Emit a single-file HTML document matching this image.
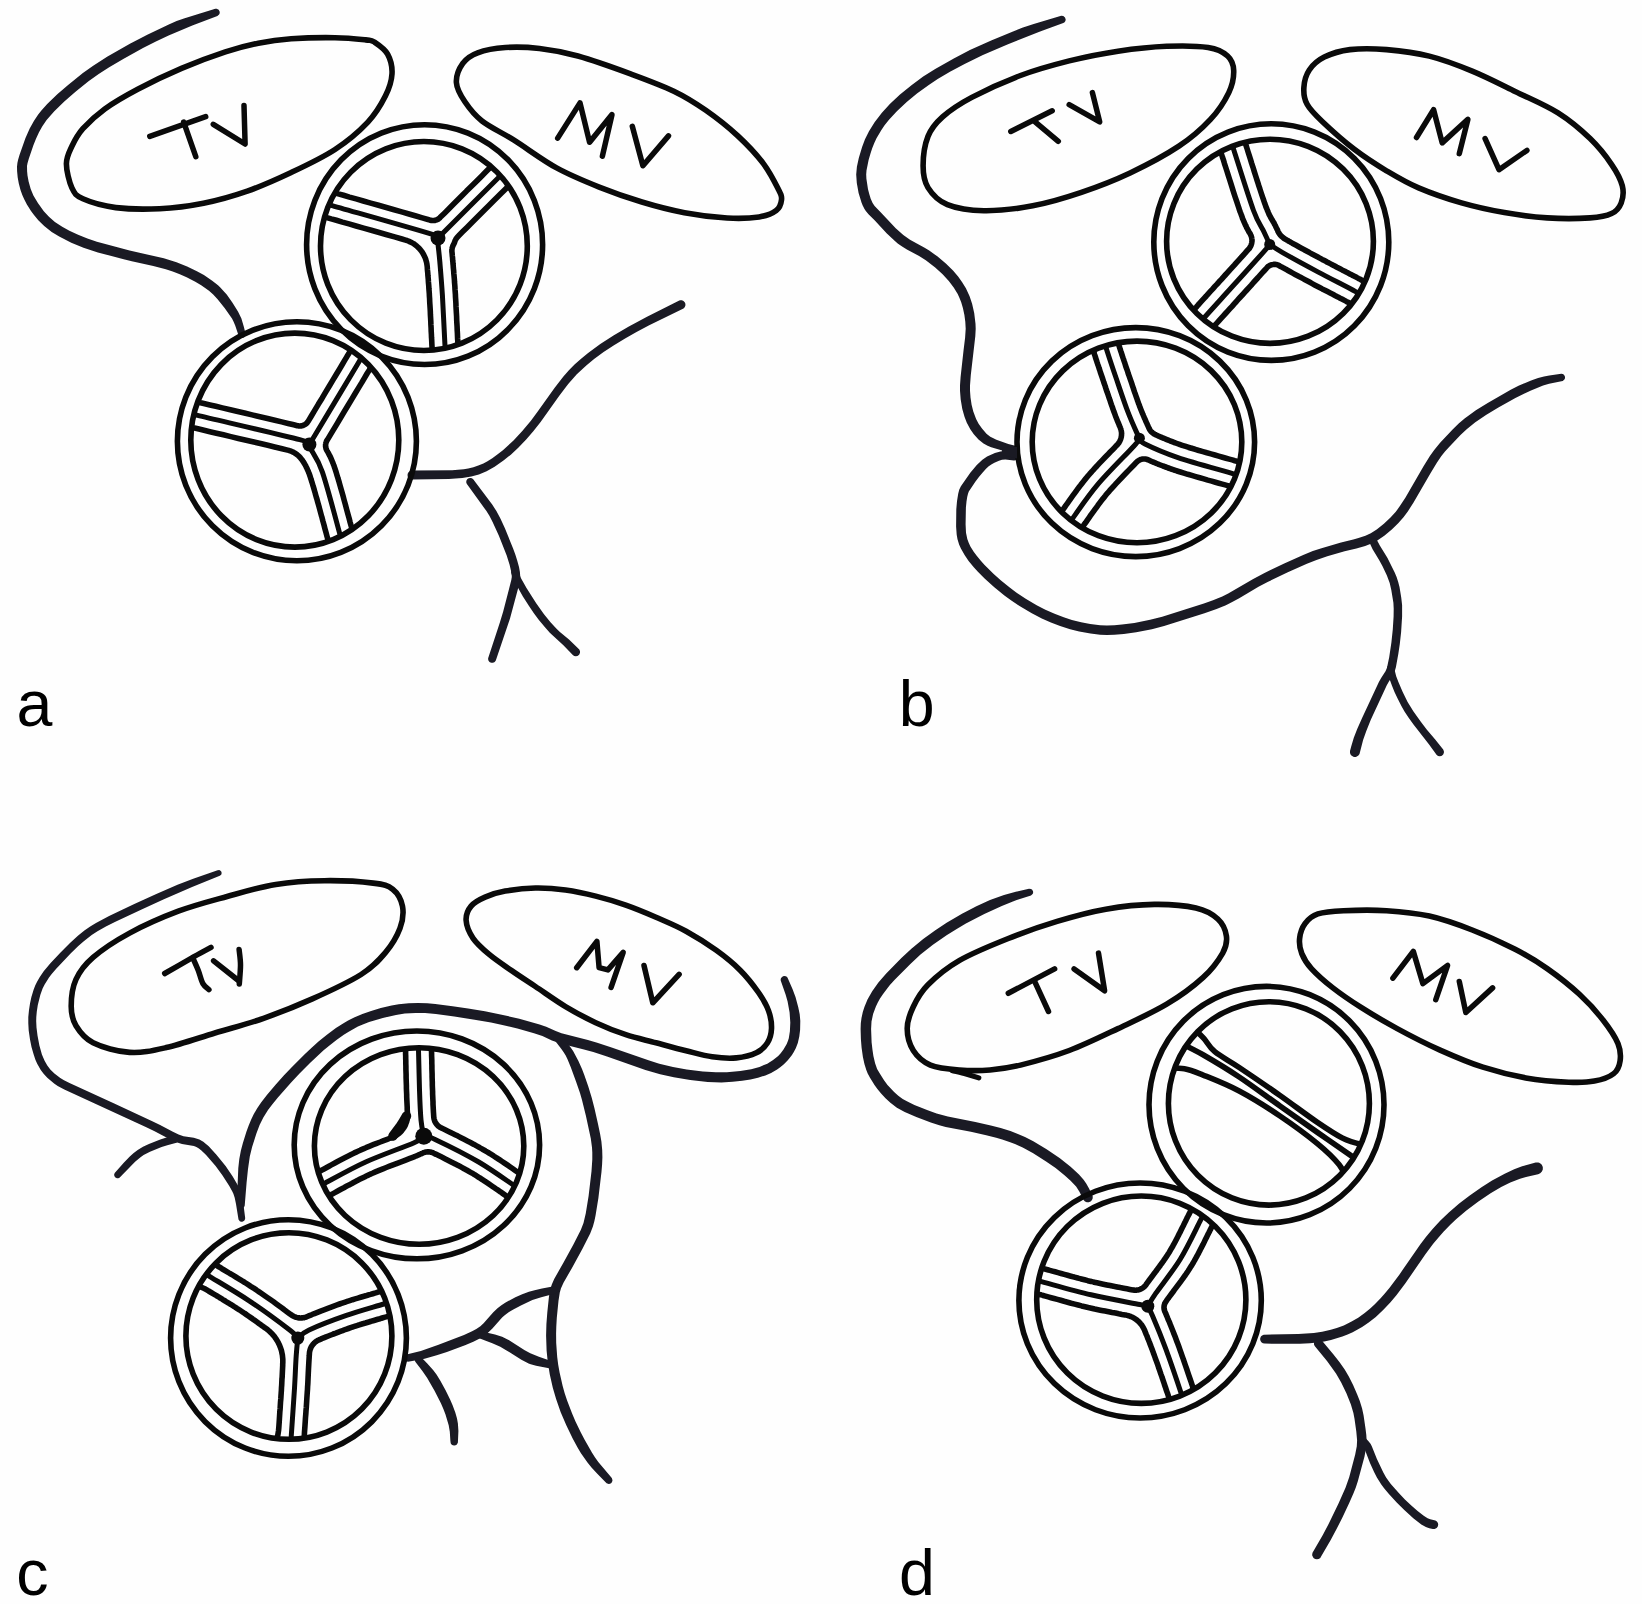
<!DOCTYPE html>
<html><head><meta charset="utf-8"><style>
html,body{margin:0;padding:0;background:#fefefe;}
body{width:1642px;height:1604px;overflow:hidden;}
svg{display:block;}
text{font-family:"Liberation Sans",sans-serif;font-size:64.5px;fill:#000;}
</style></head><body>
<svg width="1642" height="1604" viewBox="0 0 1642 1604" stroke-linecap="round" stroke-linejoin="round">
<defs><clipPath id="cl1"><ellipse cx="423.9" cy="246" rx="103.4" ry="104.5" transform="rotate(0 423.9 246)"/></clipPath><clipPath id="cl2"><ellipse cx="294.8" cy="440.1" rx="104" ry="107" transform="rotate(0 294.8 440.1)"/></clipPath><clipPath id="cl3"><ellipse cx="1270" cy="241.3" rx="103.4" ry="102.1" transform="rotate(0 1270 241.3)"/></clipPath><clipPath id="cl4"><ellipse cx="1137" cy="441.9" rx="104.8" ry="100.8" transform="rotate(0 1137 441.9)"/></clipPath><clipPath id="cl5"><ellipse cx="419.1" cy="1146" rx="104.7" ry="98.2" transform="rotate(0 419.1 1146)"/></clipPath><clipPath id="cl6"><ellipse cx="288.9" cy="1336" rx="103" ry="103.3" transform="rotate(0 288.9 1336)"/></clipPath><clipPath id="cl7"><ellipse cx="1141.3" cy="1299.7" rx="104.6" ry="103.7" transform="rotate(0 1141.3 1299.7)"/></clipPath><clipPath id="cl8"><ellipse cx="1268.9" cy="1103.4" rx="100.5" ry="101.7"/></clipPath></defs>
<path d="M25.4 138.3 L19.5 154.9 L18.1 159.7 L17.4 162.9 L17 166.8 L17.1 171.2 L17.7 177.5 L18.8 183.5 L20.5 189.9 L22.3 195.1 L24.2 199.3 L26.9 204.4 L31 210.9 L34.2 215.2 L38.3 220.2 L44.2 226.1 L51.7 232 L59.2 236.6 L71.3 242.7 L83.5 247.7 L97.9 252.4 L123.7 259.3 L131.8 261.3 L153.3 266 L165.8 269.2 L172.7 271.4 L179.8 274.2 L186.6 277.2 L195.3 281.7 L201.2 285.3 L209 290.8 L213.2 294.6 L217.6 299.2 L224.6 308 L232 318.6 L233.6 321.8 L235.2 325.6 L238.8 336.3 L239.8 337.3 L241.2 337.9 L242.6 337.9 L244.6 336.9 L245.4 335.6 L245.7 334.2 L243.9 326.9 L241.4 318.6 L238.1 311.7 L232.5 302.7 L226.7 294.5 L220.3 287.5 L218 285.3 L212.2 280.7 L203.9 275.1 L196.9 271.2 L187.1 266.5 L176.5 262.2 L163.8 258.3 L129.6 250.5 L96.9 241.7 L87.4 238.5 L78.1 234.7 L69.4 230.7 L62.2 226.8 L54.9 222 L49.2 217.1 L43.8 211.3 L37.9 203.1 L33.4 195.5 L30.7 189.1 L28.6 181.6 L27.5 175.5 L27.1 171.2 L27 166 L27.5 163.3 L28.8 158.8 L33.4 145.3 L35.9 138.9 L39 132.2 L42.2 126.4 L46.6 120 L54.3 111.2 L64.3 101.4 L75.2 92 L88.5 81.3 L98.7 74 L109.2 67.3 L123.7 58.7 L143 48.1 L155.9 41.6 L168.6 35.6 L192.3 25.4 L217.4 16 L219.1 14.6 L219.7 13.2 L219.7 11.8 L218.7 9.8 L216.7 8.8 L215.3 8.8 L184.7 18.3 L176.6 21.1 L168.8 24.5 L147.8 34.5 L129.9 43.8 L107.1 56.8 L93.2 65.7 L82.9 73 L68.1 84.9 L57.3 94.3 L47.2 104.1 L41.4 110.5 L38.2 114.4 L33.9 120.9 L29.7 128.4Z" fill="#1a1a24"/>
<path d="M66.4 163.7C66.4 170.6 69.2 182.1 71.9 187.9C74.7 193.8 75.6 195.5 82.9 198.8C90.2 202.1 103 205.9 115.8 207.6C128.6 209.2 145 209.4 159.6 208.7C174.2 208 188.9 206.1 203.5 203.2C218.1 200.3 232.7 196.2 247.3 191.1C261.9 186 276.6 179.4 291.2 172.5C305.8 165.6 322.2 157.9 335 149.5C347.8 141.1 359.5 131 367.9 122.1C376.3 113.1 381.5 103.8 385.5 95.8C389.5 87.8 391.6 80.9 392 73.9C392.4 67 390.5 59.4 387.6 54.1C384.7 48.8 378.1 44.5 374.5 42.1C370.9 39.7 372.3 40.6 365.7 39.9C359.1 39.2 347.4 37.9 335 37.7C322.6 37.5 304 37.9 291.2 38.8C278.4 39.7 269.3 41 258.3 43.2C247.3 45.4 238.2 47.7 225.4 51.9C212.6 56.1 196.1 62.2 181.5 68.4C166.9 74.6 150.5 82.5 137.7 89.2C124.9 96 113.9 102.3 104.8 108.9C95.7 115.5 88.4 122.5 82.9 128.7C77.4 134.9 74.7 140.4 71.9 146.2C69.2 152 66.4 156.8 66.4 163.7Z" stroke="#0a0a0a" stroke-width="5.6" fill="none"/>
<path d="M149.8 136.3 L205.7 116.6" stroke="#0a0a0a" stroke-width="5.5" fill="none"/>
<path d="M183.7 122.1 L195.8 156.7" stroke="#0a0a0a" stroke-width="5.5" fill="none"/>
<path d="M213.3 124.3 L245.1 144 L244 105.6" stroke="#0a0a0a" stroke-width="5.5" fill="none"/>
<path d="M456.4 82.6C456 76.2 459.2 68.4 462.8 63.4C466.4 58.4 470.6 55.4 477.7 52.8C484.8 50.1 495.1 48.2 505.4 47.5C515.7 46.8 527.4 47.1 539.5 48.5C551.6 49.9 562.6 51.7 577.9 56C593.2 60.3 615.2 68.2 631.2 74.1C647.2 80 661.4 85.2 673.8 91.2C686.2 97.2 695.1 102.8 705.8 110.3C716.5 117.8 728.2 127 737.8 135.9C747.4 144.8 756.6 154.7 763.4 163.6C770.1 172.5 775.3 183.1 778.3 189.2C781.3 195.2 781.9 196.3 781.5 199.9C781.1 203.5 779.9 207.7 776.2 210.5C772.5 213.3 767.3 215.7 759.1 216.9C750.9 218.2 739.5 218.7 727.1 218C714.7 217.3 698.7 215.4 684.5 212.7C670.3 210 656.1 206.3 641.9 202C627.7 197.7 613.4 192.8 599.2 187.1C585 181.4 570.8 175.7 556.6 167.9C542.4 160.1 526.4 148 514 140.2C501.6 132.4 490.2 127.4 482 121C473.8 114.6 469.2 108.2 464.9 101.8C460.6 95.4 456.8 89 456.4 82.6Z" stroke="#0a0a0a" stroke-width="5.6" fill="none"/>
<path d="M557.7 138.1 L580 102.9 L589.6 142.3 L612 114.6 L602.4 156.2" stroke="#0a0a0a" stroke-width="5.5" fill="none"/>
<path d="M632.3 126.3 L642.9 165.8 L668.5 135.9" stroke="#0a0a0a" stroke-width="5.5" fill="none"/>
<path d="M473.4 467.3 L468.2 468.6 L463.8 469.3 L452.1 470.3 L411.1 470.6 L409.5 471.3 L408.3 472.5 L407.6 474.1 L407.6 475.9 L407.8 476.7 L408.8 478.2 L410.3 479.2 L412 479.5 L448.8 479 L462.4 478 L471.3 476.6 L478.9 474.4 L486.6 471.2 L494.6 466.8 L503.8 460.3 L511.1 454.4 L518.5 447.5 L526.4 439.3 L533.5 431 L540.6 421.9 L559.1 396 L568.2 383.9 L576.8 374.3 L586.3 365.4 L594.1 359.1 L603.6 352.1 L614 345.2 L625.1 338.4 L636.5 332 L648.7 325.5 L683.5 308.4 L684.7 307.2 L685.4 305.6 L685.4 303.8 L684.7 302.2 L683.5 301 L681.9 300.3 L680.1 300.3 L679.3 300.5 L647 316.8 L628.4 326.7 L613.9 335.2 L600.3 344.1 L588.1 353 L581.4 358.4 L574.8 364.3 L568.9 370.3 L563.4 376.4 L554.5 387.9 L537.9 411.3 L530.9 420.7 L522.3 431.1 L513.5 440.5 L502.9 450.2 L498 454.1 L492.3 458.2 L487.5 461.2 L483.4 463.4 L478.3 465.6Z" fill="#1a1a24"/>
<path d="M466.3 481.1 L466.3 482.7 L466.9 484.1 L486.1 510.6 L489.4 515.8 L492.6 521.9 L498.9 535.7 L506.7 555.5 L509.6 564.8 L511.6 573.6 L511.8 576.9 L511.3 580.1 L503.2 611.5 L499.7 622.9 L488.2 658.1 L488.1 658.9 L488.4 660.4 L489.3 661.7 L489.9 662.2 L491.3 662.8 L492.9 662.8 L494.3 662.2 L494.9 661.7 L495.8 660.4 L510 618.5 L517.8 589.4 L519.8 581 L520.3 576.9 L519.9 572 L519 567 L517.2 560.5 L515.4 554.7 L513.1 548.5 L504.9 528.3 L500.4 518.6 L496.4 511.1 L492.2 504.6 L473 479.1 L471.7 478.2 L471 478 L470.2 477.9 L468.7 478.2 L467.4 479.1 L466.5 480.4Z" fill="#1a1a24"/>
<path d="M511.3 570.7 L511.1 572.7 L512.8 577.4 L514.9 582.1 L518.7 589.1 L522.9 596.4 L529 606.1 L533.7 612.9 L538.9 619.9 L545.2 627.6 L549.8 632.8 L563.4 645.2 L572.8 655 L574.2 655.9 L575.8 656.2 L577.4 655.9 L578.2 655.5 L579.3 654.4 L580 652.8 L580 651.2 L579.3 649.6 L569 639.6 L559.9 632 L556.3 628.6 L550.5 622.3 L544 614.3 L536.2 603.3 L526.5 587.9 L521 578.3 L517.4 570.1 L515.8 568.8 L514.5 568.5 L512.6 569.1Z" fill="#1a1a24"/>
<ellipse cx="424.6" cy="244.6" rx="118" ry="119.9" transform="rotate(0 424.6 244.6)" stroke="#0a0a0a" stroke-width="5.6" fill="none"/>
<ellipse cx="423.9" cy="246" rx="103.4" ry="104.5" transform="rotate(0 423.9 246)" stroke="#0a0a0a" stroke-width="5.6" fill="none"/>
<g clip-path="url(#cl1)">
<path d="M458 236.4 L457.5 236.9 L457.1 237.4 L456.7 237.9 L456.3 238.4 L456 238.9 L455.7 239.5 L455.4 240.1 L455.1 240.6 L454.9 241.2 L454.7 241.8 L454.7 242 L454.6 242.3 L454.4 242.6 L454.3 242.9 L454.2 243.2 L454.1 243.5 L453.9 243.8 L453.8 244.1 L453.6 244.4 L453.6 244.5 L453.3 245 L453 245.6 L452.8 246.1 L452.6 246.7 L452.4 247.3 L452.2 247.9 L452.1 248.5 L452 249.2 L451.9 249.8 L451.9 250.4 L451.9 251 L451.9 251.7 L452 252.3 L452.1 253.3 L452.2 254.5 L452.3 255.8 L452.5 257.3 L452.6 258.8 L452.7 260.4 L452.9 262 L453 263.7 L453.2 265.4 L453.3 267.3 L453.5 269.2 L453.7 271.1 L453.8 273.2 L454 275.3 L454.2 277.5 L454.4 279.7 L454.5 282 L454.7 284.3 L454.9 286.8 L455 289.2 L455.2 291.8 L455.4 294.4 L455.5 297.1 L455.7 300 L455.9 303.2 L456 306.4 L456.2 309.8 L456.4 313.2 L456.6 316.6 L456.7 320.1 L456.9 323.5 L457.1 326.8 L457.2 330 L457.4 333.1 L457.5 336 L457.6 338.7 L457.6 338.7 L457.8 341.1 L457.8 341.2 L457.9 343.3 L457.9 343.3 L458 345.2 L458 345.2 L458.1 346.9 L458.1 346.9 L458.2 348.4 L458.2 348.5 L458.3 349.8 L458.3 349.9 L458.4 351.1 L458.4 351.1 L458.4 352.2 L458.4 352.2 L458.5 353.2 L458.5 353.2 L458.6 354 L458.6 354.1 L458.6 354.8 L458.6 354.9 L458.7 355.6 L458.7 355.6 L458.7 356.2 L458.8 356.8 L458.8 357.4 L458.9 357.9 L458.9 358.5 L459 359.1 L459.7 368.9 L459.7 369.5 L459.8 370.2 L460 370.8 L460.1 371.4 L460.3 372 L460.5 372.6 L460.8 373.2 L461 373.8 L461.3 374.4 L461.7 374.9 L462 375.5 L462.4 376 L462.8 376.5 L463.3 377 L463.7 377.4 L464.2 377.8 L464.7 378.3 L465.2 378.6 L465.8 379 L466.3 379.3 L466.9 379.6 L467.5 379.9 L468.1 380.1 L468.7 380.3 L469.3 380.5 L469.9 380.7 L470.5 380.8 L471.2 380.9 L471.8 380.9 L472.5 381 L473.1 380.9 L473.8 380.9 L474.4 380.8 L475 380.7 L475.7 380.6 L476.3 380.4 L476.9 380.2 L477.5 380 L478.6 379.6 L478.9 379.4 L481.9 378.2 L482.2 378 L485.1 376.7 L485.4 376.6 L488.2 375.1 L488.5 375 L491.4 373.5 L491.6 373.4 L494.4 371.8 L494.7 371.6 L497.5 370 L497.8 369.9 L500.5 368.2 L500.8 368 L503.4 366.2 L503.7 366.1 L506.3 364.2 L506.6 364 L509.2 362.2 L509.5 362 L512 360 L512.2 359.8 L514.7 357.8 L515 357.6 L517.4 355.5 L517.7 355.3 L520.1 353.2 L520.3 353 L522.7 350.8 L522.9 350.5 L525.2 348.3 L525.4 348.1 L527.6 345.8 L527.9 345.5 L530 343.2 L530.3 342.9 L532.4 340.5 L532.6 340.3 L534.6 337.8 L534.8 337.5 L536.8 335 L537 334.8 L539 332.2 L539.2 331.9 L541 329.3 L541.2 329.1 L543 326.4 L543.2 326.1 L545 323.4 L545.1 323.2 L546.8 320.4 L547 320.2 L548.6 317.4 L548.7 317.1 L550.3 314.3 L550.4 314 L551.9 311.1 L552.1 310.8 L553.5 307.9 L553.6 307.6 L554.9 304.7 L555.1 304.4 L556.3 301.4 L556.4 301.2 L557.6 298.2 L557.7 297.9 L558.9 294.8 L559 294.5 L560 291.5 L560.1 291.2 L561.1 288.1 L561.2 287.8 L562.1 284.7 L562.1 284.4 L563 281.3 L563 281 L563.8 277.8 L563.8 277.5 L564.5 274.3 L564.6 274 L565.2 270.9 L565.2 270.5 L565.7 267.4 L565.8 267 L566.2 263.8 L566.2 263.5 L566.6 260.3 L566.6 260 L566.9 256.8 L566.9 256.5 L567.1 253.2 L567.1 252.9 L567.3 249.7 L567.3 249.4 L567.3 246.2 L567.3 245.8 L567.3 242.6 L567.3 242.3 L567.1 239.1 L567.1 238.8 L566.9 235.5 L566.9 235.2 L566.6 232 L566.6 231.7 L566.2 228.5 L566.2 228.2 L565.8 225 L565.7 224.6 L565.2 221.5 L565.2 221.1 L564.6 218 L564.5 217.7 L563.8 214.5 L563.8 214.2 L563 211 L563 210.7 L562.1 207.6 L562.1 207.3 L561.2 204.2 L561.1 203.9 L560.1 200.8 L560 200.5 L559 197.5 L558.9 197.2 L557.7 194.1 L557.6 193.8 L556.4 190.8 L556.3 190.6 L555.1 187.6 L554.9 187.3 L553.6 184.4 L553.5 184.1 L552.1 181.2 L551.9 180.9 L550.4 178 L550.3 177.7 L548.7 174.9 L548.6 174.6 L547 171.8 L546.8 171.6 L546.3 170.7 L545.9 170.2 L545.6 169.7 L545.2 169.2 L544.8 168.7 L544.3 168.2 L543.8 167.8 L543.4 167.4 L542.9 167 L542.3 166.6 L541.8 166.3 L541.2 166 L540.7 165.7 L540.1 165.5 L539.5 165.2 L538.9 165 L538.3 164.9 L537.6 164.7 L537 164.6 L536.4 164.6 L535.7 164.5 L535.1 164.5 L534.5 164.5 L533.8 164.6 L533.2 164.7 L532.6 164.8 L532 164.9 L531.3 165.1 L530.7 165.3 L530.2 165.5 L529.6 165.8 L529 166.1 L528.5 166.4 L527.9 166.7 L527.4 167.1 L526.9 167.5 L526.4 167.9 L526 168.4 L519.2 175.1 L518.9 175.5 L518.9 175.5 L518.6 175.8 L518.6 175.8 L518.4 176 L518.3 176.1 L518.1 176.3 L517.8 176.6 L517.5 177 L517 177.4 L516.5 177.9 L515.9 178.6 L515.1 179.3 L514.2 180.3 L513.1 181.4 L511.8 182.7 L510.2 184.3 L508.4 186.1 L506.3 188.2 L503.8 190.7 L500.7 193.8 L497.2 197.3 L493.4 201.1 L489.2 205.2 L484.9 209.5 L480.4 214 L475.9 218.5 L471.4 223 L467 227.4 L462.8 231.6 L458.9 235.5ZM302 169.9 L301.8 170.3 L301.5 170.8 L301.3 171.2 L301.2 171.7 L301 172.1 L300.9 172.6 L300.8 173.1 L300.7 173.6 L300.6 174 L300.6 174.5 L300.5 175 L300.6 175.5 L300.6 176 L300.6 176.5 L300.7 177 L300.8 177.5 L301 177.9 L301.1 178.4 L301.3 178.9 L301.5 179.3 L301.7 179.8 L301.9 180.2 L302.2 180.6 L302.5 181 L302.8 181.4 L303.1 181.8 L303.4 182.1 L303.8 182.5 L304.2 182.8 L304.6 183.1 L305 183.4 L305.4 183.7 L305.8 183.9 L306.2 184.1 L306.7 184.3 L307.1 184.5 L307.6 184.7 L313.7 186.6 L313.8 186.6 L314.3 186.7 L314.4 186.8 L314.9 186.9 L315 186.9 L315.4 187.1 L315.5 187.1 L315.8 187.2 L316.2 187.3 L316.2 187.3 L316.5 187.4 L316.6 187.5 L317 187.6 L317 187.6 L317.6 187.8 L317.7 187.8 L318.5 188 L318.5 188.1 L319.6 188.4 L319.6 188.4 L321 188.8 L321 188.8 L322.7 189.3 L322.7 189.3 L324.8 189.9 L324.9 189.9 L327.4 190.7 L327.4 190.7 L330.4 191.6 L330.5 191.6 L334 192.6 L334 192.6 L338.3 193.9 L338.3 193.9 L343.5 195.3 L349.5 197.1 L356.1 198.9 L363.3 201 L370.7 203.1 L378.5 205.3 L386.3 207.5 L394.1 209.7 L401.7 211.9 L409 214 L416 216 L422.3 217.9 L428 219.5 L430.1 220.1 L430.6 220.3 L431.1 220.4 L431.5 220.4 L432 220.5 L432.5 220.5 L433 220.5 L433.5 220.5 L434 220.5 L434.5 220.4 L434.9 220.4 L435.4 220.2 L435.9 220.1 L436.3 220 L436.8 219.8 L437.2 219.6 L437.7 219.4 L438.1 219.1 L438.5 218.9 L438.9 218.6 L439.3 218.3 L439.7 218 L440 217.6 L440.5 217.1 L444.5 213.2 L448.7 209 L453.1 204.6 L457.6 200.1 L462.1 195.6 L466.5 191.1 L470.9 186.8 L475 182.7 L478.8 178.9 L482.3 175.4 L485.4 172.3 L487.9 169.8 L490 167.7 L491.8 165.9 L493.4 164.4 L494.7 163 L495.7 161.9 L495.8 161.9 L496.6 161 L496.7 161 L497.4 160.3 L497.4 160.3 L498 159.7 L498 159.7 L498.4 159.2 L498.5 159.2 L498.8 158.8 L498.8 158.8 L499.2 158.5 L499.5 158.2 L499.7 157.9 L500 157.6 L500.4 157.3 L500.8 156.9 L511.6 145.9 L512 145.5 L512.3 145.2 L512.6 144.8 L512.8 144.4 L513.1 144 L513.3 143.5 L513.6 143.1 L513.8 142.7 L513.9 142.2 L514.1 141.8 L514.2 141.3 L514.3 140.8 L514.4 140.3 L514.5 139.9 L514.5 139.4 L514.5 138.9 L514.5 138.4 L514.5 137.9 L514.4 137.4 L514.3 137 L514.2 136.5 L514.1 136 L514 135.6 L513.8 135.1 L513.6 134.7 L513.4 134.2 L513.1 133.8 L512.9 133.4 L512.6 133 L512.3 132.6 L512 132.2 L511.7 131.9 L511.3 131.5 L511 131.2 L510.6 130.9 L509.4 130 L509.2 129.9 L506.6 127.9 L506.4 127.8 L503.7 125.9 L503.5 125.8 L500.7 124 L500.5 123.9 L497.7 122.1 L497.5 122 L494.7 120.3 L494.5 120.2 L491.6 118.6 L491.4 118.5 L488.5 117 L488.3 116.9 L485.3 115.4 L485.1 115.3 L482.1 113.9 L481.9 113.8 L478.9 112.5 L478.7 112.5 L475.6 111.2 L475.4 111.1 L472.3 110 L472.1 109.9 L469 108.8 L468.8 108.8 L465.6 107.8 L465.4 107.7 L462.3 106.8 L462 106.7 L458.9 105.9 L458.6 105.8 L455.4 105 L455.2 105 L452 104.3 L451.8 104.3 L448.5 103.7 L448.3 103.6 L445.1 103.1 L444.8 103 L441.6 102.6 L441.3 102.6 L438.1 102.2 L437.8 102.2 L434.6 101.9 L434.3 101.9 L431.1 101.7 L430.8 101.7 L427.5 101.5 L427.3 101.5 L424 101.5 L423.8 101.5 L420.5 101.5 L420.3 101.5 L417 101.7 L416.7 101.7 L413.5 101.9 L413.2 101.9 L410 102.2 L409.7 102.2 L406.5 102.6 L406.2 102.6 L403 103 L402.7 103.1 L399.5 103.6 L399.3 103.7 L396 104.3 L395.8 104.3 L392.6 105 L392.4 105 L389.2 105.8 L388.9 105.9 L385.8 106.7 L385.5 106.8 L382.4 107.7 L382.2 107.8 L379 108.8 L378.8 108.8 L375.7 109.9 L375.5 110 L372.4 111.1 L372.2 111.2 L369.1 112.5 L368.9 112.5 L365.9 113.8 L365.7 113.9 L362.7 115.3 L362.5 115.4 L359.5 116.9 L359.3 117 L356.4 118.5 L356.2 118.6 L353.3 120.2 L353.1 120.3 L350.3 122 L350.1 122.1 L347.3 123.9 L347.1 124 L344.3 125.8 L344.1 125.9 L341.4 127.8 L341.2 127.9 L338.6 129.9 L338.4 130 L335.8 132 L335.6 132.2 L333 134.2 L332.8 134.4 L330.3 136.5 L330.1 136.7 L327.7 138.9 L327.5 139 L325.1 141.3 L324.9 141.4 L322.6 143.7 L322.4 143.9 L320.1 146.3 L320 146.5 L317.7 148.9 L317.6 149.1 L315.4 151.5 L315.2 151.7 L313.1 154.2 L313 154.4 L310.9 157 L310.8 157.2 L308.8 159.8 L308.6 160 L306.7 162.7 L306.6 162.9 L304.7 165.6 L304.6 165.8 L302.8 168.6 L302.7 168.8ZM318.9 215.3 L317.5 214.9 L316.1 214.6 L314.7 214.4 L313.2 214.2 L311.8 214.1 L310.3 214.1 L308.9 214.1 L307.4 214.3 L306 214.4 L304.5 214.7 L303.1 215 L301.7 215.4 L300.3 215.9 L299 216.4 L297.7 217 L296.4 217.7 L295.1 218.4 L293.9 219.2 L292.7 220 L291.5 220.9 L290.4 221.8 L289.4 222.8 L288.4 223.9 L287.4 225 L286.5 226.1 L285.7 227.3 L284.9 228.5 L284.2 229.8 L283.5 231.1 L282.9 232.4 L282.4 233.8 L281.9 235.1 L281.5 236.5 L281.2 238 L280.9 239.4 L280.7 240.8 L280.6 242.3 L280.5 243.7 L280.5 245.6 L280.5 246.4 L280.5 249.2 L280.6 249.9 L280.7 252.7 L280.7 253.5 L280.9 256.3 L280.9 257 L281.2 259.8 L281.2 260.5 L281.5 263.3 L281.6 264.1 L282 266.8 L282.1 267.6 L282.6 270.3 L282.7 271.1 L283.2 273.8 L283.3 274.5 L283.9 277.3 L284.1 278 L284.7 280.8 L284.9 281.5 L285.6 284.2 L285.8 284.9 L286.6 287.6 L286.8 288.3 L287.6 291 L287.9 291.7 L288.8 294.3 L289 295 L290 297.7 L290.2 298.3 L291.3 301 L291.6 301.6 L292.7 304.2 L293 304.9 L294.1 307.4 L294.4 308.1 L295.7 310.6 L296 311.3 L297.3 313.8 L297.6 314.4 L299 316.9 L299.3 317.5 L300.7 320 L301.1 320.6 L302.6 323 L302.9 323.6 L304.5 326 L304.9 326.6 L306.5 328.9 L306.9 329.5 L308.5 331.8 L308.9 332.4 L310.6 334.6 L311.1 335.2 L312.8 337.4 L313.3 338 L315.1 340.1 L315.6 340.7 L317.4 342.8 L317.9 343.3 L319.8 345.4 L320.3 345.9 L322.2 347.9 L322.8 348.4 L324.8 350.4 L325.3 350.9 L327.3 352.8 L327.9 353.3 L330 355.2 L330.5 355.7 L332.6 357.5 L333.2 357.9 L335.4 359.7 L336 360.1 L338.2 361.8 L338.8 362.3 L341 363.9 L341.6 364.4 L343.9 365.9 L344.5 366.3 L346.9 367.9 L347.5 368.3 L349.9 369.7 L350.5 370.1 L352.9 371.5 L353.5 371.9 L356 373.3 L356.6 373.6 L359.1 374.9 L359.8 375.2 L362.3 376.5 L362.9 376.8 L365.5 377.9 L366.1 378.3 L368.7 379.4 L369.4 379.6 L371.9 380.7 L372.6 380.9 L375.2 381.9 L375.9 382.2 L378.6 383.1 L379.3 383.3 L381.9 384.2 L382.6 384.4 L385.3 385.2 L386 385.4 L388.7 386.1 L389.4 386.3 L392.1 386.9 L392.8 387.1 L395.6 387.6 L396.3 387.8 L397.2 388 L398.7 388.2 L400.2 388.4 L401.6 388.5 L403.1 388.5 L404.6 388.4 L406.1 388.3 L407.6 388.1 L409 387.8 L410.5 387.5 L411.9 387.1 L413.3 386.6 L414.7 386 L416 385.4 L417.3 384.7 L418.6 383.9 L419.8 383.1 L421 382.3 L422.2 381.3 L423.3 380.3 L424.4 379.3 L425.4 378.2 L426.3 377 L427.2 375.9 L428 374.6 L428.8 373.4 L429.5 372 L430.1 370.7 L430.7 369.3 L431.2 367.9 L431.6 366.5 L432 365.1 L432.3 363.6 L432.5 362.2 L432.7 360.7 L432.7 359.2 L432.7 357.7 L432.7 356.2 L432.6 355.1 L432.5 354.1 L432.4 352.9 L432.3 351.6 L432.2 350.1 L432.1 348.5 L432 346.7 L431.9 344.8 L431.8 342.6 L431.7 340.1 L431.5 337.3 L431.4 334.4 L431.2 331.3 L431.1 328.1 L430.9 324.7 L430.8 321.3 L430.6 317.9 L430.4 314.5 L430.3 311.1 L430.3 311.1 L430.1 307.8 L430.1 307.8 L429.9 304.6 L429.9 304.6 L429.7 301.6 L429.7 301.5 L429.6 298.7 L429.6 298.6 L429.4 296 L429.4 295.9 L429.3 293.5 L429.3 293.4 L429.1 291.1 L429.1 291 L428.9 288.6 L428.9 288.6 L428.8 286.3 L428.8 286.2 L428.6 284 L428.6 283.9 L428.4 281.7 L428.4 281.7 L428.3 279.5 L428.3 279.5 L428.1 277.4 L428.1 277.4 L427.9 275.3 L427.9 275.3 L427.8 273.3 L427.8 273.3 L427.6 271.4 L427.4 269.5 L427.3 267.7 L427.2 266.3 L427 264.9 L426.8 263.5 L426.5 262.1 L426.1 260.7 L425.7 259.3 L425.2 257.9 L424.6 256.6 L424 255.3 L423.3 254 L422.6 252.8 L421.8 251.6 L420.9 250.4 L420 249.3 L419 248.2 L418 247.2 L416.9 246.2 L415.8 245.3 L414.7 244.5 L413.5 243.6 L412.2 242.9 L410.9 242.2 L409.6 241.6 L408.3 241 L407 240.5 L405.6 240.1 L401.9 239 L401.9 239 L394.6 236.9 L386.9 234.7 L379.2 232.5 L371.3 230.3 L363.6 228.1 L356.1 226 L349 223.9 L342.4 222.1 L336.4 220.3 L331.2 218.9 L326.8 217.6 L323.2 216.6 L320.2 215.7Z" stroke="#0a0a0a" stroke-width="5.6" fill="none" stroke-linejoin="round"/>
<path d="M438 238C437.2 237.4 451 240.1 433.1 234.6C415.2 229.1 350.9 211 330.4 205.1C309.9 199.2 318.2 201.4 310 199C301.8 196.6 286 191.8 281.3 190.4" stroke="#0a0a0a" stroke-width="5" fill="none"/>
<path d="M438 238C447.9 228.2 485.1 191 497.1 179C509.1 167 504.3 171.7 510 166C515.7 160.3 527.6 148.3 531.1 144.7" stroke="#0a0a0a" stroke-width="5" fill="none"/>
<path d="M438 238C438 239.1 437.8 240.8 438.1 244.7C438.4 248.6 439.1 253.1 439.8 261.5C440.5 269.9 441.5 281.4 442.4 295.2C443.2 308.9 444.3 333.2 444.9 344C445.5 354.8 445.5 352.3 446 360C446.5 367.7 447.7 384.9 448.1 389.9" stroke="#0a0a0a" stroke-width="5" fill="none"/>
<circle cx="438" cy="238" r="7.5" fill="#0a0a0a"/>
</g>
<ellipse cx="296.9" cy="441.3" rx="119.5" ry="119.5" transform="rotate(0 296.9 441.3)" stroke="#0a0a0a" stroke-width="5.6" fill="none"/>
<ellipse cx="294.8" cy="440.1" rx="104" ry="107" transform="rotate(0 294.8 440.1)" stroke="#0a0a0a" stroke-width="5.6" fill="none"/>
<g clip-path="url(#cl2)">
<path d="M326.9 450.6 L326.9 450.6 L327.7 451.9 L327.7 451.9 L327.8 452.1 L327.9 452.2 L328.6 453.6 L328.6 453.6 L328.8 453.9 L328.8 453.9 L329.6 455.5 L329.6 455.5 L329.7 455.8 L329.8 455.8 L330.6 457.5 L330.6 457.6 L330.7 457.8 L330.8 457.9 L331.6 459.8 L331.6 459.8 L331.7 460.1 L331.8 460.2 L332.6 462.2 L332.6 462.3 L332.7 462.5 L332.8 462.6 L333.6 464.9 L333.6 464.9 L333.7 465.2 L333.8 465.2 L334.6 467.7 L334.7 467.8 L334.7 468 L334.8 468.1 L335.7 470.9 L335.8 471.1 L336.8 474.5 L336.8 474.6 L338 478.3 L338 478.4 L339.2 482.4 L339.2 482.5 L340.4 486.7 L341.7 491.2 L343 495.8 L344.2 500.4 L345.5 505 L346.7 509.6 L347.9 514 L349.1 518.2 L350.1 522.2 L351.1 525.8 L352 529.1 L352 529.1 L352.7 531.9 L353.4 534.3 L354 536.6 L354.5 538.7 L355 540.5 L355 540.6 L355.4 542.2 L355.5 542.3 L355.8 543.7 L355.8 543.7 L356.1 545 L356.1 545.1 L356.4 546.2 L356.4 546.3 L356.6 547.3 L356.6 547.3 L356.8 548.2 L357 549.1 L357.2 549.8 L357.3 550.4 L357.3 550.5 L357.4 550.9 L357.4 551 L357.5 551.4 L357.5 551.5 L357.7 552 L358.8 556.8 L358.9 557.3 L359.1 557.7 L359.2 558.2 L359.4 558.7 L359.6 559.1 L359.9 559.5 L360.1 560 L360.4 560.4 L360.7 560.8 L361 561.1 L361.4 561.5 L361.7 561.8 L362.1 562.2 L362.5 562.5 L362.9 562.8 L363.3 563 L363.7 563.3 L364.2 563.5 L364.6 563.7 L365.1 563.9 L365.5 564 L366 564.2 L366.5 564.3 L367 564.4 L367.5 564.4 L368 564.5 L368.5 564.5 L368.9 564.5 L369.4 564.5 L369.9 564.4 L370.4 564.3 L370.9 564.2 L371.4 564.1 L371.8 563.9 L372.3 563.8 L372.8 563.6 L373.2 563.3 L373.6 563.1 L374 562.8 L374.7 562.4 L374.9 562.3 L377.6 560.4 L377.8 560.2 L380.5 558.2 L380.7 558.1 L383.3 556.1 L383.5 555.9 L386.1 553.8 L386.2 553.7 L388.8 551.5 L388.9 551.3 L391.4 549.1 L391.6 548.9 L394 546.6 L394.2 546.5 L396.5 544.1 L396.7 544 L399 541.6 L399.2 541.4 L401.4 538.9 L401.6 538.7 L403.8 536.2 L403.9 536 L406 533.5 L406.2 533.3 L408.2 530.6 L408.4 530.4 L410.4 527.8 L410.5 527.6 L412.5 524.8 L412.6 524.6 L414.5 521.9 L414.6 521.7 L416.4 518.8 L416.5 518.6 L418.3 515.8 L418.4 515.6 L420 512.7 L420.2 512.4 L421.7 509.5 L421.9 509.3 L423.4 506.3 L423.5 506.1 L424.9 503.1 L425 502.8 L426.4 499.8 L426.5 499.6 L427.8 496.5 L427.9 496.2 L429.1 493.1 L429.2 492.9 L430.3 489.7 L430.4 489.5 L431.5 486.3 L431.6 486.1 L432.6 482.9 L432.6 482.7 L433.6 479.4 L433.6 479.2 L434.5 475.9 L434.5 475.7 L435.3 472.4 L435.3 472.2 L436 468.9 L436.1 468.7 L436.7 465.3 L436.7 465.1 L437.2 461.8 L437.3 461.6 L437.7 458.2 L437.7 458 L438.1 454.6 L438.1 454.4 L438.4 451 L438.4 450.8 L438.6 447.4 L438.6 447.2 L438.8 443.8 L438.8 443.6 L438.8 440.2 L438.8 440 L438.8 436.6 L438.8 436.4 L438.6 433 L438.6 432.8 L438.4 429.4 L438.4 429.2 L438.1 425.8 L438.1 425.6 L437.7 422.2 L437.7 422 L437.3 418.6 L437.2 418.4 L436.7 415.1 L436.7 414.9 L436.1 411.5 L436 411.3 L435.3 408 L435.3 407.8 L434.5 404.5 L434.5 404.3 L433.6 401 L433.6 400.8 L432.6 397.5 L432.6 397.3 L431.6 394.1 L431.5 393.9 L430.4 390.7 L430.3 390.5 L429.2 387.3 L429.1 387.1 L427.9 384 L427.8 383.7 L426.5 380.6 L426.4 380.4 L425 377.4 L424.9 377.1 L423.5 374.1 L423.4 373.9 L421.9 370.9 L421.7 370.7 L420.2 367.8 L420 367.5 L418.4 364.6 L418.3 364.4 L416.5 361.6 L416.4 361.4 L414.6 358.5 L414.5 358.3 L412.6 355.6 L412.5 355.4 L410.5 352.6 L410.4 352.4 L408.4 349.8 L408.2 349.6 L406.2 346.9 L406 346.7 L403.9 344.2 L403.8 344 L401.6 341.5 L401.4 341.3 L401.3 341.2 L401 340.8 L400.6 340.5 L400.3 340.2 L399.9 339.9 L399.5 339.6 L399 339.3 L398.6 339.1 L398.2 338.9 L397.7 338.7 L397.3 338.5 L396.8 338.3 L396.3 338.2 L395.8 338.1 L395.4 338 L394.9 338 L394.4 337.9 L393.9 337.9 L393.4 337.9 L392.9 338 L392.4 338 L391.9 338.1 L391.4 338.2 L391 338.4 L390.5 338.5 L390 338.7 L389.6 338.9 L389.2 339.1 L388.7 339.4 L388.3 339.6 L387.9 339.9 L387.5 340.2 L387.2 340.6 L386.8 340.9 L386.5 341.3 L386.2 341.6 L385.9 342 L385.6 342.4 L385.3 342.8 L377.2 356.6 L377.1 356.8 L376.9 357.1 L376.8 357.2 L376.8 357.4 L376.7 357.5 L376.6 357.7 L376.5 357.8 L376.3 358.2 L376 358.7 L375.5 359.5 L375 360.5 L374.2 361.7 L373.3 363.3 L372.2 365.2 L370.8 367.5 L369.2 370.2 L367.1 373.5 L364.7 377.6 L361.9 382.4 L358.7 387.6 L355.3 393.2 L351.8 399.2 L348.1 405.3 L344.3 411.5 L340.6 417.7 L337 423.8 L333.5 429.6 L330.2 435.1 L327.2 440.1 L327 440.4 L326.8 440.8 L326.5 441.3 L326.4 441.7 L326.2 442.2 L326 442.6 L325.9 443.1 L325.8 443.6 L325.7 444.1 L325.6 444.5 L325.6 445 L325.6 445.5 L325.6 446 L325.6 446.5 L325.7 447 L325.8 447.5 L325.9 447.9 L326 448.4 L326.1 448.9 L326.3 449.3 L326.5 449.8 L326.7 450.2ZM162.8 381.4 L162.6 381.8 L162.5 382.3 L162.3 382.8 L162.2 383.2 L162.1 383.7 L162.1 384.2 L162 384.7 L162 385.2 L162 385.7 L162.1 386.2 L162.1 386.7 L162.2 387.1 L162.3 387.6 L162.4 388.1 L162.6 388.6 L162.8 389 L163 389.5 L163.2 389.9 L163.4 390.3 L163.7 390.8 L164 391.2 L164.3 391.5 L164.6 391.9 L164.9 392.3 L165.3 392.6 L165.6 392.9 L166 393.2 L166.4 393.5 L166.8 393.8 L167.3 394 L167.7 394.3 L168.2 394.5 L168.6 394.6 L169.1 394.8 L169.6 394.9 L183.2 398.4 L183.6 398.5 L183.8 398.6 L184.1 398.6 L184.4 398.7 L184.6 398.8 L184.7 398.8 L184.9 398.9 L184.9 398.9 L185.1 398.9 L185.1 398.9 L185.5 399.1 L185.7 399.1 L185.8 399.1 L186.3 399.3 L186.4 399.3 L187.2 399.5 L187.2 399.5 L188.4 399.8 L188.4 399.8 L189.9 400.2 L190 400.2 L191.9 400.6 L191.9 400.7 L194.3 401.2 L194.3 401.2 L197.2 401.9 L197.2 401.9 L200.6 402.8 L200.6 402.8 L204.8 403.8 L204.8 403.8 L209.9 405 L215.8 406.3 L222.3 407.9 L229.3 409.5 L236.7 411.3 L244.4 413 L252.1 414.9 L259.9 416.7 L267.5 418.5 L274.8 420.2 L281.7 421.9 L288.1 423.4 L293.8 424.8 L297.3 425.7 L297.8 425.8 L298.2 425.9 L298.7 425.9 L299.2 426 L299.7 426 L300.2 426 L300.7 425.9 L301.2 425.9 L301.7 425.8 L302.1 425.7 L302.6 425.5 L303.1 425.4 L303.5 425.2 L304 425 L304.4 424.8 L304.8 424.5 L305.3 424.3 L305.7 424 L306 423.7 L306.4 423.4 L306.8 423 L307.1 422.7 L307.4 422.3 L307.7 421.9 L308 421.5 L308.3 421.1 L311.2 416.2 L314.7 410.4 L318.3 404.3 L322.1 398.2 L325.8 391.9 L329.5 385.8 L333 379.9 L336.4 374.2 L339.6 369 L342.4 364.3 L344.8 360.2 L346.8 356.8 L348.5 354.1 L349.8 351.8 L351 349.9 L351.9 348.4 L351.9 348.4 L352.6 347.2 L352.6 347.2 L353.1 346.3 L353.1 346.3 L353.5 345.6 L353.5 345.6 L353.8 345.2 L353.8 345.1 L353.9 344.9 L354.1 344.7 L354.1 344.6 L354.2 344.4 L354.3 344.2 L354.4 344.1 L354.5 343.8 L354.6 343.8 L354.8 343.4 L366.2 324.1 L366.4 323.7 L366.6 323.3 L366.8 322.8 L367 322.4 L367.1 321.9 L367.3 321.4 L367.4 320.9 L367.4 320.5 L367.5 320 L367.5 319.5 L367.5 319 L367.5 318.5 L367.5 318 L367.4 317.5 L367.3 317 L367.2 316.6 L367.1 316.1 L366.9 315.6 L366.8 315.2 L366.6 314.7 L366.3 314.3 L366.1 313.9 L365.8 313.5 L365.5 313.1 L365.2 312.7 L364.9 312.3 L364.6 312 L364.2 311.6 L363.9 311.3 L363.5 311 L363.1 310.7 L362.7 310.5 L362.2 310.2 L359.7 308.9 L359.4 308.7 L356.5 307.3 L356.3 307.2 L353.3 305.8 L353 305.7 L350 304.3 L349.8 304.2 L346.7 303 L346.5 302.9 L343.4 301.7 L343.2 301.7 L340.1 300.6 L339.9 300.5 L336.7 299.5 L336.5 299.4 L333.3 298.5 L333.1 298.4 L329.9 297.5 L329.7 297.5 L326.5 296.7 L326.2 296.6 L323 296 L322.8 295.9 L319.5 295.3 L319.3 295.2 L316.1 294.7 L315.8 294.7 L312.6 294.2 L312.3 294.2 L309 293.8 L308.8 293.8 L305.5 293.5 L305.3 293.5 L302 293.3 L301.7 293.3 L298.5 293.1 L298.2 293.1 L294.9 293.1 L294.7 293.1 L291.4 293.1 L291.1 293.1 L287.9 293.3 L287.6 293.3 L284.3 293.5 L284.1 293.5 L280.8 293.8 L280.6 293.8 L277.3 294.2 L277 294.2 L273.8 294.7 L273.5 294.7 L270.3 295.2 L270.1 295.3 L266.8 295.9 L266.6 296 L263.4 296.6 L263.1 296.7 L259.9 297.5 L259.7 297.5 L256.5 298.4 L256.3 298.5 L253.1 299.4 L252.9 299.5 L249.7 300.5 L249.5 300.6 L246.4 301.7 L246.2 301.7 L243.1 302.9 L242.9 303 L239.8 304.2 L239.6 304.3 L236.6 305.7 L236.3 305.8 L233.3 307.2 L233.1 307.3 L230.2 308.7 L229.9 308.9 L227 310.4 L226.8 310.5 L223.9 312.1 L223.7 312.3 L220.9 314 L220.7 314.1 L217.9 315.8 L217.7 316 L214.9 317.8 L214.7 317.9 L212 319.8 L211.8 320 L209.1 322 L208.9 322.1 L206.3 324.1 L206.1 324.3 L203.5 326.4 L203.4 326.5 L200.8 328.7 L200.7 328.9 L198.2 331.1 L198 331.3 L195.6 333.6 L195.4 333.7 L193.1 336.1 L192.9 336.2 L190.6 338.6 L190.4 338.8 L188.2 341.3 L188 341.5 L185.8 344 L185.7 344.2 L183.6 346.7 L183.4 346.9 L181.4 349.6 L181.2 349.8 L179.2 352.4 L179.1 352.6 L177.1 355.4 L177 355.6 L175.1 358.3 L175 358.5 L173.2 361.4 L173.1 361.6 L171.3 364.4 L171.2 364.6 L169.6 367.5 L169.4 367.8 L167.9 370.7 L167.7 370.9 L166.2 373.9 L166.1 374.1 L164.7 377.1 L164.6 377.4 L163.2 380.4 L163.1 380.6ZM182.2 425 L181 424.8 L179.8 424.6 L178.6 424.4 L177.4 424.3 L176.1 424.3 L174.9 424.3 L173.7 424.4 L172.5 424.6 L171.3 424.8 L170.1 425 L168.9 425.4 L167.8 425.7 L166.6 426.2 L165.5 426.7 L164.4 427.2 L163.4 427.8 L162.4 428.4 L161.4 429.1 L160.4 429.9 L159.5 430.7 L158.6 431.5 L157.7 432.4 L156.9 433.3 L156.2 434.2 L155.5 435.2 L154.8 436.3 L154.2 437.3 L153.6 438.4 L153.1 439.5 L152.7 440.6 L152.3 441.8 L152 443 L151.7 444.1 L151.5 445.3 L151.3 446.5 L151.2 447.8 L151.1 449 L151.2 450.2 L151.2 451.4 L151.5 454.2 L151.5 454.8 L151.9 457.8 L151.9 458.4 L152.3 461.4 L152.4 462 L152.9 464.9 L153 465.5 L153.5 468.5 L153.6 469.1 L154.2 472 L154.4 472.6 L155 475.5 L155.2 476.1 L155.9 479 L156.1 479.6 L156.9 482.5 L157.1 483.1 L158 485.9 L158.2 486.5 L159.1 489.3 L159.3 489.9 L160.3 492.7 L160.6 493.3 L161.7 496.1 L161.9 496.6 L163 499.4 L163.3 499.9 L164.5 502.7 L164.8 503.2 L166 505.9 L166.3 506.5 L167.7 509.1 L167.9 509.7 L169.4 512.3 L169.7 512.8 L171.1 515.4 L171.4 515.9 L173 518.5 L173.3 519 L174.9 521.5 L175.2 522 L176.9 524.5 L177.2 525 L179 527.4 L179.3 527.9 L181.1 530.3 L181.5 530.8 L183.3 533.1 L183.7 533.6 L185.6 535.9 L186 536.3 L187.9 538.6 L188.3 539 L190.3 541.2 L190.7 541.7 L192.8 543.8 L193.2 544.3 L195.3 546.3 L195.7 546.8 L197.9 548.8 L198.3 549.2 L200.5 551.2 L201 551.6 L203.2 553.5 L203.7 553.9 L206 555.8 L206.5 556.2 L208.8 558 L209.3 558.4 L211.6 560.1 L212.1 560.5 L214.5 562.1 L215.1 562.5 L217.5 564.1 L218 564.5 L220.5 566 L221 566.3 L223.6 567.8 L224.1 568.2 L226.6 569.6 L227.2 569.9 L229.8 571.3 L230.3 571.5 L233 572.8 L233.5 573.1 L236.2 574.4 L236.7 574.6 L239.4 575.8 L240 576 L242.7 577.1 L243.3 577.4 L246 578.4 L246.6 578.6 L249.3 579.6 L249.9 579.8 L252.7 580.7 L253.3 580.9 L256.1 581.7 L256.7 581.9 L259.5 582.6 L260.1 582.8 L262.9 583.5 L263.6 583.6 L266.4 584.2 L267 584.3 L269.9 584.9 L270.5 585 L273.4 585.5 L274 585.6 L276.9 586 L277.5 586 L280.4 586.4 L281 586.4 L283.9 586.7 L284.5 586.7 L287.4 586.9 L288 586.9 L291 587 L291.6 587.1 L294.5 587.1 L295.1 587.1 L298 587.1 L298.6 587 L301.6 586.9 L302.2 586.9 L305.1 586.7 L305.7 586.7 L308.6 586.4 L309.2 586.4 L310.3 586.2 L311.5 586.1 L312.7 585.8 L313.9 585.6 L315.1 585.2 L316.3 584.8 L317.4 584.3 L318.5 583.8 L319.6 583.3 L320.7 582.6 L321.7 582 L322.7 581.2 L323.6 580.5 L324.6 579.7 L325.4 578.8 L326.3 577.9 L327.1 577 L327.8 576 L328.5 575 L329.1 573.9 L329.7 572.8 L330.2 571.7 L330.7 570.6 L331.2 569.5 L331.5 568.3 L331.8 567.1 L332.1 565.9 L332.3 564.7 L332.4 563.5 L332.5 562.2 L332.5 561 L332.4 559.8 L332.3 558.6 L332.2 557.3 L331.9 556.1 L331.9 555.9 L331.7 555.2 L331.6 554.5 L331.6 554.4 L331.4 553.7 L331.4 553.6 L331.2 552.9 L331.2 552.8 L331 552 L331 551.9 L330.8 551 L330.8 550.9 L330.5 549.8 L330.5 549.7 L330.2 548.5 L330.2 548.4 L329.8 547 L329.8 546.9 L329.4 545.3 L329.4 545.1 L328.9 543.3 L328.9 543.2 L328.3 541.2 L328.3 541.1 L327.7 538.7 L326.9 535.9 L326 532.6 L325 528.9 L324 525 L322.8 520.8 L321.7 516.4 L321.6 516.4 L320.4 511.9 L320.4 511.9 L319.2 507.4 L319.2 507.3 L317.9 502.8 L317.9 502.7 L316.7 498.3 L316.6 498.2 L315.4 493.9 L315.4 493.8 L314.2 489.8 L314.2 489.6 L313.1 485.9 L313 485.7 L312 482.3 L311.9 482.1 L311 479.2 L310.9 478.8 L310.2 476.6 L310 476 L309.4 474.3 L309.2 473.7 L308.6 472.3 L308.4 471.7 L307.9 470.5 L307.6 469.9 L307.2 468.9 L306.9 468.3 L306.5 467.5 L306.2 466.9 L305.9 466.2 L305.6 465.6 L305.3 465.1 L305 464.5 L304.6 464 L304.4 463.5 L304 462.9 L303.8 462.6 L303.4 461.9 L303.3 461.7 L302.7 460.9 L302.7 460.9 L302.6 460.7 L301.9 459.7 L301.1 458.7 L300.3 457.7 L299.5 456.8 L298.6 455.9 L297.6 455.1 L296.6 454.3 L295.6 453.6 L294.5 452.9 L293.4 452.3 L292.3 451.7 L291.2 451.2 L290 450.8 L288.8 450.4 L287.6 450.1 L282 448.7 L282 448.7 L275.7 447.2 L275.6 447.2 L268.8 445.5 L268.8 445.5 L261.5 443.8 L261.5 443.8 L253.9 442 L246.2 440.2 L238.4 438.4 L230.8 436.6 L223.4 434.8 L216.4 433.2 L209.9 431.7 L204 430.3 L198.9 429.1 L194.6 428.1 L191.1 427.2 L188.2 426.5 L185.8 425.9 L183.8 425.4 L182.1 425Z" stroke="#0a0a0a" stroke-width="5.6" fill="none" stroke-linejoin="round"/>
<path d="M309.4 444.5C307.8 443.7 318.3 444.6 299.7 439.7C281.1 434.8 217.5 420.2 197.6 415.4C177.7 410.6 187.8 412.9 180 411C172.2 409.1 155.7 404.9 150.9 403.7" stroke="#0a0a0a" stroke-width="5" fill="none"/>
<path d="M309.4 444.5C317.5 431 348.6 379.2 358 363.5C367.4 347.8 362.1 356.6 366 350C369.9 343.4 378.7 328.5 381.3 324.2" stroke="#0a0a0a" stroke-width="5" fill="none"/>
<path d="M309.4 444.5C309.7 445.3 308.8 444.8 311 449.4C313.2 454 317.5 457.8 322.4 472.1C327.3 486.4 336.4 521.5 340.2 535.3C344 549.1 343 546.9 345 555C347 563.1 350.9 579.3 352.1 584.1" stroke="#0a0a0a" stroke-width="5" fill="none"/>
<circle cx="309.4" cy="444.5" r="7" fill="#0a0a0a"/>
</g>
<path d="M865 139.3 L862.1 147 L858.8 158 L856.9 166.7 L856.2 174.5 L856.8 182.9 L858.6 193 L861.5 202.5 L862.7 205.5 L864.5 209 L865.8 211 L868.5 214.3 L874.6 220.3 L886.6 233.3 L894.9 241.1 L897.7 243.5 L902.1 246.6 L906.9 249.4 L919.1 256 L925.8 260.3 L935.2 267.5 L942.6 274.2 L948.8 280.9 L953.7 287.4 L957.7 294 L959.5 298 L961.2 302.2 L962.9 308 L964.4 315.1 L965.3 321.8 L965.7 328.8 L965.1 337.8 L963.5 350.8 L960.6 377 L960 385.5 L960 390.8 L960.7 399.4 L962.3 409.1 L964.5 416.7 L966.8 422.8 L970.3 429.3 L973.8 434.3 L978.5 439.4 L983.5 443.5 L987.6 445.8 L991.2 447.2 L1004.8 451.3 L1009.4 452.5 L1014.8 453.4 L1016.9 453.2 L1018.6 451.8 L1019.2 450.4 L1019 448.3 L1017.6 446.6 L1016.2 446 L1008.3 444 L996.4 439.7 L992.9 438.1 L990.3 436.7 L986.7 433.9 L982.2 428.8 L978.6 423.7 L976.1 419 L973.3 411.5 L971.6 404.8 L970.5 397.4 L970 390.8 L970 385.5 L970.8 375.1 L975.3 336.3 L975.7 328.8 L975.5 323.8 L974.2 313.1 L972.1 303.8 L969.6 296.3 L965.9 288.3 L962 281.9 L958.1 276.5 L953 270.5 L946.1 263.7 L937.6 256.6 L929.2 250.5 L924.6 247.7 L910 239.7 L903.3 235.1 L895.7 228.3 L881.6 213.3 L874.6 206.1 L872.6 203.1 L870.7 198.7 L869.4 194.5 L868 189.3 L866.4 178.8 L866.2 174.5 L866.5 170.5 L868.6 160 L870.5 153.4 L872.2 148.3 L874.2 143.2 L876.5 138.3 L881.4 130.1 L884.4 125.6 L889 119.8 L897.1 110.9 L907 101.7 L917.3 93.3 L928.8 84.9 L937.7 79.1 L950 71.8 L964.6 63.9 L982.9 55.1 L1007.4 44.5 L1040.1 31.4 L1063.3 23 L1064.6 22.2 L1065.4 20.9 L1065.7 19.5 L1065 17.4 L1063.3 16 L1061.2 15.8 L1033.7 23.9 L1022.2 27.8 L1013 31.4 L991.2 40.5 L969.9 50.1 L953.8 58.4 L935.2 68.9 L923.2 76.6 L911.8 85 L900 94.6 L890.1 103.8 L881.9 112.7 L874.6 122.3 L869 131.3Z" fill="#1a1a24"/>
<path d="M970.3 472.7 L960.9 486.3 L959.3 489.6 L958.2 493.8 L957 501.2 L956.3 509.3 L956.1 526.5 L956.7 534.7 L957.5 539.2 L959.1 544.4 L960.9 548.5 L964.6 555.1 L968.6 560.9 L974 567.6 L977.9 571.8 L984.6 578.5 L994.3 587.2 L1004.4 595.5 L1011.3 600.6 L1020.4 606.6 L1031.8 613.3 L1041.8 618.5 L1050.9 622.6 L1060.1 626.1 L1070.1 629.3 L1079.2 631.5 L1090.5 633.6 L1100.1 634.7 L1106.9 634.9 L1114.4 634.8 L1123.8 633.9 L1136.2 632.2 L1151.9 629.2 L1164.1 626 L1204.5 613.2 L1216.6 609.1 L1225.9 605.2 L1232.2 602.1 L1239.2 598.2 L1258.5 586.8 L1268.1 581.8 L1287.8 572.2 L1306.9 563.7 L1316.5 559.9 L1327.3 556.3 L1344.6 551.3 L1356.4 548.5 L1365.2 545.9 L1371.5 543.5 L1377.3 540.5 L1384.3 535.7 L1391.8 529.5 L1398.2 523.3 L1403.7 517 L1407.8 511.4 L1413.4 502.8 L1430.5 473.3 L1437 462.6 L1441.2 456.3 L1445 451.5 L1449.6 446.4 L1460.5 435 L1466.7 429.2 L1475.3 422.3 L1486 415 L1498.4 407.6 L1515.4 398.1 L1531 390.4 L1543.1 385.5 L1549.1 383.7 L1562.7 381 L1564.4 379.6 L1565 378.2 L1565 376.8 L1564 374.8 L1562.7 374 L1561.3 373.8 L1549.3 375.4 L1544 376.4 L1538.1 378.1 L1531.1 380.6 L1523.8 383.5 L1518.5 385.8 L1510.7 389.8 L1487.7 402.9 L1475.9 410.3 L1464.6 418.6 L1458.7 423.6 L1452.6 429.4 L1440.1 442.7 L1434.2 449.9 L1429.9 456 L1423.4 466.6 L1405.5 497.6 L1399.9 506.1 L1395.8 511.7 L1390.5 517.6 L1383.9 523.8 L1376.7 529.5 L1370.8 533.3 L1365.4 535.7 L1358.5 538 L1353.3 539.6 L1341 542.5 L1321.5 548.2 L1312.8 551.1 L1303.2 554.9 L1284.2 563.4 L1264.5 573 L1253.2 578.9 L1228.2 593.5 L1222.3 596.4 L1213 600.3 L1203.9 603.5 L1162.2 616.7 L1150.1 619.8 L1134.4 622.9 L1122 624.6 L1114.4 625.2 L1106.9 625.4 L1100.1 625.2 L1090.2 623.9 L1081.1 622.2 L1071.9 620 L1063.7 617.3 L1054.6 613.8 L1045.4 609.7 L1037.1 605.4 L1025.7 598.7 L1016.6 592.7 L1009.7 587.6 L1001 580.5 L993.7 574 L984.6 565.1 L980.8 560.8 L976.5 555.6 L973.7 551.7 L970.4 546.4 L968.7 542.8 L967.3 539 L966 532.8 L965.6 524.2 L965.9 507.4 L966.5 501.5 L967.2 497 L968 493.7 L968.8 491.6 L975.5 481.6 L978.9 477.1 L982.7 472.5 L985.8 469.1 L988.4 466.6 L991.3 464.6 L994.4 462.8 L999 460.7 L1002 459.7 L1005.4 459.4 L1014 460.5 L1015.5 460.2 L1016.8 459.3 L1017.7 458 L1018 456.5 L1017.7 455 L1016.8 453.7 L1015.5 452.8 L1009.2 451.5 L1005.4 451 L1003.6 451 L1000.4 451.4 L994.9 453 L987.1 456.6 L982.4 459.8 L976.8 465Z" fill="#1a1a24"/>
<path d="M1379 681.8 L1362.1 717.9 L1357.2 729.1 L1353.8 737.8 L1351.2 746.6 L1350 751 L1350 753 L1350.7 754.8 L1351.4 755.5 L1353 756.6 L1353.9 756.9 L1355.9 756.9 L1356.8 756.6 L1358.4 755.5 L1359.5 753.9 L1363.1 740.1 L1366.3 731 L1370.8 719.7 L1386.9 685.1 L1388.9 681.4 L1392.5 676.1 L1394.6 671.8 L1395.9 667.2 L1398.3 653.9 L1399.8 644.1 L1401.1 632.3 L1402.1 616.4 L1402.1 605 L1401.2 597.3 L1399.5 587 L1398.2 581.9 L1396.6 577 L1394.7 572.4 L1387.5 558.1 L1379.8 545.5 L1376.9 539.9 L1375.8 538.8 L1374.4 538.2 L1373.6 538.1 L1372.8 538.2 L1371.4 538.8 L1370.3 539.9 L1369.7 541.3 L1369.7 542.9 L1372.6 549.2 L1379.1 560 L1382.4 566.1 L1386.9 575.6 L1389.7 583 L1391.3 589.9 L1393.4 602.7 L1393.7 608.7 L1393.6 616.4 L1392.8 629.2 L1391.4 642.4 L1389.2 657.2 L1387 667.7 L1385.5 671.3 L1381.3 677.7Z" fill="#1a1a24"/>
<path d="M1387.3 666.7 L1387.1 668.7 L1388.4 674.7 L1389.9 680 L1392 685.8 L1394.5 692.1 L1397.6 698.6 L1401.4 706 L1404.5 711.5 L1408.3 717.3 L1413.7 724.8 L1428.9 744.2 L1436.7 755 L1438.1 755.9 L1439.7 756.2 L1441.3 755.9 L1442.1 755.5 L1443.2 754.4 L1443.9 752.8 L1443.9 751.2 L1443.2 749.6 L1435 739.2 L1426.9 729.7 L1421 722.1 L1413.5 711.6 L1407.6 701.9 L1402.7 691.9 L1398.3 681.8 L1396.2 676.2 L1393.9 667.3 L1393.4 666.1 L1391.8 664.8 L1390.5 664.5 L1388.6 665.1Z" fill="#1a1a24"/>
<path d="M923.1 165.7C923.1 174.2 924 181.1 928 187.6C932 194.1 938.1 200.8 947.4 204.6C956.7 208.4 969.8 210.5 984 210.7C998.2 210.9 1016.5 208.9 1032.7 205.8C1048.9 202.8 1065.2 197.9 1081.4 192.4C1097.6 186.9 1113.8 180.7 1130.1 173C1146.3 165.3 1165.5 155.1 1178.9 146.2C1192.3 137.3 1202.2 128.3 1210.5 119.4C1218.8 110.5 1224.9 100.7 1228.8 92.6C1232.7 84.5 1233.9 76.7 1233.7 70.6C1233.5 64.5 1231.9 59.9 1227.6 56C1223.3 52.1 1218.2 49.1 1208.1 47.5C1197.9 45.9 1181.7 45.7 1166.7 46.3C1151.7 46.9 1134.2 48.8 1118 51.2C1101.8 53.6 1085.5 56.9 1069.2 60.9C1053 65 1036.7 69.4 1020.5 75.5C1004.3 81.6 984.8 90.5 971.8 97.4C958.8 104.3 949.9 110.4 942.6 116.9C935.3 123.4 931.2 128.3 928 136.4C924.8 144.5 923.1 157.2 923.1 165.7Z" stroke="#0a0a0a" stroke-width="5.6" fill="none"/>
<path d="M1010.8 131.5 L1052.2 110.8" stroke="#0a0a0a" stroke-width="5.5" fill="none"/>
<path d="M1035.1 121.8 L1058.3 141.3" stroke="#0a0a0a" stroke-width="5.5" fill="none"/>
<path d="M1069.2 104.7 L1099.7 121.8 L1092.4 92.6" stroke="#0a0a0a" stroke-width="5.5" fill="none"/>
<path d="M1303.9 87.2C1304.3 81.5 1305.9 75 1309.3 70C1312.7 65 1317.5 60.5 1324.3 57.1C1331.1 53.7 1339.6 50.9 1350 49.6C1360.4 48.4 1373.3 48.5 1386.5 49.6C1399.7 50.7 1415 52.5 1429.3 56.1C1443.6 59.7 1457.9 65.2 1472.2 71.1C1486.5 77 1500.8 84.4 1515.1 91.4C1529.4 98.4 1545.5 105 1558 112.9C1570.5 120.8 1581.2 130 1590.1 138.6C1599 147.2 1606.1 156.4 1611.5 164.3C1616.9 172.2 1620.7 179.4 1622.3 185.8C1623.9 192.2 1623 198.3 1621.2 202.9C1619.4 207.5 1616.7 211.1 1611.5 213.6C1606.3 216.1 1600.8 217.2 1590.1 217.9C1579.4 218.6 1561.5 218.8 1547.2 217.9C1532.9 217 1518.7 215.1 1504.4 212.6C1490.1 210.1 1475.8 207 1461.5 202.9C1447.2 198.8 1431.1 193.2 1418.6 187.9C1406.1 182.6 1397.2 177.2 1386.5 170.8C1375.8 164.4 1365 157.5 1354.3 149.3C1343.6 141.1 1330.1 129 1322.2 121.5C1314.3 114 1310.1 110 1307.1 104.3C1304 98.6 1303.5 92.9 1303.9 87.2Z" stroke="#0a0a0a" stroke-width="5.6" fill="none"/>
<path d="M1416.5 137.5 L1433.6 109.7 L1442.2 142.9 L1467.9 119.3 L1459.3 153.6" stroke="#0a0a0a" stroke-width="5.5" fill="none"/>
<path d="M1485.1 138.6 L1499 169.7 L1526.9 150.4" stroke="#0a0a0a" stroke-width="5.5" fill="none"/>
<ellipse cx="1271.3" cy="242.1" rx="117.5" ry="118.3" transform="rotate(0 1271.3 242.1)" stroke="#0a0a0a" stroke-width="5.6" fill="none"/>
<ellipse cx="1270" cy="241.3" rx="103.4" ry="102.1" transform="rotate(0 1270 241.3)" stroke="#0a0a0a" stroke-width="5.6" fill="none"/>
<g clip-path="url(#cl3)">
<path d="M1251.4 100.4 L1250.6 100.5 L1249.9 100.7 L1249.1 100.9 L1248.4 101.1 L1247.6 101.4 L1246.9 101.7 L1246.2 102 L1245.5 102.4 L1244.9 102.8 L1244.2 103.2 L1243.6 103.7 L1243 104.2 L1242.4 104.7 L1241.9 105.3 L1241.4 105.8 L1240.9 106.4 L1240.4 107.1 L1240 107.7 L1239.6 108.4 L1239.2 109.1 L1238.9 109.8 L1238.6 110.5 L1238.3 111.2 L1238.1 111.9 L1237.9 112.7 L1237.8 113.5 L1237.6 114.2 L1237.6 115 L1237.5 115.8 L1237.5 116.5 L1237.5 117.3 L1237.6 118.1 L1237.7 118.9 L1237.9 119.6 L1238.1 120.4 L1238.3 121.1 L1242.4 134.1 L1242.5 134.4 L1242.6 134.7 L1242.7 135 L1242.8 135.3 L1242.9 135.5 L1242.9 135.6 L1242.9 135.8 L1242.9 135.8 L1243 136.1 L1243.1 136.2 L1243.2 136.6 L1243.2 136.6 L1243.3 137.1 L1243.4 137.2 L1243.6 137.8 L1243.6 137.8 L1243.8 138.7 L1243.9 138.7 L1244.2 139.8 L1244.6 141 L1245.1 142.6 L1245.7 144.4 L1246.4 146.5 L1247.2 149 L1248.1 152 L1249.2 155.4 L1250.4 159.1 L1251.6 163.1 L1253 167.3 L1254.3 171.6 L1254.3 171.6 L1255.7 176 L1255.7 176 L1257.1 180.4 L1257.1 180.4 L1258.5 184.7 L1258.5 184.8 L1259.9 188.9 L1259.9 189 L1261.2 193 L1261.2 193 L1262.5 196.8 L1262.5 196.9 L1263.7 200.2 L1263.7 200.4 L1264.7 203.3 L1264.8 203.5 L1265.7 205.9 L1265.7 206.1 L1266.5 208.1 L1266.6 208.4 L1267.3 210 L1267.4 210.3 L1268 211.7 L1268.1 212 L1268.6 213.2 L1268.8 213.6 L1269.2 214.6 L1269.4 214.9 L1269.8 215.7 L1270 216 L1270.4 216.8 L1270.5 217.1 L1270.9 217.8 L1271 218 L1271.4 218.7 L1271.5 218.9 L1272 219.6 L1272 219.7 L1272.5 220.6 L1273.1 221.5 L1273.1 221.6 L1273.7 222.5 L1273.8 222.7 L1274.3 223.6 L1274.3 223.7 L1274.4 223.9 L1274.5 224 L1274.9 224.8 L1275 224.9 L1275.1 225.2 L1275.2 225.3 L1275.6 226.2 L1275.7 226.4 L1276.2 227.5 L1276.7 228.5 L1277.2 229.6 L1277.7 230.6 L1278.1 231.6 L1278.5 232.3 L1278.9 233 L1279.3 233.7 L1279.7 234.3 L1280.2 234.9 L1280.7 235.5 L1281.3 236.1 L1281.9 236.7 L1282.5 237.2 L1283.1 237.7 L1283.7 238.1 L1284.4 238.6 L1285.2 239.1 L1285.3 239.1 L1286.3 239.8 L1286.5 239.8 L1287.6 240.5 L1287.7 240.5 L1289 241.3 L1289.1 241.3 L1290.6 242.2 L1290.6 242.2 L1292.3 243.1 L1292.3 243.2 L1294.2 244.2 L1294.2 244.2 L1296.2 245.3 L1296.2 245.3 L1298.3 246.5 L1298.3 246.5 L1300.5 247.7 L1300.5 247.7 L1302.8 248.9 L1302.8 248.9 L1305.1 250.2 L1305.2 250.2 L1307.5 251.5 L1307.6 251.5 L1310 252.9 L1310 252.9 L1312.4 254.2 L1312.5 254.2 L1314.9 255.5 L1314.9 255.5 L1317.3 256.8 L1317.4 256.8 L1319.7 258.1 L1319.8 258.1 L1322.1 259.4 L1322.1 259.4 L1324.4 260.6 L1324.4 260.6 L1326.7 261.8 L1326.8 261.9 L1329.1 263.1 L1329.2 263.1 L1331.6 264.4 L1331.7 264.5 L1334.2 265.8 L1334.3 265.8 L1336.9 267.2 L1336.9 267.2 L1339.5 268.5 L1342.1 269.9 L1344.8 271.2 L1347.3 272.6 L1349.8 273.9 L1352.1 275.1 L1354.4 276.2 L1356.5 277.3 L1358.4 278.4 L1360.2 279.3 L1361.8 280.2 L1361.9 280.2 L1363.1 280.9 L1363.3 281 L1364.3 281.6 L1364.5 281.7 L1365.4 282.2 L1365.6 282.3 L1366.3 282.8 L1366.4 282.8 L1366.6 282.9 L1366.6 283 L1367.1 283.3 L1367.2 283.4 L1367.5 283.5 L1367.6 283.6 L1367.9 283.8 L1368 283.9 L1368.3 284.2 L1368.5 284.3 L1368.7 284.4 L1368.8 284.5 L1369.2 284.8 L1369.4 285 L1369.5 285.1 L1369.6 285.2 L1369.8 285.4 L1370 285.6 L1370.2 285.7 L1370.3 285.8 L1370.8 286.2 L1371.3 286.7 L1371.8 287.1 L1381.1 294.1 L1381.8 294.6 L1382.5 295 L1383.1 295.4 L1383.8 295.8 L1384.6 296.1 L1385.3 296.4 L1386.1 296.7 L1386.8 296.9 L1387.6 297.1 L1388.4 297.2 L1389.2 297.3 L1390 297.4 L1390.7 297.4 L1391.5 297.4 L1392.3 297.3 L1393.1 297.2 L1393.9 297.1 L1394.7 296.9 L1395.4 296.7 L1396.2 296.4 L1396.9 296.2 L1397.7 295.8 L1398.4 295.5 L1399 295.1 L1399.7 294.7 L1400.4 294.2 L1401 293.7 L1401.6 293.2 L1402.2 292.6 L1402.7 292.1 L1403.2 291.5 L1403.7 290.8 L1404.2 290.2 L1404.6 289.5 L1405 288.8 L1405.3 288.1 L1405.6 287.4 L1405.9 286.6 L1406.1 286.1 L1406.2 285.7 L1407.2 282.7 L1407.3 282.4 L1408.1 279.4 L1408.3 279 L1409.1 276 L1409.1 275.6 L1409.9 272.6 L1410 272.2 L1410.6 269.2 L1410.7 268.8 L1411.3 265.8 L1411.3 265.4 L1411.8 262.3 L1411.9 262 L1412.3 258.9 L1412.3 258.5 L1412.7 255.4 L1412.7 255 L1413 252 L1413 251.6 L1413.2 248.5 L1413.2 248.1 L1413.3 245 L1413.4 244.6 L1413.4 241.5 L1413.4 241.1 L1413.4 238 L1413.3 237.6 L1413.2 234.5 L1413.2 234.1 L1413 231 L1413 230.6 L1412.7 227.6 L1412.7 227.2 L1412.3 224.1 L1412.3 223.7 L1411.9 220.6 L1411.8 220.3 L1411.3 217.2 L1411.3 216.8 L1410.7 213.8 L1410.6 213.4 L1410 210.4 L1409.9 210 L1409.1 207 L1409.1 206.6 L1408.3 203.6 L1408.1 203.2 L1407.3 200.2 L1407.2 199.9 L1406.2 196.9 L1406.1 196.5 L1405.1 193.6 L1404.9 193.2 L1403.9 190.3 L1403.7 190 L1402.6 187.1 L1402.4 186.7 L1401.2 183.9 L1401 183.5 L1399.7 180.7 L1399.5 180.4 L1398.2 177.6 L1398 177.2 L1396.6 174.5 L1396.4 174.1 L1394.9 171.4 L1394.7 171.1 L1393.1 168.4 L1392.9 168.1 L1391.3 165.4 L1391 165.1 L1389.3 162.5 L1389.1 162.2 L1387.4 159.6 L1387.1 159.3 L1385.3 156.8 L1385.1 156.5 L1383.2 154 L1382.9 153.7 L1381 151.3 L1380.7 151 L1378.7 148.6 L1378.5 148.3 L1376.4 146 L1376.1 145.7 L1374 143.5 L1373.7 143.2 L1371.5 141 L1371.3 140.7 L1369 138.5 L1368.7 138.3 L1366.4 136.1 L1366.2 135.9 L1363.8 133.8 L1363.5 133.6 L1361.1 131.6 L1360.8 131.3 L1358.4 129.4 L1358.1 129.2 L1355.6 127.3 L1355.3 127.1 L1352.7 125.2 L1352.4 125 L1349.8 123.3 L1349.5 123 L1346.9 121.4 L1346.6 121.1 L1343.9 119.5 L1343.6 119.3 L1340.9 117.8 L1340.5 117.6 L1337.8 116.1 L1337.4 115.9 L1334.6 114.5 L1334.3 114.3 L1331.5 112.9 L1331.1 112.8 L1328.3 111.5 L1327.9 111.3 L1325.1 110.1 L1324.7 109.9 L1321.8 108.8 L1321.4 108.7 L1318.5 107.6 L1318.1 107.4 L1315.2 106.4 L1314.8 106.3 L1311.8 105.4 L1311.4 105.3 L1308.4 104.4 L1308.1 104.3 L1305 103.5 L1304.7 103.4 L1301.6 102.7 L1301.2 102.6 L1298.2 102 L1297.8 101.9 L1294.7 101.3 L1294.3 101.3 L1291.2 100.8 L1290.8 100.7 L1287.7 100.3 L1287.4 100.2 L1284.2 99.9 L1283.9 99.9 L1280.7 99.6 L1280.4 99.6 L1277.2 99.4 L1276.8 99.4 L1273.7 99.2 L1273.3 99.2 L1270.2 99.2 L1269.8 99.2 L1266.7 99.2 L1266.3 99.2 L1263.2 99.4 L1262.8 99.4 L1259.6 99.6 L1259.3 99.6 L1256.1 99.9 L1255.8 99.9 L1252.6 100.2 L1252.3 100.3ZM1157.7 329.7 L1158.1 330.2 L1158.6 330.6 L1159 331.1 L1159.5 331.5 L1160 331.9 L1160.5 332.2 L1161.1 332.6 L1161.6 332.9 L1162.2 333.2 L1162.8 333.5 L1163.3 333.7 L1163.9 333.9 L1164.6 334.1 L1165.2 334.2 L1165.8 334.3 L1166.4 334.4 L1167.1 334.5 L1167.7 334.5 L1168.3 334.5 L1169 334.4 L1169.6 334.4 L1170.2 334.3 L1170.9 334.1 L1171.5 334 L1172.1 333.8 L1172.7 333.6 L1173.3 333.3 L1173.8 333 L1174.4 332.7 L1174.9 332.4 L1175.5 332 L1176 331.6 L1176.5 331.2 L1176.9 330.8 L1177.4 330.3 L1177.8 329.8 L1178.2 329.3 L1183 323 L1183.4 322.5 L1183.7 322 L1183.8 321.9 L1183.9 321.7 L1183.9 321.6 L1184.1 321.4 L1184.1 321.3 L1184.3 321.1 L1184.3 321 L1184.5 320.8 L1184.5 320.7 L1184.8 320.4 L1184.8 320.4 L1184.9 320.2 L1185 320.1 L1185.3 319.7 L1185.4 319.5 L1185.8 319 L1186 318.8 L1186.5 318.2 L1186.6 318.1 L1187.2 317.3 L1187.3 317.2 L1188.1 316.3 L1188.2 316.2 L1189.1 315.1 L1189.1 315.1 L1190.2 313.9 L1191.5 312.4 L1192.9 310.8 L1194.5 309 L1196.3 307.1 L1198.1 305 L1200 302.9 L1202 300.7 L1204.1 298.4 L1206.3 296 L1208.4 293.6 L1210.6 291.2 L1212.8 288.8 L1214.9 286.4 L1217.1 284.1 L1219.1 281.8 L1221.2 279.6 L1223.2 277.3 L1225.3 275 L1227.5 272.6 L1229.7 270.1 L1232 267.6 L1234.3 265.1 L1236.5 262.6 L1238.8 260.1 L1241 257.7 L1243.1 255.3 L1245.1 253.1 L1247 250.9 L1248.6 249.1 L1249.1 248.7 L1249.5 248.2 L1249.8 247.6 L1250.2 247.1 L1250.5 246.5 L1250.7 246 L1251 245.4 L1251.2 244.8 L1251.4 244.2 L1251.6 243.6 L1251.7 243 L1251.8 242.3 L1251.9 241.7 L1252 241.1 L1252 240.5 L1252 239.8 L1251.9 239.2 L1251.8 238.6 L1251.7 237.9 L1251.6 237.3 L1251.4 236.7 L1251.2 236.1 L1251 235.5 L1250.7 234.9 L1250.5 234.4 L1250.2 233.8 L1249.7 233 L1249 231.9 L1248.9 231.8 L1248.3 230.7 L1248.2 230.5 L1247.6 229.3 L1247.5 229.1 L1246.8 227.8 L1246.8 227.8 L1246.7 227.6 L1246.6 227.5 L1246 226.2 L1245.9 226.1 L1245.9 225.9 L1245.8 225.9 L1245.1 224.3 L1245.1 224.3 L1245 224.1 L1245 224 L1244.2 222.3 L1244.2 222.3 L1244.1 222.1 L1244.1 222 L1243.3 220.2 L1243.2 219.9 L1242.3 217.8 L1242.3 217.5 L1241.4 215.1 L1241.3 214.9 L1240.3 212.1 L1240.2 212 L1239.1 208.8 L1239.1 208.7 L1237.9 205.2 L1236.6 201.2 L1235.2 197.1 L1233.8 192.8 L1232.4 188.4 L1231 183.9 L1229.6 179.5 L1228.2 175.1 L1226.9 171 L1225.6 167 L1224.4 163.3 L1223.4 159.9 L1223.4 159.9 L1222.4 157 L1222.4 157 L1221.6 154.5 L1221.6 154.5 L1220.9 152.4 L1220.4 150.6 L1219.9 149 L1219.4 147.7 L1219.1 146.6 L1218.8 145.8 L1218.6 145 L1218.4 144.4 L1218.2 144 L1218.1 143.6 L1218 143.2 L1217.9 143 L1217.9 142.8 L1217.9 142.7 L1217.8 142.5 L1217.8 142.5 L1217.7 142.3 L1217.7 142.3 L1217.6 141.9 L1213.2 128 L1213 127.4 L1212.7 126.8 L1212.4 126.2 L1212.2 125.6 L1211.8 125.1 L1211.5 124.5 L1211.1 124 L1210.7 123.5 L1210.3 123.1 L1209.9 122.6 L1209.4 122.2 L1208.9 121.8 L1208.4 121.4 L1207.9 121 L1207.3 120.7 L1206.8 120.4 L1206.2 120.1 L1205.6 119.8 L1205 119.6 L1204.4 119.4 L1203.8 119.3 L1203.2 119.1 L1202.5 119 L1201.9 119 L1201.3 118.9 L1200.6 118.9 L1200 118.9 L1199.4 119 L1198.7 119.1 L1198.1 119.2 L1197.5 119.3 L1196.9 119.5 L1196.3 119.7 L1195.7 119.9 L1195.1 120.2 L1194.5 120.5 L1194 120.8 L1193.4 121.2 L1193.1 121.3 L1190.5 123.1 L1190.2 123.2 L1187.6 125 L1187.3 125.2 L1184.7 127.1 L1184.4 127.3 L1181.9 129.2 L1181.7 129.4 L1179.2 131.4 L1178.9 131.6 L1176.5 133.6 L1176.2 133.8 L1173.8 135.9 L1173.6 136.1 L1171.2 138.3 L1171 138.5 L1168.7 140.7 L1168.5 140.9 L1166.3 143.2 L1166 143.4 L1163.9 145.8 L1163.6 146 L1161.5 148.4 L1161.3 148.6 L1159.3 151 L1159 151.3 L1157.1 153.8 L1156.9 154 L1154.9 156.5 L1154.7 156.8 L1152.9 159.3 L1152.7 159.6 L1150.9 162.2 L1150.7 162.5 L1148.9 165.1 L1148.8 165.4 L1147.1 168.1 L1146.9 168.4 L1145.3 171.1 L1145.2 171.4 L1143.6 174.2 L1143.5 174.5 L1142 177.3 L1141.8 177.6 L1140.4 180.4 L1140.3 180.7 L1139 183.6 L1138.8 183.9 L1137.6 186.8 L1137.5 187.1 L1136.3 190 L1136.2 190.3 L1135 193.3 L1134.9 193.6 L1133.9 196.6 L1133.8 196.9 L1132.8 199.9 L1132.7 200.2 L1131.8 203.2 L1131.8 203.6 L1130.9 206.6 L1130.9 206.9 L1130.1 210 L1130.1 210.3 L1129.4 213.4 L1129.3 213.7 L1128.7 216.8 L1128.7 217.2 L1128.2 220.3 L1128.1 220.6 L1127.7 223.7 L1127.7 224.1 L1127.3 227.2 L1127.3 227.5 L1127 230.7 L1127 231 L1126.8 234.2 L1126.8 234.5 L1126.6 237.7 L1126.6 238 L1126.6 241.1 L1126.6 241.5 L1126.6 244.6 L1126.6 244.9 L1126.8 248.1 L1126.8 248.4 L1127 251.6 L1127 251.9 L1127.3 255.1 L1127.3 255.4 L1127.7 258.5 L1127.7 258.9 L1128.1 262 L1128.2 262.3 L1128.7 265.4 L1128.7 265.8 L1129.3 268.9 L1129.4 269.2 L1130.1 272.3 L1130.1 272.6 L1130.9 275.7 L1130.9 276 L1131.8 279 L1131.8 279.4 L1132.7 282.4 L1132.8 282.7 L1133.8 285.7 L1133.9 286 L1134.9 289 L1135 289.3 L1136.2 292.3 L1136.3 292.6 L1137.5 295.5 L1137.6 295.8 L1138.8 298.7 L1139 299 L1140.3 301.9 L1140.4 302.2 L1141.8 305 L1142 305.3 L1143.5 308.1 L1143.6 308.4 L1145.2 311.2 L1145.3 311.5 L1146.9 314.2 L1147.1 314.5 L1148.8 317.2 L1148.9 317.5 L1150.7 320.1 L1150.9 320.4 L1152.7 323 L1152.9 323.3 L1154.7 325.8 L1154.9 326.1 L1156.9 328.6 L1157.1 328.8ZM1195.4 349.7 L1195.1 350.1 L1194.9 350.5 L1194.6 350.9 L1194.4 351.3 L1194.2 351.8 L1194 352.2 L1193.8 352.7 L1193.7 353.2 L1193.6 353.6 L1193.5 354.1 L1193.4 354.6 L1193.4 355.1 L1193.4 355.5 L1193.4 356 L1193.4 356.5 L1193.5 357 L1193.5 357.5 L1193.6 358 L1193.7 358.4 L1193.9 358.9 L1194 359.3 L1194.2 359.8 L1194.4 360.2 L1194.7 360.7 L1194.9 361.1 L1195.2 361.5 L1195.5 361.9 L1195.8 362.2 L1196.1 362.6 L1196.4 362.9 L1196.8 363.3 L1197.2 363.6 L1197.6 363.9 L1198 364.1 L1198.4 364.4 L1199.2 364.9 L1199.4 365 L1202.3 366.6 L1202.5 366.7 L1205.4 368.2 L1205.6 368.3 L1208.6 369.7 L1208.8 369.8 L1211.8 371.2 L1212 371.3 L1215 372.5 L1215.2 372.6 L1218.3 373.8 L1218.5 373.9 L1221.6 375.1 L1221.8 375.1 L1224.9 376.2 L1225.1 376.3 L1228.3 377.2 L1228.5 377.3 L1231.6 378.2 L1231.9 378.3 L1235 379.1 L1235.3 379.2 L1238.5 379.9 L1238.7 380 L1241.9 380.6 L1242.1 380.7 L1245.4 381.3 L1245.6 381.3 L1248.8 381.8 L1249.1 381.9 L1252.3 382.3 L1252.6 382.3 L1255.8 382.7 L1256.1 382.7 L1259.3 383 L1259.6 383 L1262.8 383.2 L1263.1 383.2 L1266.4 383.4 L1266.6 383.4 L1269.9 383.4 L1270.1 383.4 L1273.4 383.4 L1273.6 383.4 L1276.9 383.2 L1277.2 383.2 L1280.4 383 L1280.7 383 L1283.9 382.7 L1284.2 382.7 L1287.4 382.3 L1287.7 382.3 L1290.9 381.9 L1291.2 381.8 L1294.4 381.3 L1294.6 381.3 L1297.9 380.7 L1298.1 380.6 L1301.3 380 L1301.5 379.9 L1304.7 379.2 L1305 379.1 L1308.1 378.3 L1308.4 378.2 L1311.5 377.3 L1311.7 377.2 L1314.9 376.3 L1315.1 376.2 L1318.2 375.1 L1318.4 375.1 L1321.5 373.9 L1321.7 373.8 L1324.8 372.6 L1325 372.5 L1328 371.3 L1328.2 371.2 L1331.2 369.8 L1331.4 369.7 L1334.4 368.3 L1334.6 368.2 L1337.5 366.7 L1337.7 366.6 L1340.6 365 L1340.8 364.9 L1343.6 363.2 L1343.8 363.1 L1346.6 361.4 L1346.8 361.3 L1349.6 359.5 L1349.8 359.4 L1352.5 357.5 L1352.7 357.4 L1355.3 355.5 L1355.5 355.4 L1358.1 353.4 L1358.3 353.2 L1360.9 351.2 L1361.1 351.1 L1363.6 349 L1363.8 348.8 L1366.2 346.7 L1366.4 346.5 L1368.8 344.3 L1369 344.1 L1371.3 341.9 L1371.5 341.7 L1373.8 339.4 L1373.9 339.2 L1376.2 336.8 L1376.5 336.5 L1376.8 336.1 L1377.1 335.7 L1377.4 335.3 L1377.6 334.8 L1377.8 334.4 L1378 334 L1378.2 333.5 L1378.4 333 L1378.5 332.6 L1378.6 332.1 L1378.7 331.6 L1378.8 331.1 L1378.8 330.6 L1378.9 330.1 L1378.9 329.6 L1378.8 329.1 L1378.8 328.6 L1378.7 328.2 L1378.6 327.7 L1378.5 327.2 L1378.3 326.7 L1378.1 326.3 L1377.9 325.8 L1377.7 325.4 L1377.5 324.9 L1377.2 324.5 L1377 324.1 L1376.7 323.7 L1376.3 323.3 L1376 323 L1375.6 322.6 L1375.3 322.3 L1374.9 322 L1354.2 306.4 L1354.1 306.3 L1353.9 306.2 L1353.5 305.9 L1353.3 305.7 L1352.9 305.3 L1352.9 305.3 L1352.5 305 L1352.2 304.7 L1351.8 304.4 L1351.4 304.2 L1351 303.9 L1350.5 303.7 L1350.4 303.6 L1349.4 303 L1349.3 303 L1348 302.3 L1347.9 302.2 L1346.3 301.4 L1346.3 301.4 L1344.5 300.4 L1344.4 300.4 L1342.4 299.3 L1342.4 299.3 L1340.2 298.2 L1340.2 298.2 L1337.8 296.9 L1335.4 295.7 L1332.8 294.3 L1330.2 293 L1327.5 291.6 L1324.9 290.2 L1322.2 288.9 L1319.6 287.5 L1317.1 286.2 L1314.6 284.9 L1312.2 283.6 L1309.9 282.3 L1307.5 281 L1305 279.7 L1302.6 278.4 L1300.1 277.1 L1297.6 275.7 L1295.1 274.4 L1292.7 273.1 L1290.3 271.8 L1288 270.5 L1285.8 269.2 L1283.6 268.1 L1281.6 266.9 L1279.6 265.9 L1279.3 265.6 L1278.8 265.4 L1278.4 265.2 L1277.9 265 L1277.4 264.8 L1277 264.7 L1276.5 264.6 L1276 264.5 L1275.5 264.4 L1275 264.4 L1274.5 264.4 L1274 264.4 L1273.5 264.4 L1273 264.5 L1272.5 264.5 L1272 264.7 L1271.5 264.8 L1271.1 264.9 L1270.6 265.1 L1270.1 265.3 L1269.7 265.5 L1269.3 265.8 L1268.8 266.1 L1268.4 266.3 L1268 266.6 L1267.6 267 L1267.3 267.3 L1266.9 267.7 L1266.4 268.3 L1264.4 270.5 L1262.4 272.7 L1260.2 275.1 L1258.1 277.5 L1255.8 280 L1253.5 282.5 L1251.3 285.1 L1249 287.6 L1246.8 290 L1244.6 292.4 L1242.5 294.8 L1240.4 297 L1238.4 299.2 L1236.4 301.5 L1234.2 303.9 L1232.1 306.3 L1229.9 308.7 L1227.7 311.1 L1225.5 313.5 L1223.4 315.8 L1221.3 318.1 L1219.3 320.3 L1217.4 322.5 L1215.6 324.5 L1215.6 324.5 L1213.9 326.3 L1213.9 326.4 L1212.4 328.1 L1212.3 328.1 L1211 329.6 L1210.9 329.7 L1209.8 331 L1209.7 331 L1208.8 332.1 L1208.7 332.2 L1207.9 333.1 L1207.9 333.2 L1207.2 333.9 L1207.2 334 L1206.7 334.5 L1206.6 334.6 L1206.3 335 L1206 335.4 L1205.8 335.8 L1205.5 336.2 L1205.5 336.2 L1205.4 336.3 L1205.4 336.4 L1205.3 336.5 L1205 336.9 L1205 337 L1204.9 337.1 L1204.9 337.2 L1204.6 337.6 L1204.5 337.7 L1204.4 337.8Z" stroke="#0a0a0a" stroke-width="5.6" fill="none" stroke-linejoin="round"/>
<path d="M1269.7 244.5C1268.8 242.4 1266.7 237.7 1264 232C1261.3 226.3 1258.5 224.1 1253.5 210.5C1248.5 196.9 1237.9 162.6 1234 150.5C1230.1 138.4 1232.2 144.8 1230 138C1227.8 131.2 1222.4 114.2 1220.9 109.4" stroke="#0a0a0a" stroke-width="5" fill="none"/>
<path d="M1269.7 244.5C1271.8 245.8 1274.5 248 1282.6 252.6C1290.7 257.2 1306.1 265.6 1318.3 272.1C1330.5 278.6 1348.3 287.6 1355.6 291.6C1362.9 295.6 1356.8 292.4 1362 296C1367.2 299.6 1382.6 310.2 1386.7 313" stroke="#0a0a0a" stroke-width="5" fill="none"/>
<path d="M1269.7 244.5C1268.6 245.8 1269.5 245.3 1263 252.6C1256.5 259.9 1241.3 276.7 1230.8 288.3C1220.3 299.9 1206.1 315.4 1200 322.4C1193.9 329.3 1198.1 324.8 1194 330C1189.9 335.2 1178.5 349.6 1175.4 353.5" stroke="#0a0a0a" stroke-width="5" fill="none"/>
<circle cx="1269.7" cy="244.5" r="5.5" fill="#0a0a0a"/>
</g>
<ellipse cx="1135.8" cy="442.1" rx="118.8" ry="114.5" transform="rotate(0 1135.8 442.1)" stroke="#0a0a0a" stroke-width="5.6" fill="none"/>
<ellipse cx="1137" cy="441.9" rx="104.8" ry="100.8" transform="rotate(0 1137 441.9)" stroke="#0a0a0a" stroke-width="5.6" fill="none"/>
<g clip-path="url(#cl4)">
<path d="M1123 301.7 L1122.3 301.7 L1121.7 301.8 L1121.1 302 L1120.5 302.1 L1119.9 302.3 L1119.3 302.5 L1118.7 302.8 L1118.1 303 L1117.6 303.3 L1117 303.7 L1116.5 304 L1116 304.4 L1115.5 304.8 L1115 305.2 L1114.6 305.7 L1114.2 306.2 L1113.8 306.7 L1113.4 307.2 L1113 307.7 L1112.7 308.2 L1112.4 308.8 L1112.1 309.4 L1111.9 309.9 L1111.7 310.5 L1111.5 311.2 L1111.4 311.8 L1111.2 312.4 L1111.1 313 L1111.1 313.6 L1111 314.3 L1111 314.9 L1111.1 315.5 L1111.1 316.2 L1111.2 316.8 L1111.3 317.4 L1111.5 318 L1116.5 336.6 L1116.6 336.9 L1116.7 337.1 L1116.8 337.4 L1116.8 337.5 L1116.9 337.9 L1117 338.4 L1117.1 338.8 L1117.1 338.8 L1117.2 339.2 L1117.2 339.3 L1117.3 339.7 L1117.4 339.8 L1117.5 340.2 L1117.5 340.3 L1117.6 340.8 L1117.6 340.8 L1117.8 341.4 L1117.8 341.5 L1118 342.1 L1118 342.1 L1118.2 342.8 L1118.2 342.9 L1118.4 343.6 L1118.5 343.7 L1118.7 344.6 L1118.7 344.7 L1119 345.6 L1119 345.7 L1119.4 346.7 L1119.4 346.8 L1119.8 348 L1119.8 348 L1120.2 349.4 L1120.2 349.4 L1120.7 350.9 L1120.7 350.9 L1121.3 352.5 L1121.3 352.6 L1121.8 354.2 L1121.8 354.3 L1122.4 356 L1122.4 356 L1123 357.9 L1123 357.9 L1123.7 359.8 L1124.3 361.7 L1125 363.7 L1125.6 365.7 L1126.3 367.7 L1127 369.7 L1127.7 371.7 L1128.3 373.7 L1129 375.6 L1129.7 377.6 L1130.4 379.6 L1131.1 381.6 L1131.8 383.7 L1132.5 385.8 L1133.2 387.9 L1133.2 387.9 L1133.9 390 L1133.9 390.1 L1134.6 392.2 L1134.6 392.2 L1135.4 394.2 L1135.4 394.3 L1136.1 396.3 L1136.1 396.3 L1136.8 398.3 L1136.8 398.4 L1137.5 400.3 L1137.5 400.4 L1138.2 402.2 L1138.2 402.3 L1138.8 404.1 L1138.9 404.1 L1139.5 405.8 L1139.5 405.9 L1140.1 407.5 L1140.2 407.6 L1140.7 409.1 L1140.8 409.2 L1141.4 410.7 L1141.4 410.8 L1142.1 412.4 L1142.1 412.4 L1142.7 414 L1142.8 414 L1143.4 415.6 L1143.4 415.6 L1144.1 417.1 L1144.1 417.2 L1144.7 418.7 L1144.8 418.7 L1145.4 420.1 L1145.4 420.2 L1146 421.6 L1146 421.6 L1146.6 423 L1146.7 423 L1147.2 424.3 L1147.2 424.3 L1147.8 425.5 L1148.3 426.7 L1148.8 427.8 L1149 428.1 L1149.2 428.6 L1149.5 429.2 L1149.8 429.7 L1150.2 430.2 L1150.5 430.7 L1150.9 431.2 L1151.3 431.7 L1151.8 432.1 L1152.2 432.5 L1152.7 432.9 L1153.2 433.3 L1153.7 433.6 L1154.2 434 L1154.8 434.3 L1155.3 434.5 L1156.2 435 L1156.3 435 L1157.9 435.7 L1157.9 435.8 L1159.6 436.5 L1159.7 436.6 L1161.5 437.3 L1161.6 437.4 L1163.4 438.2 L1163.5 438.2 L1165.5 439 L1165.6 439.1 L1167.6 439.9 L1167.7 439.9 L1169.8 440.8 L1169.9 440.8 L1172.1 441.7 L1172.2 441.7 L1174.5 442.6 L1174.6 442.6 L1177 443.5 L1177.1 443.5 L1179.5 444.4 L1179.6 444.4 L1182.1 445.3 L1182.2 445.3 L1184.9 446.2 L1185 446.2 L1188 447.2 L1188.1 447.2 L1191.4 448.2 L1191.5 448.3 L1195.1 449.3 L1195.2 449.3 L1198.9 450.5 L1199 450.5 L1202.9 451.6 L1202.9 451.6 L1206.9 452.8 L1206.9 452.8 L1210.9 453.9 L1210.9 453.9 L1214.9 455 L1214.9 455 L1218.7 456.1 L1222.5 457.2 L1226 458.2 L1229.2 459.1 L1232.2 459.9 L1234.8 460.7 L1237 461.3 L1238.9 461.9 L1240.3 462.3 L1241.5 462.7 L1242.5 463 L1242.6 463 L1243.2 463.2 L1243.4 463.3 L1243.8 463.4 L1243.9 463.4 L1244.2 463.5 L1244.2 463.6 L1244.4 463.6 L1244.6 463.7 L1245.2 463.9 L1245.3 464 L1245.5 464 L1245.9 464.3 L1246 464.3 L1246.4 464.5 L1247 464.7 L1263.2 470.6 L1263.8 470.8 L1264.4 470.9 L1265 471.1 L1265.6 471.2 L1266.3 471.3 L1266.9 471.3 L1267.6 471.3 L1268.2 471.3 L1268.9 471.3 L1269.5 471.2 L1270.1 471.1 L1270.7 471 L1271.4 470.8 L1272 470.6 L1272.6 470.4 L1273.2 470.1 L1273.7 469.8 L1274.3 469.5 L1274.8 469.1 L1275.4 468.8 L1275.9 468.4 L1276.4 467.9 L1276.8 467.5 L1277.3 467 L1277.7 466.5 L1278.1 466 L1278.4 465.5 L1278.8 465 L1279.1 464.4 L1279.4 463.8 L1279.6 463.2 L1279.9 462.6 L1280.1 462 L1280.2 461.4 L1280.4 460.8 L1280.5 460.1 L1280.6 459.3 L1280.6 458.9 L1281 455.8 L1281 455.5 L1281.3 452.4 L1281.3 452 L1281.5 448.9 L1281.5 448.6 L1281.7 445.5 L1281.7 445.1 L1281.7 442 L1281.7 441.7 L1281.7 438.6 L1281.7 438.2 L1281.5 435.1 L1281.5 434.8 L1281.3 431.7 L1281.3 431.3 L1281 428.2 L1281 427.9 L1280.6 424.8 L1280.6 424.4 L1280.2 421.3 L1280.1 421 L1279.6 417.9 L1279.5 417.6 L1278.9 414.5 L1278.9 414.2 L1278.2 411.1 L1278.1 410.8 L1277.4 407.8 L1277.3 407.5 L1276.5 404.4 L1276.4 404.1 L1275.5 401.1 L1275.4 400.8 L1274.4 397.8 L1274.3 397.5 L1273.3 394.6 L1273.2 394.2 L1272.1 391.3 L1271.9 391 L1270.7 388.1 L1270.6 387.8 L1269.3 384.9 L1269.2 384.6 L1267.9 381.8 L1267.7 381.5 L1266.3 378.7 L1266.2 378.4 L1264.7 375.6 L1264.5 375.3 L1263 372.6 L1262.8 372.3 L1261.2 369.6 L1261 369.3 L1259.3 366.6 L1259.2 366.4 L1257.4 363.7 L1257.2 363.5 L1255.4 360.9 L1255.2 360.6 L1253.3 358.1 L1253.1 357.8 L1251.2 355.3 L1251 355.1 L1248.9 352.6 L1248.7 352.4 L1246.7 350 L1246.4 349.7 L1244.3 347.4 L1244.1 347.1 L1241.9 344.8 L1241.7 344.6 L1239.4 342.4 L1239.2 342.1 L1236.9 339.9 L1236.6 339.7 L1234.3 337.6 L1234 337.4 L1231.6 335.3 L1231.4 335.1 L1228.9 333.1 L1228.7 332.9 L1226.1 330.9 L1225.9 330.7 L1223.3 328.8 L1223 328.6 L1220.4 326.8 L1220.2 326.6 L1217.5 324.8 L1217.2 324.7 L1214.5 322.9 L1214.3 322.8 L1211.5 321.1 L1211.2 321 L1208.4 319.4 L1208.2 319.2 L1205.3 317.7 L1205 317.6 L1202.2 316.1 L1201.9 316 L1199 314.6 L1198.7 314.5 L1195.8 313.1 L1195.5 313 L1192.5 311.8 L1192.2 311.7 L1189.2 310.5 L1188.9 310.4 L1185.9 309.3 L1185.6 309.2 L1182.5 308.2 L1182.2 308.1 L1179.1 307.1 L1178.8 307 L1175.7 306.1 L1175.4 306.1 L1172.3 305.3 L1172 305.2 L1168.8 304.5 L1168.5 304.4 L1165.3 303.7 L1165 303.7 L1161.8 303.1 L1161.5 303 L1158.3 302.5 L1158 302.5 L1154.8 302.1 L1154.5 302 L1151.3 301.7 L1151 301.7 L1147.8 301.4 L1147.4 301.4 L1144.2 301.2 L1143.9 301.2 L1140.7 301 L1140.3 301 L1137.1 301 L1136.8 301 L1133.6 301 L1133.2 301 L1130 301.2 L1129.7 301.2 L1126.5 301.4 L1126.1 301.4ZM1023.5 529.3 L1024 529.8 L1024.5 530.4 L1025.1 530.9 L1025.7 531.5 L1026.3 531.9 L1026.9 532.4 L1027.6 532.8 L1028.2 533.2 L1028.9 533.5 L1029.6 533.9 L1030.4 534.1 L1031.1 534.4 L1031.8 534.6 L1032.6 534.8 L1033.4 534.9 L1034.1 535 L1034.9 535.1 L1035.7 535.1 L1036.5 535.1 L1037.2 535 L1038 534.9 L1038.8 534.8 L1039.5 534.7 L1040.3 534.5 L1041 534.2 L1041.8 533.9 L1042.5 533.6 L1043.2 533.3 L1043.9 532.9 L1044.5 532.5 L1045.2 532.1 L1045.8 531.6 L1046.4 531.1 L1047 530.6 L1047.5 530 L1048 529.4 L1048.5 528.8 L1053.7 522.1 L1053.8 521.9 L1053.9 521.8 L1054 521.6 L1054.1 521.5 L1054.3 521.3 L1054.3 521.3 L1054.5 521.1 L1054.6 520.9 L1054.7 520.8 L1054.7 520.8 L1054.8 520.7 L1054.9 520.6 L1054.9 520.5 L1055.1 520.3 L1055.1 520.3 L1055.4 520 L1055.4 519.9 L1055.7 519.5 L1055.8 519.4 L1056.2 518.8 L1056.2 518.8 L1056.8 518.1 L1056.8 518 L1057.5 517.2 L1057.5 517.1 L1058.3 516.1 L1058.3 516 L1059.2 514.8 L1059.3 514.7 L1060.2 513.4 L1060.3 513.3 L1061.4 511.8 L1061.5 511.7 L1062.7 509.9 L1062.8 509.9 L1064.2 507.9 L1064.2 507.8 L1065.7 505.6 L1067.4 503.3 L1069.1 500.9 L1070.9 498.3 L1072.8 495.7 L1074.7 493.1 L1076.7 490.3 L1076.8 490.2 L1078.7 487.6 L1078.8 487.5 L1080.8 484.9 L1080.9 484.8 L1082.9 482.2 L1083 482.1 L1085 479.5 L1085.1 479.4 L1087.1 477 L1087.3 476.8 L1089.4 474.3 L1089.5 474.2 L1091.8 471.6 L1091.9 471.5 L1094.3 468.8 L1094.4 468.7 L1096.9 466 L1097 465.9 L1099.5 463.2 L1102.2 460.3 L1104.9 457.5 L1107.6 454.8 L1110.2 452 L1112.8 449.4 L1115.2 447 L1115.2 446.9 L1117 445 L1117.6 444.4 L1118.1 443.8 L1118.6 443.2 L1119 442.6 L1119.4 441.9 L1119.8 441.2 L1120.1 440.5 L1120.4 439.8 L1120.7 439 L1120.9 438.3 L1121.1 437.5 L1121.3 436.8 L1121.4 436 L1121.5 435.2 L1121.5 434.4 L1121.6 433.7 L1121.5 432.9 L1121.5 432.1 L1121.3 431.3 L1121.2 430.5 L1121 429.8 L1120.8 429 L1120.5 428.3 L1120.3 427.6 L1119.5 425.9 L1118.8 424.1 L1118.1 422.4 L1117.3 420.6 L1117.3 420.5 L1116.6 418.8 L1116.6 418.7 L1115.9 416.9 L1115.8 416.8 L1115.2 415.1 L1114.5 413.1 L1113.7 411.2 L1113 409.1 L1112.3 407 L1111.5 404.9 L1110.8 402.8 L1110.1 400.6 L1109.3 398.5 L1108.6 396.3 L1107.9 394.2 L1107.1 392.1 L1106.4 390 L1105.7 387.9 L1105.1 385.9 L1105.1 385.9 L1104.4 384 L1103.7 382 L1103.1 380.1 L1102.4 378 L1101.7 376 L1101 374 L1100.3 372 L1099.7 370 L1099 368 L1098.4 366.1 L1097.7 364.2 L1097.1 362.4 L1096.6 360.7 L1096 359 L1095.5 357.5 L1095.1 356 L1094.6 354.7 L1094.2 353.5 L1093.9 352.3 L1093.5 351.2 L1093.3 350.2 L1093 349.3 L1092.7 348.4 L1092.5 347.6 L1092.3 346.9 L1092.2 346.2 L1092 345.6 L1091.9 345.1 L1091.8 344.6 L1091.7 344.2 L1091.7 344.2 L1091.6 344 L1091.6 343.8 L1091.6 343.8 L1091.5 343.6 L1091.5 343.4 L1087.7 329.7 L1087.5 328.9 L1087.2 328.2 L1086.9 327.5 L1086.6 326.8 L1086.2 326.1 L1085.8 325.4 L1085.4 324.7 L1084.9 324.1 L1084.4 323.5 L1083.9 322.9 L1083.4 322.3 L1082.8 321.8 L1082.2 321.3 L1081.5 320.8 L1080.9 320.4 L1080.2 320 L1079.5 319.6 L1078.8 319.3 L1078.1 319 L1077.3 318.7 L1076.6 318.5 L1075.8 318.3 L1075 318.1 L1074.3 318 L1073.5 317.9 L1072.7 317.9 L1071.9 317.9 L1071.1 317.9 L1070.3 318 L1069.6 318.1 L1068.8 318.3 L1068 318.5 L1067.3 318.7 L1066.5 319 L1065.8 319.3 L1065.1 319.6 L1064.4 320 L1062.7 320.9 L1062.4 321.1 L1059.7 322.8 L1059.3 323 L1056.7 324.6 L1056.4 324.8 L1053.8 326.6 L1053.4 326.8 L1050.9 328.6 L1050.6 328.8 L1048.1 330.7 L1047.7 330.9 L1045.3 332.9 L1045 333.1 L1042.6 335.1 L1042.3 335.3 L1039.9 337.4 L1039.6 337.6 L1037.3 339.7 L1037 340 L1034.7 342.1 L1034.5 342.4 L1032.3 344.6 L1032 344.9 L1029.8 347.1 L1029.6 347.4 L1027.5 349.7 L1027.2 350 L1025.2 352.3 L1024.9 352.6 L1023 355 L1022.7 355.4 L1020.8 357.8 L1020.6 358.1 L1018.7 360.6 L1018.5 360.9 L1016.7 363.4 L1016.5 363.8 L1014.8 366.3 L1014.6 366.7 L1012.9 369.3 L1012.7 369.6 L1011.1 372.3 L1010.9 372.6 L1009.4 375.3 L1009.2 375.6 L1007.7 378.3 L1007.6 378.7 L1006.2 381.5 L1006 381.8 L1004.7 384.6 L1004.5 385 L1003.3 387.8 L1003.1 388.1 L1002 391 L1001.8 391.3 L1000.7 394.2 L1000.6 394.6 L999.6 397.5 L999.4 397.9 L998.5 400.8 L998.4 401.2 L997.5 404.1 L997.4 404.5 L996.6 407.4 L996.5 407.8 L995.8 410.8 L995.7 411.2 L995 414.2 L994.9 414.6 L994.4 417.6 L994.3 418 L993.8 421 L993.7 421.4 L993.3 424.4 L993.3 424.8 L992.9 427.8 L992.9 428.2 L992.6 431.3 L992.6 431.7 L992.4 434.7 L992.4 435.1 L992.3 438.2 L992.2 438.6 L992.2 441.6 L992.2 442.1 L992.2 445.1 L992.3 445.5 L992.4 448.6 L992.4 449 L992.6 452 L992.6 452.4 L992.9 455.5 L992.9 455.9 L993.3 458.9 L993.3 459.3 L993.7 462.3 L993.8 462.7 L994.3 465.7 L994.4 466.1 L994.9 469.1 L995 469.5 L995.7 472.5 L995.8 472.9 L996.5 475.9 L996.6 476.3 L997.4 479.2 L997.5 479.6 L998.4 482.5 L998.5 482.9 L999.4 485.8 L999.6 486.2 L1000.6 489.1 L1000.7 489.5 L1001.8 492.4 L1002 492.7 L1003.1 495.6 L1003.3 495.9 L1004.5 498.7 L1004.7 499.1 L1006 501.9 L1006.2 502.2 L1007.6 505 L1007.7 505.4 L1009.2 508.1 L1009.4 508.4 L1010.9 511.1 L1011.1 511.4 L1012.7 514.1 L1012.9 514.4 L1014.6 517 L1014.8 517.4 L1016.5 519.9 L1016.7 520.3 L1018.5 522.8 L1018.7 523.1 L1020.6 525.6 L1020.8 525.9 L1022.7 528.3 L1023 528.7ZM1064.5 550.6 L1064.2 551 L1064 551.5 L1063.7 551.9 L1063.5 552.3 L1063.3 552.8 L1063.1 553.2 L1062.9 553.7 L1062.8 554.2 L1062.7 554.7 L1062.6 555.2 L1062.5 555.6 L1062.5 556.1 L1062.5 556.6 L1062.5 557.1 L1062.5 557.6 L1062.6 558.1 L1062.6 558.6 L1062.8 559.1 L1062.9 559.6 L1063 560 L1063.2 560.5 L1063.4 561 L1063.6 561.4 L1063.9 561.8 L1064.1 562.2 L1064.4 562.7 L1064.7 563 L1065 563.4 L1065.4 563.8 L1065.7 564.1 L1066.1 564.5 L1066.5 564.8 L1066.9 565 L1067.3 565.3 L1067.8 565.6 L1068.6 566 L1068.8 566.1 L1071.8 567.6 L1072 567.7 L1075 569.1 L1075.2 569.2 L1078.2 570.6 L1078.4 570.7 L1081.4 571.9 L1081.7 572 L1084.7 573.2 L1085 573.3 L1088.1 574.4 L1088.3 574.5 L1091.4 575.6 L1091.7 575.6 L1094.8 576.6 L1095 576.7 L1098.2 577.6 L1098.5 577.6 L1101.7 578.4 L1101.9 578.5 L1105.1 579.3 L1105.4 579.3 L1108.6 580 L1108.8 580 L1112.1 580.6 L1112.3 580.6 L1115.6 581.2 L1115.8 581.2 L1119.1 581.6 L1119.3 581.7 L1122.6 582 L1122.9 582 L1126.2 582.3 L1126.4 582.3 L1129.7 582.5 L1130 582.5 L1133.3 582.7 L1133.5 582.7 L1136.8 582.7 L1137.1 582.7 L1140.4 582.7 L1140.6 582.7 L1143.9 582.5 L1144.2 582.5 L1147.5 582.3 L1147.7 582.3 L1151 582 L1151.3 582 L1154.6 581.7 L1154.8 581.6 L1158.1 581.2 L1158.3 581.2 L1161.6 580.6 L1161.8 580.6 L1165.1 580 L1165.3 580 L1168.5 579.3 L1168.8 579.3 L1172 578.5 L1172.2 578.4 L1175.4 577.6 L1175.7 577.6 L1178.9 576.7 L1179.1 576.6 L1182.2 575.6 L1182.5 575.6 L1185.6 574.5 L1185.8 574.4 L1188.9 573.3 L1189.2 573.2 L1192.2 572 L1192.5 571.9 L1195.5 570.7 L1195.7 570.6 L1198.7 569.2 L1198.9 569.1 L1201.9 567.7 L1202.1 567.6 L1205.1 566.1 L1205.3 566 L1208.2 564.5 L1208.4 564.3 L1211.3 562.7 L1211.5 562.6 L1214.3 560.9 L1214.5 560.8 L1217.3 559 L1217.5 558.9 L1220.2 557.1 L1220.4 556.9 L1223.1 555.1 L1223.3 554.9 L1225.9 553 L1226.1 552.8 L1228.7 550.8 L1228.9 550.7 L1231.4 548.6 L1231.6 548.4 L1234.1 546.3 L1234.2 546.1 L1236.7 543.9 L1236.8 543.8 L1239.2 541.5 L1239.4 541.4 L1241.7 539.1 L1241.9 538.9 L1244.1 536.5 L1244.3 536.3 L1246.5 533.9 L1246.6 533.8 L1248.8 531.3 L1248.9 531.1 L1251 528.6 L1251.1 528.4 L1253.1 525.9 L1253.3 525.7 L1255.2 523.1 L1255.4 522.9 L1257.2 520.2 L1257.4 520 L1259.2 517.3 L1259.3 517.1 L1261 514.4 L1261.2 514.2 L1262.8 511.4 L1263 511.2 L1263.2 510.7 L1263.5 510.2 L1263.7 509.8 L1263.9 509.3 L1264 508.8 L1264.2 508.4 L1264.3 507.9 L1264.4 507.4 L1264.5 506.9 L1264.5 506.4 L1264.5 505.9 L1264.5 505.4 L1264.5 504.9 L1264.5 504.4 L1264.4 503.9 L1264.3 503.5 L1264.2 503 L1264 502.5 L1263.8 502 L1263.6 501.6 L1263.4 501.1 L1263.2 500.7 L1262.9 500.3 L1262.6 499.9 L1262.3 499.5 L1262 499.1 L1261.7 498.7 L1261.3 498.4 L1260.9 498.1 L1260.6 497.8 L1260.2 497.5 L1259.7 497.2 L1259.3 496.9 L1258.9 496.7 L1258.4 496.5 L1257.9 496.3 L1235.6 488.2 L1235.5 488.2 L1235.4 488.1 L1235 488 L1234.7 487.9 L1234.5 487.8 L1234.1 487.6 L1233.7 487.5 L1233.3 487.4 L1232.8 487.2 L1232.8 487.2 L1231.4 486.8 L1231.4 486.8 L1229.7 486.3 L1229.7 486.3 L1227.6 485.7 L1227.6 485.6 L1225.1 484.9 L1225.1 484.9 L1222.2 484.1 L1222.2 484.1 L1218.9 483.2 L1215.4 482.2 L1211.7 481.1 L1207.8 480.1 L1203.8 478.9 L1199.8 477.8 L1195.7 476.6 L1191.7 475.4 L1187.8 474.3 L1184 473.1 L1183.9 473.1 L1180.4 472 L1180.3 472 L1177 471 L1176.9 470.9 L1174 470 L1173.8 469.9 L1171.1 469 L1170.9 468.9 L1168.3 468 L1168.2 467.9 L1165.6 467 L1165.5 466.9 L1163 466 L1162.9 466 L1160.4 465 L1160.3 465 L1158 464.1 L1157.9 464 L1155.6 463.1 L1155.5 463 L1153.4 462.1 L1153.3 462.1 L1151.2 461.2 L1151.1 461.2 L1149.2 460.3 L1149.1 460.3 L1148.1 459.8 L1147.6 459.6 L1147.1 459.5 L1146.7 459.3 L1146.2 459.2 L1145.7 459.1 L1145.2 459 L1144.8 459 L1144.3 459 L1143.8 459 L1143.3 459 L1142.8 459 L1142.3 459.1 L1141.8 459.2 L1141.4 459.3 L1140.9 459.4 L1140.4 459.6 L1140 459.8 L1139.5 460 L1139.1 460.2 L1138.7 460.5 L1138.3 460.7 L1137.9 461 L1137.5 461.3 L1137.1 461.7 L1136.8 462 L1136.2 462.6 L1133.9 465 L1131.4 467.5 L1128.9 470.1 L1128.9 470.1 L1126.3 472.8 L1126.3 472.8 L1123.7 475.5 L1123.7 475.5 L1121.1 478.2 L1121.1 478.2 L1118.6 480.9 L1118.5 481 L1116 483.6 L1116 483.7 L1113.6 486.3 L1113.5 486.3 L1111.3 488.8 L1111.2 488.9 L1109.2 491.2 L1109.1 491.3 L1107.2 493.5 L1107.1 493.6 L1105.3 495.8 L1105.2 495.9 L1103.4 498.2 L1103.3 498.3 L1101.5 500.6 L1101.4 500.7 L1099.6 503.2 L1099.5 503.2 L1097.7 505.7 L1097.6 505.8 L1095.8 508.3 L1095.7 508.3 L1093.9 510.8 L1093.9 510.9 L1092.1 513.4 L1092.1 513.4 L1090.3 515.8 L1090.3 515.9 L1088.6 518.3 L1088.6 518.3 L1087 520.6 L1085.5 522.8 L1084 524.8 L1082.7 526.8 L1082.6 526.8 L1081.4 528.5 L1081.3 528.6 L1080.2 530.2 L1080.1 530.2 L1079.2 531.5 L1078.3 532.7 L1077.6 533.6 L1077 534.4 L1076.5 535.1 L1076.1 535.7 L1075.7 536.2 L1075.7 536.2 L1075.4 536.5 L1075.3 536.6 L1075.1 536.9 L1075.1 537 L1074.9 537.2 L1074.9 537.2 L1074.7 537.4 L1074.6 537.6 L1074.6 537.6 L1074.4 537.8Z" stroke="#0a0a0a" stroke-width="5.6" fill="none" stroke-linejoin="round"/>
<path d="M1139.4 438.2C1139.1 437.7 1139.7 439.3 1137.8 435C1135.9 430.7 1131.5 421.4 1128 412.2C1124.5 403 1120.2 390.1 1116.7 379.8C1113.2 369.6 1109.1 357.3 1107 350.7C1104.9 344.1 1105.8 346.6 1104 340C1102.2 333.4 1097.3 315.9 1095.9 311.1" stroke="#0a0a0a" stroke-width="5" fill="none"/>
<path d="M1139.4 438.2C1140.3 439.2 1138.6 440.8 1145 444C1151.4 447.2 1163.3 452.6 1178 457.6C1192.7 462.6 1223.1 470.7 1233.4 473.8C1243.7 476.9 1234.2 474.1 1240 476C1245.8 477.9 1263.7 483.9 1268.5 485.5" stroke="#0a0a0a" stroke-width="5" fill="none"/>
<path d="M1139.4 438.2C1138.5 439.5 1141 438.2 1134 446C1127 453.8 1107.9 472.4 1097.2 485.2C1086.5 497.9 1075.2 515 1069.7 522.5C1064.2 530 1068 524.8 1064 530C1060 535.2 1048.9 549.9 1045.8 553.9" stroke="#0a0a0a" stroke-width="5" fill="none"/>
<circle cx="1139.4" cy="438.2" r="5.5" fill="#0a0a0a"/>
</g>
<path d="M1002 448.5 L1009 446.5 L1017 447 L1017 458.5 L1009 456.5 L1002 455Z" fill="#1a1a24"/>
<path d="M39.8 976.9 L37.2 981.5 L35.2 985.6 L33.6 989.8 L31.4 997 L30 1003.5 L29 1009.9 L28.3 1017 L28.3 1023.3 L28.7 1030.5 L30 1039.5 L31.5 1047 L33.6 1054.3 L35.4 1059.7 L37.2 1063.8 L40.6 1069.8 L43.4 1073.6 L47.3 1077.8 L54.1 1083.5 L57.7 1085.9 L64.3 1089.5 L146.3 1127.2 L154.6 1131.2 L169.8 1139.2 L175.6 1141.9 L182 1144.1 L193.9 1146 L196.4 1146.9 L198.9 1148.5 L201.4 1150.5 L206.1 1155.1 L215.6 1166.1 L222.2 1174.9 L229.3 1186 L232.2 1191.2 L233.4 1193.8 L234.7 1197.8 L236 1204 L238.5 1219.6 L239.8 1221.2 L241 1221.7 L242.4 1221.7 L244.2 1220.8 L244.9 1219.6 L245.2 1218.3 L243.2 1202.5 L241.6 1194.6 L240.4 1190.9 L238.8 1187 L232.7 1176.4 L225.6 1165.9 L216.2 1154.4 L208.7 1146.3 L203.3 1141.8 L199.4 1139.6 L193.8 1137.8 L183.5 1136.2 L178.6 1134.5 L172.9 1131.8 L160.1 1125 L152.3 1121.2 L113.7 1103.2 L69.5 1083.1 L64 1080.3 L60.3 1078.1 L54.4 1073.5 L50.3 1069.4 L47.3 1065.4 L44.6 1060.8 L41.9 1054.4 L39.4 1045.4 L37.5 1035.6 L36.5 1027.5 L36.2 1021.2 L36.3 1017 L36.8 1011.5 L37.8 1005.1 L40.3 994.9 L42.6 988.6 L44.5 984.7 L49 977.6 L51.7 973.9 L56 968.9 L70.6 953.5 L78.3 946.1 L83.8 941.3 L91.7 935.1 L97.5 931.3 L105.9 926.5 L115.4 921.8 L141.6 909.4 L163.9 899.3 L192.1 887.1 L219.8 875.8 L221.2 874.7 L221.6 873.6 L221.5 871.9 L220.8 870.9 L219.3 870.1 L217.6 870.2 L193.2 878.8 L177.5 884.7 L156.3 893.9 L134.3 903.9 L109.1 916 L96 922.9 L90.2 926.5 L84.4 930.6 L78.2 935.6 L70 942.9 L60.3 952.7 L50.4 963.2 L43.7 971.3Z" fill="#1a1a24"/>
<path d="M143 1146.8 L137.7 1150 L133.7 1153.1 L129.8 1156.5 L124 1162.6 L114.7 1172.9 L114.1 1174.8 L114.4 1176.1 L115.1 1177.3 L116.9 1178.2 L118.3 1178.2 L119.5 1177.7 L135.1 1161.8 L140.2 1157.4 L143.6 1155.1 L150 1151.7 L161.6 1147 L167.3 1145.2 L176.5 1142.7 L177.8 1141.8 L178.7 1140.5 L178.9 1139.8 L178.9 1138.2 L178.3 1136.8 L177.2 1135.7 L175.8 1135.1 L174.2 1135.1 L160.3 1139.4 L148.9 1144Z" fill="#1a1a24"/>
<path d="M266.9 1095.1 L261.1 1102.6 L257.2 1108.3 L253.7 1114.2 L251.3 1119.2 L248.7 1125.5 L246.4 1131.8 L242.9 1143 L240.9 1150.6 L239.3 1159 L238.3 1167.9 L237.7 1182.6 L237.2 1205 L237.5 1206.4 L238.3 1207.7 L240.3 1208.7 L241.7 1208.7 L243.1 1208.1 L244.1 1207.1 L244.7 1205.7 L246.6 1182.6 L248 1168.9 L249.8 1156.5 L252.1 1146.9 L256.4 1133.5 L259.6 1125.1 L263.2 1117.8 L268 1110.1 L272.2 1104.5 L277.9 1097.6 L290.9 1082.7 L299.3 1073.8 L310 1063.1 L323.6 1050.3 L329.8 1045.2 L336.8 1039.8 L343.8 1034.8 L348.7 1031.7 L357.9 1026.6 L363.4 1024.2 L369.1 1022.1 L382.8 1017.9 L396 1014.9 L404.8 1013.6 L415.6 1013 L425 1013.1 L435.9 1014 L454.3 1016.5 L474.6 1019.7 L491 1022.6 L502.4 1025 L517.4 1028.6 L534 1033.2 L542.4 1036 L551.9 1040.4 L557.7 1042.5 L566.1 1044.9 L583 1049.2 L593.3 1052.1 L607 1056.6 L645.4 1069.9 L660.1 1074.2 L673.8 1077.3 L690.2 1080 L707.7 1081.9 L721.4 1082.4 L732.6 1081.8 L742.2 1080.8 L750.5 1079.5 L758 1077.8 L765.4 1075.4 L771.1 1072.9 L777.1 1069.5 L780.2 1067.3 L783.9 1064.3 L787.8 1060.3 L791.8 1055.2 L793.8 1052 L795.9 1048 L797.8 1042.9 L799.3 1036.6 L800.1 1030 L800.3 1020.7 L799.7 1014.2 L798.2 1006.9 L795.5 997.1 L792.6 989.2 L787.9 978.4 L787.1 977.1 L785.8 976.3 L784.4 976 L783 976.3 L781.3 977.7 L780.7 979.1 L780.7 980.5 L785.6 994.4 L787.6 1001.5 L789.6 1012.4 L790.3 1022.5 L789.9 1031.3 L788.8 1038.3 L788 1040.8 L786.7 1044.1 L783.5 1049.6 L780.7 1053.3 L778.2 1056 L773.1 1060.1 L767.3 1063.7 L759.5 1066.9 L751.2 1069.2 L740.3 1071 L726.9 1072.2 L715.9 1072.3 L702.8 1071.5 L686.7 1069.4 L673 1066.9 L659.3 1063.7 L649.2 1060.6 L610.9 1047.3 L597.2 1042.8 L587.9 1040.1 L561.5 1033.3 L555.7 1031.1 L546.2 1026.8 L539.6 1024.5 L519.3 1018.8 L500.5 1014.4 L484.9 1011.3 L468.1 1008.5 L452.6 1006.2 L435.3 1004 L427.3 1003.3 L418 1003 L408.7 1003.3 L398.7 1004.3 L391.6 1005.5 L380.8 1008.1 L371.1 1010.9 L362.4 1013.9 L354.1 1017.4 L348.1 1020.5 L343.1 1023.4 L335.9 1028.1 L326.6 1035 L318.8 1041.3 L311.9 1047.4 L305.2 1053.8 L292.2 1066.8 L283.8 1075.6 L276 1084.3Z" fill="#1a1a24"/>
<path d="M549.6 1292.3 L548.9 1297.3 L547.3 1312.4 L546.4 1324.3 L546.1 1335.8 L546.6 1350.5 L547.7 1361.6 L549.8 1374.5 L552.8 1387.7 L556.1 1399.1 L560.7 1412.2 L566.3 1425.3 L572.8 1438.7 L577.7 1447.8 L580.8 1453 L587.3 1462.3 L591.5 1467.4 L597.3 1473.8 L606.6 1483.3 L608.7 1484 L610.1 1483.7 L611.4 1482.9 L612.2 1481.6 L612.5 1480.2 L611.8 1478.1 L598.3 1461.9 L594.9 1457.2 L591.9 1452.5 L584.5 1439.5 L580.7 1432.2 L575.5 1421.5 L572.1 1413.6 L567.1 1400.5 L564.6 1393 L562.6 1385.7 L559.6 1372.6 L558.2 1364.8 L557.2 1357.1 L556.2 1343.1 L556.1 1333.5 L556.3 1326.6 L556.8 1317.7 L558.5 1300.7 L559.8 1292.6 L561 1288.3 L563.5 1282.8 L571.7 1268.4 L582.6 1248.5 L590.2 1233.5 L592.9 1226.5 L594.4 1221 L595.6 1215.3 L598.4 1197.9 L601.5 1171.8 L602.1 1164.4 L602.4 1157.3 L602.2 1150 L601.4 1141.6 L600.1 1134.1 L598 1124.1 L594.5 1108.6 L591.8 1098 L588.3 1086.4 L584.3 1074.9 L582 1069.1 L578.3 1060.8 L573.1 1050.9 L570.5 1047.2 L567.3 1043.2 L560.1 1035.2 L558.8 1034.4 L557.4 1034.2 L555.3 1034.8 L554.3 1035.8 L553.6 1037.9 L553.9 1039.3 L561 1048.4 L563.5 1051.9 L565.7 1055.5 L567.5 1059.3 L570.7 1067.1 L576.1 1081.7 L580 1092.9 L582 1100 L585.9 1115.8 L590.8 1138.6 L592 1147.6 L592.3 1152.5 L592.3 1159.6 L591.5 1171.2 L588.6 1195.9 L585.8 1213.3 L583.5 1222.9 L580.9 1229.7 L573.4 1244.6 L563.4 1262.8 L554.2 1278.9 L551.8 1284.5 L550.4 1289Z" fill="#1a1a24"/>
<path d="M438.5 1344.8 L420.8 1351 L406.5 1354.4 L405.2 1355.2 L404.4 1356.5 L404.1 1357.9 L404.4 1359.3 L405.8 1361 L407.9 1361.7 L417.9 1360.1 L424.5 1358.7 L436.7 1355.3 L446.9 1352.1 L465 1345.2 L473.3 1341.8 L481.8 1337.4 L486.9 1333.8 L492.4 1328.6 L502.1 1317.5 L505 1315 L509 1312.1 L513.3 1309.5 L521.4 1305.2 L532.4 1300.1 L541.2 1297.2 L555.4 1293.5 L556.7 1292.7 L557.5 1291.4 L557.8 1290 L557.5 1288.6 L556.1 1286.9 L554 1286.2 L542 1288.5 L534.6 1290.2 L528.9 1291.8 L522.2 1294.3 L515.4 1297.2 L505.6 1302.5 L501.4 1305.2 L497.5 1308.2 L493.3 1312.2 L483.6 1323.3 L480.4 1326.2 L476.3 1329.1 L472.1 1331.3 L464 1334.9Z" fill="#1a1a24"/>
<path d="M478.2 1333.1 L477.6 1334.5 L477.6 1335.9 L478.2 1337.3 L479.2 1338.3 L492.3 1343.2 L500.3 1346.8 L505.7 1349.9 L521.4 1359.8 L528.6 1363.4 L530.7 1364.3 L536.1 1365.7 L550.4 1368.6 L551.8 1368.6 L553.2 1368 L554.6 1366.3 L554.8 1364.2 L554.2 1362.8 L553.2 1361.8 L538.9 1356.8 L530.3 1353.3 L524.7 1350.2 L509.1 1340.3 L502.1 1336.7 L495 1334.4 L482 1331.5 L479.9 1331.7Z" fill="#1a1a24"/>
<path d="M415.3 1357.6 L414.6 1359.7 L415.3 1361.8 L422.2 1370.8 L427.2 1378.1 L434.4 1390.5 L440.9 1403.2 L443.4 1409 L445.5 1414.5 L448.7 1425.2 L449.8 1431.8 L450.4 1441 L450.7 1443.2 L451.5 1444.5 L452.8 1445.3 L454.2 1445.5 L455.6 1445.3 L456.9 1444.5 L457.9 1442.5 L458.4 1431 L457.9 1423.4 L457 1418.4 L455.3 1412.4 L452.6 1405.2 L450.1 1399.4 L445.7 1390.4 L440.2 1380.5 L436.5 1374.4 L433.3 1370.2 L427.5 1363.8 L420.5 1356.6 L419.1 1356 L417.7 1356 L416.3 1356.6Z" fill="#1a1a24"/>
<path d="M71.2 1006.2C71.2 1013.9 72.3 1019.6 76 1025.7C79.7 1031.8 84.2 1038.2 93.1 1042.7C102 1047.2 117.4 1051.6 129.6 1052.4C141.8 1053.2 152 1050.8 166.2 1047.6C180.4 1044.4 198.7 1037.9 214.9 1033C231.1 1028.1 247.4 1024 263.6 1018.3C279.8 1012.6 296.1 1006.2 312.3 998.9C328.6 991.6 348.9 982.2 361.1 974.5C373.3 966.8 378.9 960.3 385.4 952.6C391.9 944.9 397.1 935.9 400 928.2C402.9 920.5 403.7 912.8 402.5 906.3C401.3 899.8 397.6 893.1 392.7 889.2C387.8 885.3 384.6 884.5 373.2 883.1C361.8 881.7 340.7 880.5 324.5 880.7C308.3 880.9 292 881.8 275.8 884.4C259.6 887 243.3 892 227.1 896.5C210.8 901 194.6 905.1 178.3 911.2C162.1 917.3 143.8 925.4 129.6 933.1C115.4 940.8 102 949.7 93.1 957.4C84.2 965.1 79.7 971.3 76 979.4C72.3 987.5 71.2 998.5 71.2 1006.2Z" stroke="#0a0a0a" stroke-width="5.6" fill="none"/>
<path d="M164.7 973.5C169.2 970.9 183.8 962.5 191.5 958.1C199.2 953.8 207.8 949.2 211 947.4" stroke="#0a0a0a" stroke-width="5.5" fill="none"/>
<path d="M192.9 958.1C193.8 960.1 196.5 966 198.2 970.2C199.9 974.5 201.1 980.4 202.9 983.6C204.7 986.8 207.9 988.6 208.9 989.6" stroke="#0a0a0a" stroke-width="5.5" fill="none"/>
<path d="M213.6 960.8 L239 981" stroke="#0a0a0a" stroke-width="5.5" fill="none"/>
<path d="M239.3 984C239.5 980.8 240.5 970.8 240.5 965C240.5 959.2 239.3 952 239.1 949.4" stroke="#0a0a0a" stroke-width="5.5" fill="none"/>
<path d="M466.1 920.2C465.8 914.8 467.9 910 471.1 906.1C474.3 902.2 479.4 899.6 485.1 897.1C490.8 894.6 496.8 892.6 505.2 891.1C513.6 889.6 525.4 888.2 535.4 888C545.4 887.8 555.5 888.6 565.5 890C575.5 891.4 585.7 893.6 595.7 896.1C605.8 898.6 615.8 901.6 625.8 905.1C635.8 908.6 646 912.9 656 917.2C666 921.6 676.1 925.7 686.1 931.2C696.1 936.7 707.2 943.8 716.3 950.3C725.3 956.8 733.4 963.4 740.4 970.4C747.4 977.4 753.8 985.8 758.5 992.5C763.2 999.2 766.3 1004.6 768.5 1010.6C770.7 1016.6 771.7 1023.3 771.5 1028.7C771.3 1034.1 770 1038.8 767.5 1042.8C765 1046.8 761.6 1050.3 756.4 1052.8C751.2 1055.3 743.8 1057.2 736.4 1057.9C729 1058.6 720.6 1058 712.2 1056.8C703.8 1055.6 695.5 1053.1 686.1 1050.8C676.7 1048.5 666 1045.5 656 1042.8C646 1040.1 635.8 1038 625.8 1034.7C615.8 1031.4 605.8 1027.4 595.7 1022.7C585.7 1018 575.5 1012.6 565.5 1006.6C555.5 1000.6 544.4 992.5 535.4 986.5C526.4 980.5 519 975.8 511.3 970.4C503.6 965 495.6 959.8 489.2 954.4C482.8 949 477 944 473.1 938.3C469.2 932.6 466.4 925.6 466.1 920.2Z" stroke="#0a0a0a" stroke-width="5.6" fill="none"/>
<path d="M576.7 967.7 L596.9 941.4 L599.1 967.7 L607.9 969.9 L623.2 952.4 L611.1 987.4" stroke="#0a0a0a" stroke-width="5.5" fill="none"/>
<path d="M644 965.5 L652.8 1002.8 L679.1 974.3" stroke="#0a0a0a" stroke-width="5.5" fill="none"/>
<ellipse cx="416.9" cy="1144.9" rx="122.7" ry="113.9" transform="rotate(0 416.9 1144.9)" stroke="#0a0a0a" stroke-width="5.6" fill="none"/>
<ellipse cx="419.1" cy="1146" rx="104.7" ry="98.2" transform="rotate(0 419.1 1146)" stroke="#0a0a0a" stroke-width="5.6" fill="none"/>
<g clip-path="url(#cl5)">
<path d="M445.4 1010.1 L444.7 1010 L444.1 1009.9 L443.5 1009.9 L442.8 1009.9 L442.2 1009.9 L441.6 1010 L440.9 1010.1 L440.3 1010.2 L439.7 1010.3 L439.1 1010.5 L438.5 1010.7 L437.9 1011 L437.3 1011.2 L436.8 1011.5 L436.2 1011.9 L435.7 1012.2 L435.2 1012.6 L434.7 1013 L434.2 1013.4 L433.8 1013.8 L433.3 1014.3 L432.9 1014.8 L432.5 1015.3 L432.2 1015.8 L431.9 1016.3 L431.5 1016.9 L431.3 1017.5 L431 1018.1 L430.8 1018.6 L430.6 1019.2 L430.4 1019.9 L430.3 1020.5 L430.2 1021.1 L430.1 1021.7 L430.1 1022.4 L430.1 1023 L430.1 1023.6 L431 1039.3 L431 1039.4 L431 1039.6 L431 1039.7 L431 1039.8 L431 1040 L431 1040 L431.1 1040.3 L431.1 1040.6 L431.1 1041.1 L431.1 1041.1 L431.2 1041.6 L431.2 1041.7 L431.2 1042.2 L431.2 1042.8 L431.3 1043.6 L431.3 1044.5 L431.4 1045.6 L431.4 1046.7 L431.4 1048.1 L431.5 1049.6 L431.5 1051.3 L431.6 1053.3 L431.6 1055.5 L431.7 1057.8 L431.8 1060.3 L431.8 1063 L431.9 1065.7 L431.9 1068.5 L432 1071.3 L432.1 1074.1 L432.1 1076.9 L432.1 1076.9 L432.2 1079.7 L432.2 1079.7 L432.3 1082.3 L432.3 1082.3 L432.3 1084.9 L432.3 1084.9 L432.4 1087.3 L432.4 1087.3 L432.5 1089.5 L432.5 1089.6 L432.6 1091.7 L432.6 1093.9 L432.7 1096 L432.8 1098 L432.8 1098 L432.9 1100.1 L432.9 1100.1 L433 1102 L433 1102.1 L433 1104 L433 1104 L433.1 1105.9 L433.1 1105.9 L433.2 1107.7 L433.2 1107.8 L433.3 1109.5 L433.3 1109.5 L433.4 1111.2 L433.4 1111.3 L433.5 1112.9 L433.5 1112.9 L433.6 1114.4 L433.6 1114.5 L433.7 1115.9 L433.7 1116 L433.8 1117.2 L433.9 1117.8 L434 1118.5 L434.1 1119.1 L434.3 1119.7 L434.5 1120.4 L434.7 1121 L434.9 1121.6 L435.2 1122.1 L435.5 1122.7 L435.9 1123.3 L436.3 1123.8 L436.6 1124.3 L437.1 1124.8 L437.5 1125.3 L438 1125.7 L438.5 1126.2 L439 1126.6 L439.5 1126.9 L440.1 1127.3 L440.6 1127.6 L441.2 1127.9 L442.5 1128.5 L444.6 1129.5 L447 1130.7 L449.5 1131.9 L452.2 1133.3 L455.1 1134.7 L458 1136.1 L461 1137.7 L464.1 1139.3 L467.3 1140.9 L470.4 1142.5 L473.5 1144.2 L473.6 1144.2 L476.5 1145.9 L476.6 1145.9 L479.5 1147.5 L479.6 1147.6 L482.4 1149.1 L482.5 1149.2 L485.2 1150.7 L485.3 1150.8 L488 1152.4 L488.1 1152.5 L490.8 1154.1 L490.9 1154.2 L493.6 1155.9 L493.7 1156 L496.5 1157.8 L496.6 1157.8 L499.3 1159.6 L499.4 1159.7 L502.1 1161.5 L504.9 1163.4 L507.6 1165.2 L510.2 1167 L512.8 1168.8 L515.2 1170.5 L517.4 1172 L519.5 1173.5 L519.6 1173.5 L521.4 1174.8 L521.5 1174.9 L523.1 1176 L523.2 1176 L524.6 1177 L524.7 1177 L526 1177.9 L527.1 1178.7 L528.1 1179.3 L528.9 1179.9 L529.6 1180.4 L530.2 1180.7 L530.7 1181.1 L531 1181.3 L531.4 1181.6 L531.4 1181.6 L531.6 1181.8 L531.7 1181.8 L531.9 1181.9 L532 1182 L532.3 1182.2 L532.4 1182.3 L532.4 1182.3 L539.4 1187.2 L540 1187.5 L540.5 1187.8 L541.1 1188.1 L541.7 1188.4 L542.3 1188.6 L542.9 1188.9 L543.5 1189 L544.1 1189.2 L544.7 1189.3 L545.3 1189.4 L546 1189.4 L546.6 1189.5 L547.2 1189.5 L547.9 1189.4 L548.5 1189.4 L549.1 1189.3 L549.8 1189.1 L550.4 1189 L551 1188.8 L551.6 1188.6 L552.2 1188.3 L552.7 1188.1 L553.3 1187.8 L553.8 1187.4 L554.4 1187.1 L554.9 1186.7 L555.4 1186.3 L555.8 1185.9 L556.3 1185.4 L556.7 1184.9 L557.1 1184.4 L557.5 1183.9 L557.8 1183.4 L558.2 1182.9 L558.5 1182.3 L558.7 1181.7 L559 1181.1 L559.2 1180.5 L559.4 1179.9 L559.4 1179.7 L559.5 1179.4 L560.2 1176.4 L560.3 1176.1 L561 1173.1 L561.1 1172.8 L561.6 1169.8 L561.7 1169.5 L562.2 1166.4 L562.3 1166.1 L562.7 1163.1 L562.7 1162.8 L563.1 1159.7 L563.1 1159.4 L563.4 1156.3 L563.4 1156 L563.6 1152.9 L563.6 1152.6 L563.7 1149.6 L563.8 1149.2 L563.8 1146.2 L563.8 1145.8 L563.8 1142.8 L563.7 1142.4 L563.6 1139.4 L563.6 1139.1 L563.4 1136 L563.4 1135.7 L563.1 1132.6 L563.1 1132.3 L562.7 1129.2 L562.7 1128.9 L562.3 1125.9 L562.2 1125.6 L561.7 1122.5 L561.6 1122.2 L561.1 1119.2 L561 1118.9 L560.3 1115.9 L560.2 1115.6 L559.5 1112.6 L559.4 1112.3 L558.6 1109.3 L558.5 1109 L557.6 1106 L557.5 1105.7 L556.5 1102.8 L556.4 1102.5 L555.4 1099.6 L555.3 1099.3 L554.2 1096.4 L554 1096.1 L552.8 1093.3 L552.7 1093 L551.5 1090.1 L551.3 1089.8 L550 1087.1 L549.8 1086.8 L548.4 1084 L548.3 1083.7 L546.8 1081 L546.6 1080.7 L545.1 1078 L544.9 1077.7 L543.3 1075.1 L543.1 1074.8 L541.4 1072.2 L541.3 1071.9 L539.5 1069.4 L539.3 1069.1 L537.5 1066.6 L537.3 1066.3 L535.4 1063.8 L535.2 1063.5 L533.3 1061.1 L533.1 1060.9 L531.1 1058.5 L530.8 1058.2 L528.8 1055.9 L528.6 1055.6 L526.4 1053.3 L526.2 1053.1 L524 1050.8 L523.8 1050.6 L521.5 1048.4 L521.3 1048.2 L519 1046 L518.8 1045.8 L516.4 1043.7 L516.2 1043.5 L513.7 1041.5 L513.5 1041.3 L511 1039.3 L510.8 1039.1 L508.2 1037.1 L508 1037 L505.4 1035.1 L505.2 1034.9 L502.5 1033.1 L502.3 1032.9 L499.6 1031.2 L499.4 1031 L496.6 1029.3 L496.4 1029.2 L493.6 1027.5 L493.4 1027.4 L490.6 1025.8 L490.3 1025.7 L487.4 1024.2 L487.2 1024 L484.3 1022.6 L484 1022.5 L481.1 1021.1 L480.8 1021 L477.9 1019.7 L477.6 1019.6 L474.6 1018.4 L474.3 1018.3 L471.3 1017.1 L471 1017 L468 1015.9 L467.7 1015.8 L464.6 1014.8 L464.3 1014.7 L461.3 1013.8 L461 1013.7 L457.8 1012.8 L457.5 1012.8 L454.4 1012 L454.1 1011.9 L451 1011.2 L450.7 1011.1 L447.5 1010.5 L447.2 1010.4ZM274.9 1157.5 L275 1158.6 L275.2 1159.8 L275.5 1160.9 L275.8 1162.1 L276.1 1163.2 L276.5 1164.3 L277 1165.3 L277.5 1166.4 L278.1 1167.4 L278.7 1168.4 L279.3 1169.4 L280 1170.3 L280.8 1171.2 L281.6 1172 L282.4 1172.9 L283.3 1173.6 L284.2 1174.4 L285.1 1175 L286.1 1175.7 L287.1 1176.3 L288.1 1176.8 L289.2 1177.3 L290.3 1177.8 L291.4 1178.1 L292.5 1178.5 L293.6 1178.8 L294.7 1179 L295.9 1179.2 L297.1 1179.3 L298.2 1179.3 L299.4 1179.3 L300.6 1179.3 L301.7 1179.2 L302.9 1179 L304 1178.8 L305.1 1178.5 L306.3 1178.2 L307.4 1177.8 L308.4 1177.3 L309.5 1176.8 L310.5 1176.3 L311 1176 L311.9 1175.5 L312.1 1175.3 L312.2 1175.3 L312.5 1175.2 L312.6 1175.1 L312.9 1174.9 L313 1174.8 L313.4 1174.6 L314 1174.3 L314.7 1173.9 L315.6 1173.4 L316.6 1172.9 L317.8 1172.2 L319.2 1171.5 L319.3 1171.5 L320.7 1170.7 L320.8 1170.6 L322.5 1169.8 L322.6 1169.7 L324.5 1168.7 L324.5 1168.7 L326.7 1167.5 L329 1166.2 L331.4 1164.9 L334 1163.5 L336.7 1162 L339.5 1160.5 L342.4 1159 L345.3 1157.5 L348.3 1156 L351.2 1154.5 L354.3 1153 L354.4 1152.9 L357.2 1151.6 L357.4 1151.5 L360.2 1150.2 L360.4 1150.1 L363.2 1148.9 L363.4 1148.8 L366.5 1147.5 L366.6 1147.4 L369.8 1146.1 L373.2 1144.7 L376.7 1143.3 L380.2 1142 L383.7 1140.6 L387.2 1139.3 L390.5 1138 L392.1 1137.4 L393.2 1137 L394.2 1136.5 L395.2 1136 L396.3 1135.4 L397.2 1134.7 L398.2 1134 L399.1 1133.3 L400 1132.5 L400.8 1131.7 L401.6 1130.8 L402.3 1129.9 L403 1129 L403.7 1128 L404.3 1127 L404.9 1126 L405.4 1125 L405.8 1123.9 L406.2 1122.8 L406.6 1121.7 L406.9 1120.5 L407.1 1119.4 L407.3 1118.2 L407.4 1117.1 L407.5 1115.9 L407.5 1114.7 L407.5 1113.6 L407.4 1112.8 L407.3 1111 L407.2 1109.1 L407.2 1107.1 L407.1 1105.2 L407 1103.2 L406.9 1101.1 L406.8 1099 L406.7 1096.9 L406.7 1094.8 L406.6 1092.6 L406.5 1090.5 L406.4 1088.2 L406.4 1085.7 L406.3 1083.1 L406.2 1080.4 L406.1 1077.6 L406.1 1074.7 L406 1071.9 L405.9 1069 L405.9 1066.2 L405.8 1063.5 L405.8 1060.9 L405.7 1058.4 L405.7 1056.1 L405.7 1056.1 L405.6 1054 L405.6 1053.9 L405.6 1052.1 L405.6 1052 L405.5 1050.4 L405.5 1050.4 L405.5 1049 L405.5 1048.9 L405.4 1047.8 L405.4 1047.7 L405.4 1046.7 L405.4 1046.6 L405.3 1045.8 L405.3 1045.7 L405.3 1045 L405.3 1044.9 L405.3 1044.4 L405.3 1044.2 L405.2 1043.9 L405.2 1043.7 L405.2 1043.4 L405.2 1043.3 L405.2 1043.1 L405.2 1042.9 L405.2 1042.8 L405.2 1042.7 L405.2 1042.5 L405.1 1042.4 L405.1 1042.2 L405.1 1042 L405.1 1041.6 L405.1 1041.5 L405.1 1041.2 L405 1041.1 L405 1040.7 L404.8 1036.4 L404.7 1035.2 L404.5 1034 L404.3 1032.8 L404 1031.7 L403.7 1030.5 L403.3 1029.4 L402.9 1028.3 L402.4 1027.2 L401.9 1026.2 L401.3 1025.1 L400.6 1024.1 L399.9 1023.2 L399.2 1022.2 L398.4 1021.4 L397.6 1020.5 L396.7 1019.7 L395.8 1018.9 L394.8 1018.2 L393.8 1017.5 L392.8 1016.9 L391.8 1016.4 L390.7 1015.8 L389.6 1015.4 L388.5 1015 L387.4 1014.6 L386.2 1014.3 L385.1 1014.1 L383.9 1013.9 L382.7 1013.8 L381.5 1013.7 L380.3 1013.7 L379.1 1013.8 L378 1013.9 L376.8 1014 L375.6 1014.3 L374.5 1014.6 L373.3 1014.9 L370.6 1015.8 L370.1 1016 L367.3 1017 L366.8 1017.2 L364 1018.2 L363.5 1018.4 L360.7 1019.5 L360.2 1019.8 L357.5 1021 L357 1021.2 L354.3 1022.4 L353.8 1022.7 L351.1 1024 L350.6 1024.3 L348 1025.6 L347.5 1025.9 L345 1027.3 L344.5 1027.6 L341.9 1029.1 L341.4 1029.4 L339 1030.9 L338.5 1031.2 L336 1032.9 L335.5 1033.2 L333.1 1034.8 L332.7 1035.2 L330.3 1036.9 L329.8 1037.2 L327.5 1039 L327.1 1039.4 L324.8 1041.2 L324.4 1041.5 L322.1 1043.4 L321.7 1043.8 L319.5 1045.7 L319.1 1046.1 L317 1048.1 L316.6 1048.5 L314.5 1050.5 L314.1 1050.9 L312.1 1053 L311.7 1053.4 L309.7 1055.5 L309.3 1056 L307.4 1058.1 L307.1 1058.6 L305.2 1060.7 L304.8 1061.2 L303.1 1063.4 L302.7 1063.9 L301 1066.2 L300.6 1066.7 L299 1069 L298.6 1069.5 L297 1071.8 L296.7 1072.3 L295.1 1074.7 L294.8 1075.2 L293.4 1077.6 L293 1078.1 L291.6 1080.6 L291.3 1081.1 L290 1083.6 L289.7 1084.1 L288.4 1086.6 L288.2 1087.2 L286.9 1089.7 L286.7 1090.3 L285.5 1092.8 L285.3 1093.4 L284.2 1096 L284 1096.5 L283 1099.2 L282.8 1099.7 L281.8 1102.4 L281.6 1102.9 L280.7 1105.6 L280.5 1106.2 L279.7 1108.8 L279.6 1109.4 L278.8 1112.1 L278.7 1112.7 L278 1115.4 L277.8 1116 L277.2 1118.7 L277.1 1119.3 L276.6 1122.1 L276.5 1122.7 L276 1125.4 L275.9 1126 L275.5 1128.8 L275.5 1129.4 L275.1 1132.1 L275.1 1132.8 L274.8 1135.5 L274.8 1136.1 L274.6 1138.9 L274.6 1139.5 L274.5 1142.3 L274.4 1142.9 L274.4 1145.7 L274.4 1146.3 L274.4 1149.1 L274.5 1149.7 L274.6 1152.5 L274.6 1153.1 L274.8 1155.9 L274.8 1156.5ZM306.3 1208.4 L305.8 1208.7 L305.3 1209.1 L304.8 1209.4 L304.3 1209.8 L303.8 1210.3 L303.3 1210.7 L302.9 1211.2 L302.5 1211.7 L302.1 1212.2 L301.8 1212.7 L301.4 1213.2 L301.1 1213.8 L300.9 1214.4 L300.6 1215 L300.4 1215.6 L300.2 1216.2 L300 1216.8 L299.9 1217.4 L299.8 1218 L299.7 1218.6 L299.7 1219.3 L299.7 1219.9 L299.7 1220.6 L299.8 1221.2 L299.9 1221.8 L300 1222.4 L300.1 1223.1 L300.3 1223.7 L300.5 1224.3 L300.7 1224.9 L301 1225.4 L301.3 1226 L301.6 1226.5 L302 1227.1 L302.3 1227.6 L302.8 1228.2 L303 1228.5 L304.9 1230.9 L305.1 1231.1 L307.1 1233.5 L307.4 1233.8 L309.4 1236.1 L309.6 1236.4 L311.8 1238.7 L312 1238.9 L314.2 1241.2 L314.4 1241.4 L316.7 1243.6 L316.9 1243.8 L319.2 1246 L319.4 1246.2 L321.8 1248.3 L322 1248.5 L324.5 1250.5 L324.7 1250.7 L327.2 1252.7 L327.4 1252.9 L330 1254.9 L330.2 1255 L332.8 1256.9 L333 1257.1 L335.7 1258.9 L335.9 1259.1 L338.6 1260.8 L338.8 1261 L341.6 1262.7 L341.8 1262.8 L344.6 1264.5 L344.8 1264.6 L347.6 1266.2 L347.9 1266.3 L350.8 1267.8 L351 1268 L353.9 1269.4 L354.2 1269.5 L357.1 1270.9 L357.4 1271 L360.3 1272.3 L360.6 1272.4 L363.6 1273.6 L363.9 1273.7 L366.9 1274.9 L367.2 1275 L370.2 1276.1 L370.5 1276.2 L373.6 1277.2 L373.9 1277.3 L376.9 1278.2 L377.2 1278.3 L380.4 1279.2 L380.7 1279.2 L383.8 1280 L384.1 1280.1 L387.2 1280.8 L387.5 1280.9 L390.7 1281.5 L391 1281.6 L394.2 1282.1 L394.5 1282.2 L397.7 1282.7 L398 1282.7 L401.2 1283.1 L401.5 1283.2 L404.8 1283.5 L405.1 1283.5 L408.3 1283.8 L408.6 1283.8 L411.8 1284 L412.2 1284 L415.4 1284.2 L415.7 1284.2 L418.9 1284.2 L419.3 1284.2 L422.5 1284.2 L422.8 1284.2 L426 1284 L426.4 1284 L429.6 1283.8 L429.9 1283.8 L433.1 1283.5 L433.4 1283.5 L436.7 1283.2 L437 1283.1 L440.2 1282.7 L440.5 1282.7 L443.7 1282.2 L444 1282.1 L447.2 1281.6 L447.5 1281.5 L450.7 1280.9 L451 1280.8 L454.1 1280.1 L454.4 1280 L457.5 1279.2 L457.8 1279.2 L461 1278.3 L461.3 1278.2 L464.3 1277.3 L464.6 1277.2 L467.7 1276.2 L468 1276.1 L471 1275 L471.3 1274.9 L474.3 1273.7 L474.6 1273.6 L477.6 1272.4 L477.9 1272.3 L480.8 1271 L481.1 1270.9 L484 1269.5 L484.3 1269.4 L487.2 1268 L487.4 1267.8 L490.3 1266.3 L490.6 1266.2 L493.4 1264.6 L493.6 1264.5 L496.4 1262.8 L496.6 1262.7 L499.4 1261 L499.6 1260.8 L502.3 1259.1 L502.5 1258.9 L505.2 1257.1 L505.4 1256.9 L508 1255 L508.2 1254.9 L510.8 1252.9 L511 1252.7 L513.5 1250.7 L513.7 1250.5 L516.2 1248.5 L516.4 1248.3 L518.8 1246.2 L519 1246 L521.3 1243.8 L521.5 1243.6 L523.8 1241.4 L524 1241.2 L526.2 1238.9 L526.4 1238.7 L528.6 1236.4 L528.8 1236.1 L530.8 1233.8 L531.1 1233.5 L532.8 1231.5 L533.2 1231 L533.6 1230.4 L533.9 1229.9 L534.2 1229.4 L534.5 1228.8 L534.8 1228.2 L535 1227.6 L535.2 1227 L535.4 1226.4 L535.6 1225.8 L535.7 1225.2 L535.8 1224.5 L535.8 1223.9 L535.8 1223.3 L535.8 1222.6 L535.8 1222 L535.7 1221.4 L535.6 1220.7 L535.5 1220.1 L535.3 1219.5 L535.1 1218.9 L534.9 1218.3 L534.7 1217.7 L534.4 1217.1 L534.1 1216.6 L533.8 1216 L533.4 1215.5 L533 1215 L532.6 1214.5 L532.2 1214 L531.7 1213.6 L531.2 1213.2 L530.7 1212.8 L530.2 1212.4 L517.6 1203.7 L517.4 1203.6 L517.3 1203.5 L517.2 1203.4 L517 1203.3 L516.9 1203.2 L516.8 1203.1 L516.7 1203 L516.6 1203 L516.5 1202.9 L516.4 1202.8 L516.3 1202.7 L516.2 1202.7 L516.1 1202.6 L515.9 1202.5 L515.8 1202.4 L515.5 1202.2 L515.5 1202.2 L515 1201.9 L515 1201.8 L514.4 1201.4 L514.4 1201.4 L513.6 1200.9 L513.6 1200.9 L512.6 1200.3 L512.6 1200.2 L511.5 1199.5 L511.5 1199.5 L510.2 1198.6 L508.6 1197.5 L508.5 1197.5 L506.7 1196.3 L504.7 1194.9 L502.6 1193.4 L500.4 1191.8 L498 1190.2 L498 1190.2 L495.5 1188.5 L495.5 1188.5 L493 1186.7 L492.9 1186.7 L490.4 1184.9 L490.3 1184.9 L487.7 1183.2 L487.7 1183.1 L485.1 1181.4 L485 1181.3 L482.4 1179.6 L482.3 1179.6 L479.8 1177.9 L479.6 1177.9 L477.2 1176.3 L477 1176.2 L474.6 1174.7 L474.5 1174.6 L472.2 1173.2 L472 1173.2 L469.7 1171.8 L469.5 1171.7 L467 1170.3 L466.9 1170.2 L464.2 1168.7 L464.1 1168.7 L461.3 1167.1 L461.2 1167.1 L458.3 1165.6 L458.2 1165.5 L455.3 1164 L455.2 1163.9 L452.3 1162.4 L452.2 1162.4 L449.3 1160.9 L449.3 1160.9 L446.4 1159.4 L446.3 1159.4 L443.5 1158 L443.5 1157.9 L440.8 1156.6 L440.7 1156.6 L438.1 1155.3 L438.1 1155.3 L435.7 1154.1 L435.6 1154.1 L433.7 1153.2 L433.2 1152.9 L432.6 1152.7 L431.9 1152.4 L431.3 1152.3 L430.7 1152.1 L430 1152 L429.4 1151.9 L428.7 1151.9 L428.1 1151.9 L427.4 1151.9 L426.8 1151.9 L426.1 1152 L425.5 1152.1 L424.9 1152.3 L424.2 1152.4 L423.6 1152.7 L423 1152.9 L422.4 1153.2 L421.5 1153.6 L421.4 1153.6 L421.2 1153.7 L421.1 1153.8 L419.5 1154.5 L419.5 1154.5 L419.3 1154.6 L419.2 1154.7 L417.3 1155.5 L417.1 1155.6 L414.8 1156.5 L414.7 1156.6 L412.1 1157.6 L412.1 1157.6 L409.3 1158.7 L406.3 1159.9 L403.1 1161.1 L399.8 1162.3 L396.5 1163.6 L396.4 1163.6 L393.1 1164.9 L393 1164.9 L389.7 1166.2 L389.6 1166.2 L386.3 1167.5 L386.3 1167.5 L383 1168.8 L382.9 1168.8 L379.8 1170.1 L379.7 1170.1 L376.7 1171.4 L376.6 1171.4 L373.8 1172.6 L373.7 1172.7 L371.2 1173.8 L371 1173.9 L368.5 1175 L368.4 1175.1 L365.8 1176.3 L365.6 1176.4 L363 1177.7 L362.9 1177.7 L360.2 1179.1 L360.1 1179.1 L357.4 1180.5 L357.3 1180.6 L354.6 1182 L354.5 1182 L351.8 1183.5 L351.8 1183.5 L349.1 1184.9 L349 1184.9 L346.4 1186.3 L346.4 1186.3 L343.9 1187.7 L343.9 1187.7 L341.4 1189 L339.1 1190.3 L336.9 1191.5 L334.9 1192.6 L333.1 1193.6 L331.4 1194.5 L330 1195.2 L330 1195.2 L328.9 1195.8 L328.8 1195.8 L327.9 1196.3 L327.9 1196.3 L327.2 1196.7 L327.1 1196.7 L326.6 1197 L326.5 1197.1 L326.2 1197.3 L325.4 1197.7 L325.3 1197.8 L325.2 1197.9 L325 1198 L324.9 1198 L324.8 1198.1 L324.8 1198.1 L324.6 1198.2 L324.5 1198.3 L324.3 1198.3Z" stroke="#0a0a0a" stroke-width="5.6" fill="none" stroke-linejoin="round"/>
<path d="M423.8 1136.2C423.3 1133.5 421.7 1127.7 421 1120C420.3 1112.3 419.9 1101.7 419.5 1090C419.1 1078.3 418.8 1058.3 418.5 1050C418.2 1041.7 418.3 1046.7 418 1040C417.7 1033.3 416.8 1015 416.5 1010" stroke="#0a0a0a" stroke-width="5" fill="none"/>
<path d="M423.8 1136.2C422.2 1137.3 423.8 1138.4 414.1 1142.7C404.4 1147 380.5 1155.3 365.7 1162C350.9 1168.7 333.2 1178.8 325.3 1183C317.4 1187.2 323.6 1183.9 318 1187C312.4 1190.1 296.1 1199 291.7 1201.4" stroke="#0a0a0a" stroke-width="5" fill="none"/>
<path d="M423.8 1136.2C425.7 1136.7 426 1135.1 435.1 1139.4C444.2 1143.7 465 1153.9 478.7 1162C492.4 1170.1 509.7 1182.6 517.4 1187.8C525.1 1193 519.6 1189.3 525 1193C530.4 1196.7 545.6 1207.1 549.8 1209.9" stroke="#0a0a0a" stroke-width="5" fill="none"/>
<circle cx="423.8" cy="1136.2" r="8.5" fill="#0a0a0a"/>
</g>
<ellipse cx="288.5" cy="1338" rx="117.9" ry="118.3" transform="rotate(0 288.5 1338)" stroke="#0a0a0a" stroke-width="5.6" fill="none"/>
<ellipse cx="288.9" cy="1336" rx="103" ry="103.3" transform="rotate(0 288.9 1336)" stroke="#0a0a0a" stroke-width="5.6" fill="none"/>
<g clip-path="url(#cl6)">
<path d="M303.7 1459.2 L303.7 1460 L303.8 1460.8 L303.9 1461.5 L304 1462.3 L304.1 1463.1 L304.3 1463.9 L304.6 1464.6 L304.8 1465.4 L305.1 1466.1 L305.5 1466.8 L305.9 1467.5 L306.3 1468.2 L306.7 1468.8 L307.2 1469.4 L307.7 1470 L308.2 1470.6 L308.8 1471.2 L309.4 1471.7 L310 1472.2 L310.6 1472.7 L311.3 1473.1 L312 1473.5 L312.7 1473.9 L313.4 1474.2 L314.1 1474.5 L314.9 1474.7 L315.6 1475 L316.4 1475.1 L317.2 1475.3 L317.9 1475.4 L318.7 1475.5 L319.5 1475.5 L320.3 1475.5 L321.1 1475.4 L321.9 1475.3 L322.7 1475.2 L323.4 1475.1 L323.5 1475.1 L323.8 1475 L326.8 1474.2 L327.2 1474.1 L330.2 1473.2 L330.6 1473.1 L333.6 1472.1 L333.9 1472 L336.9 1471 L337.3 1470.9 L340.2 1469.8 L340.5 1469.6 L343.4 1468.5 L343.8 1468.3 L346.7 1467.1 L347 1466.9 L349.9 1465.6 L350.2 1465.5 L353 1464.1 L353.4 1463.9 L356.1 1462.5 L356.5 1462.3 L359.2 1460.8 L359.6 1460.6 L362.2 1459 L362.6 1458.8 L365.2 1457.2 L365.6 1457 L368.2 1455.3 L368.5 1455 L371.1 1453.3 L371.4 1453 L373.9 1451.2 L374.2 1451 L376.7 1449.1 L377 1448.8 L379.5 1446.9 L379.8 1446.6 L382.2 1444.6 L382.5 1444.4 L384.8 1442.3 L385.1 1442 L387.4 1439.9 L387.6 1439.6 L389.9 1437.5 L390.2 1437.2 L392.3 1435 L392.6 1434.7 L394.7 1432.4 L395 1432.1 L397.1 1429.7 L397.3 1429.4 L399.3 1427.1 L399.6 1426.8 L401.5 1424.3 L401.8 1424 L403.6 1421.5 L403.9 1421.2 L405.7 1418.7 L405.9 1418.4 L407.7 1415.8 L407.9 1415.4 L409.6 1412.8 L409.8 1412.5 L411.5 1409.8 L411.7 1409.5 L413.2 1406.8 L413.4 1406.5 L414.9 1403.7 L415.1 1403.4 L416.5 1400.6 L416.7 1400.3 L418.1 1397.4 L418.3 1397.1 L419.6 1394.2 L419.7 1393.9 L420.9 1391 L421.1 1390.7 L422.2 1387.8 L422.4 1387.4 L423.5 1384.5 L423.6 1384.1 L424.6 1381.1 L424.7 1380.8 L425.7 1377.8 L425.8 1377.4 L426.7 1374.4 L426.8 1374 L427.6 1371 L427.7 1370.6 L428.4 1367.6 L428.5 1367.2 L429.1 1364.1 L429.2 1363.8 L429.8 1360.7 L429.8 1360.3 L430.3 1357.2 L430.4 1356.8 L430.8 1353.7 L430.8 1353.3 L431.2 1350.2 L431.2 1349.9 L431.5 1346.7 L431.5 1346.3 L431.7 1343.2 L431.7 1342.8 L431.8 1339.7 L431.9 1339.3 L431.9 1336.2 L431.9 1335.8 L431.9 1332.7 L431.8 1332.3 L431.7 1329.2 L431.7 1328.8 L431.5 1325.7 L431.5 1325.3 L431.2 1322.1 L431.2 1321.8 L431.2 1321.5 L431.1 1320.7 L430.9 1319.9 L430.7 1319.1 L430.5 1318.4 L430.2 1317.6 L430 1316.9 L429.6 1316.2 L429.3 1315.5 L428.9 1314.8 L428.4 1314.2 L428 1313.5 L427.5 1312.9 L427 1312.3 L426.4 1311.7 L425.8 1311.2 L425.2 1310.7 L424.6 1310.2 L423.9 1309.8 L423.3 1309.4 L422.6 1309 L421.9 1308.7 L421.2 1308.3 L420.4 1308.1 L419.7 1307.8 L418.9 1307.6 L418.1 1307.5 L417.3 1307.4 L416.6 1307.3 L415.8 1307.2 L415 1307.2 L414.2 1307.3 L413.4 1307.3 L412.6 1307.4 L411.9 1307.6 L411.1 1307.8 L410.3 1308 L409.6 1308.3 L397.2 1312.9 L396.3 1313.3 L396 1313.4 L395.8 1313.5 L395.6 1313.6 L395.2 1313.8 L395 1313.9 L394.6 1314 L394.4 1314.1 L393.9 1314.3 L393.8 1314.3 L393.2 1314.5 L393.1 1314.6 L392.3 1314.8 L392.2 1314.9 L391.4 1315.2 L391.3 1315.2 L390.3 1315.5 L389.1 1315.9 L387.7 1316.4 L386.1 1316.9 L384.2 1317.4 L382.2 1318 L380.1 1318.7 L377.8 1319.3 L375.5 1320 L373.1 1320.7 L373 1320.7 L370.6 1321.4 L370.5 1321.5 L368 1322.2 L368 1322.2 L365.4 1323 L365.4 1323 L362.9 1323.7 L362.8 1323.8 L360.3 1324.5 L360.2 1324.6 L357.8 1325.3 L357.7 1325.3 L355.4 1326.1 L355.2 1326.1 L353 1326.9 L352.9 1326.9 L350.7 1327.7 L350.6 1327.7 L348.4 1328.5 L348.3 1328.5 L346 1329.3 L345.9 1329.4 L343.5 1330.2 L343.5 1330.3 L341 1331.2 L340.9 1331.2 L338.5 1332.1 L338.4 1332.1 L335.9 1333.1 L335.9 1333.1 L333.4 1334 L333.3 1334.1 L330.9 1335 L330.8 1335 L328.4 1336 L328.4 1336 L326.1 1336.9 L326 1336.9 L323.8 1337.8 L323.7 1337.9 L321.6 1338.7 L321.5 1338.8 L319.6 1339.6 L319.5 1339.6 L319.1 1339.8 L318.3 1340.1 L317.6 1340.5 L317 1340.9 L316.3 1341.3 L315.7 1341.8 L315 1342.3 L314.4 1342.8 L313.9 1343.4 L313.3 1344 L312.8 1344.6 L312.4 1345.2 L311.9 1345.8 L311.5 1346.5 L311.1 1347.2 L310.8 1347.9 L310.5 1348.7 L310.2 1349.4 L310 1350.1 L309.8 1350.9 L309.6 1351.7 L309.5 1352.5 L309.4 1353.3 L309.4 1353.8 L309.4 1353.9 L309.3 1355.2 L309.3 1355.3 L309.2 1356.7 L309.2 1356.8 L309.1 1358.2 L309.1 1358.3 L309 1359.9 L309 1359.9 L308.9 1361.5 L308.9 1361.6 L308.8 1363.3 L308.8 1363.3 L308.7 1365.1 L308.7 1365.1 L308.6 1367 L308.5 1368.9 L308.4 1370.9 L308.3 1372.9 L308.2 1375.1 L308.1 1377.2 L308 1379.5 L307.9 1381.8 L307.8 1384.1 L307.6 1386.6 L307.5 1389.1 L307.3 1391.7 L307.1 1394.6 L306.9 1397.6 L306.7 1400.8 L306.5 1404.1 L306.3 1407.4 L306 1410.8 L305.8 1414.1 L305.5 1417.4 L305.3 1420.7 L305.1 1423.8 L304.9 1426.7 L304.7 1429.5 L304.7 1429.5 L304.5 1432 L304.5 1432 L304.4 1434.2 L304.4 1434.2 L304.3 1436.1 L304.3 1436.1 L304.2 1437.7 L304.2 1437.7 L304.1 1439 L304.1 1439.1 L304 1440.1 L304 1440.2 L304 1441.1 L304 1441.2 L304 1441.8 L304 1441.9 L304 1442.3 L304 1442.9 L304 1443.5 L304 1443.8 L304 1444 L304 1444.1 L304 1444.3 L304 1444.5 L304 1444.6 L304 1444.7 L304 1444.9 L304 1445 L304 1445.2ZM195.7 1227.3 L195.1 1227.9 L194.5 1228.4 L194 1229 L193.5 1229.6 L193 1230.2 L192.6 1230.9 L192.2 1231.5 L191.8 1232.2 L191.4 1232.9 L191.1 1233.6 L190.9 1234.4 L190.6 1235.1 L190.4 1235.9 L190.3 1236.6 L190.1 1237.4 L190 1238.2 L190 1239 L190 1239.8 L190 1240.6 L190.1 1241.3 L190.2 1242.1 L190.3 1242.9 L190.5 1243.6 L190.7 1244.4 L191 1245.1 L191.3 1245.9 L191.6 1246.6 L192 1247.3 L192.4 1248 L192.8 1248.6 L193.2 1249.3 L193.7 1249.9 L194.2 1250.5 L194.8 1251 L195.4 1251.5 L196 1252.1 L196.6 1252.5 L197.2 1253 L205.1 1258.1 L205.3 1258.3 L205.5 1258.4 L205.7 1258.5 L205.8 1258.6 L206 1258.7 L206.1 1258.8 L206.3 1258.9 L206.5 1259.1 L206.5 1259.1 L206.6 1259.1 L206.7 1259.2 L206.8 1259.3 L206.9 1259.3 L207 1259.4 L207.1 1259.5 L207.4 1259.7 L207.5 1259.7 L207.8 1260 L207.9 1260 L208.4 1260.3 L208.5 1260.4 L209.2 1260.8 L209.2 1260.8 L210 1261.4 L210.1 1261.4 L211.1 1262 L211.2 1262.1 L212.4 1262.8 L212.4 1262.9 L213.8 1263.7 L213.9 1263.8 L215.5 1264.8 L215.6 1264.8 L217.4 1265.9 L217.5 1266 L219.6 1267.2 L219.6 1267.2 L221.9 1268.7 L224.5 1270.2 L227.2 1271.8 L229.9 1273.5 L232.8 1275.2 L235.8 1277 L238.8 1278.8 L241.8 1280.7 L244.8 1282.5 L247.8 1284.4 L250.7 1286.3 L253.6 1288.1 L253.7 1288.2 L256.3 1289.9 L256.4 1290 L259.1 1291.8 L261.9 1293.7 L264.7 1295.7 L267.6 1297.7 L270.6 1299.8 L273.5 1301.8 L276.4 1303.9 L279.2 1306 L282 1308 L284.6 1310 L287.2 1311.9 L289.6 1313.7 L291.1 1314.8 L291.8 1315.2 L292.4 1315.6 L293.1 1316 L293.8 1316.4 L294.5 1316.7 L295.2 1317 L295.9 1317.2 L296.6 1317.4 L297.4 1317.6 L298.1 1317.8 L298.9 1317.9 L299.7 1317.9 L300.4 1318 L301.2 1318 L302 1317.9 L302.7 1317.8 L303.5 1317.7 L304.3 1317.6 L305 1317.4 L305.7 1317.2 L306.5 1316.9 L307.2 1316.6 L307.3 1316.6 L307.4 1316.5 L309.3 1315.7 L309.4 1315.6 L311.5 1314.8 L313.8 1313.8 L316.3 1312.8 L318.8 1311.8 L321.3 1310.8 L324 1309.8 L326.6 1308.8 L329.2 1307.8 L331.9 1306.8 L334.5 1305.8 L337.1 1304.9 L339.6 1304 L342.1 1303.1 L342.2 1303.1 L344.5 1302.3 L344.7 1302.3 L347.2 1301.4 L347.3 1301.4 L349.8 1300.6 L352.5 1299.7 L355.2 1298.9 L357.9 1298.1 L360.5 1297.3 L363.2 1296.5 L365.7 1295.8 L368.2 1295 L370.5 1294.4 L372.8 1293.7 L372.8 1293.7 L374.8 1293.1 L374.8 1293.1 L376.7 1292.6 L376.7 1292.5 L378.3 1292.1 L378.4 1292 L379.7 1291.6 L379.9 1291.6 L381 1291.2 L381.1 1291.2 L382.1 1290.9 L382.2 1290.8 L383 1290.6 L383.1 1290.5 L383.7 1290.3 L383.8 1290.3 L384.3 1290.1 L384.4 1290.1 L384.6 1290 L385.2 1289.8 L385.8 1289.5 L386.1 1289.4 L386.2 1289.3 L386.3 1289.3 L386.6 1289.2 L386.7 1289.1 L386.7 1289.1 L386.9 1289 L387.1 1288.9 L387.2 1288.9 L387.4 1288.8 L402.1 1283.3 L402.8 1283 L403.5 1282.7 L404.2 1282.3 L404.9 1281.9 L405.6 1281.5 L406.2 1281 L406.8 1280.5 L407.4 1280 L407.9 1279.5 L408.5 1278.9 L409 1278.3 L409.5 1277.7 L409.9 1277 L410.3 1276.3 L410.7 1275.7 L411 1274.9 L411.3 1274.2 L411.6 1273.5 L411.8 1272.7 L412 1272 L412.2 1271.2 L412.3 1270.5 L412.4 1269.7 L412.4 1268.9 L412.5 1268.1 L412.4 1267.3 L412.4 1266.5 L412.3 1265.8 L412.1 1265 L411.9 1264.2 L411.7 1263.5 L411.5 1262.7 L411.2 1262 L410.8 1261.3 L410.5 1260.6 L410.1 1259.9 L409.8 1259.5 L409.6 1259.2 L407.9 1256.6 L407.7 1256.2 L405.9 1253.6 L405.7 1253.3 L403.9 1250.8 L403.6 1250.5 L401.8 1248 L401.5 1247.7 L399.6 1245.2 L399.3 1244.9 L397.3 1242.6 L397.1 1242.3 L395 1239.9 L394.7 1239.6 L392.6 1237.3 L392.3 1237 L390.2 1234.8 L389.9 1234.5 L387.6 1232.4 L387.4 1232.1 L385.1 1230 L384.8 1229.7 L382.5 1227.6 L382.2 1227.4 L379.8 1225.4 L379.5 1225.1 L377 1223.2 L376.7 1222.9 L374.2 1221 L373.9 1220.8 L371.4 1219 L371.1 1218.7 L368.5 1217 L368.2 1216.7 L365.6 1215 L365.2 1214.8 L362.6 1213.2 L362.2 1213 L359.6 1211.4 L359.2 1211.2 L356.5 1209.7 L356.1 1209.5 L353.4 1208.1 L353 1207.9 L350.2 1206.5 L349.9 1206.4 L347 1205.1 L346.7 1204.9 L343.8 1203.7 L343.4 1203.5 L340.5 1202.4 L340.2 1202.2 L337.3 1201.1 L336.9 1201 L333.9 1200 L333.6 1199.9 L330.6 1198.9 L330.2 1198.8 L327.2 1197.9 L326.8 1197.8 L323.8 1197 L323.5 1196.9 L320.4 1196.2 L320 1196.1 L317 1195.5 L316.6 1195.4 L313.5 1194.8 L313.2 1194.8 L310.1 1194.3 L309.7 1194.2 L306.6 1193.8 L306.2 1193.8 L303.1 1193.4 L302.7 1193.4 L299.6 1193.1 L299.2 1193.1 L296.1 1192.9 L295.7 1192.9 L292.6 1192.8 L292.2 1192.7 L289.1 1192.7 L288.7 1192.7 L285.6 1192.7 L285.2 1192.8 L282.1 1192.9 L281.7 1192.9 L278.6 1193.1 L278.2 1193.1 L275.1 1193.4 L274.7 1193.4 L271.6 1193.8 L271.2 1193.8 L268.1 1194.2 L267.7 1194.3 L264.6 1194.8 L264.3 1194.8 L261.2 1195.4 L260.8 1195.5 L257.8 1196.1 L257.4 1196.2 L254.3 1196.9 L254 1197 L251 1197.8 L250.6 1197.9 L247.6 1198.8 L247.2 1198.9 L244.2 1199.9 L243.9 1200 L240.9 1201 L240.5 1201.1 L237.6 1202.2 L237.3 1202.4 L234.4 1203.5 L234 1203.7 L231.1 1204.9 L230.8 1205.1 L227.9 1206.4 L227.6 1206.5 L224.8 1207.9 L224.4 1208.1 L221.7 1209.5 L221.3 1209.7 L218.6 1211.2 L218.2 1211.4 L215.6 1213 L215.2 1213.2 L212.6 1214.8 L212.2 1215 L209.6 1216.7 L209.3 1217 L206.7 1218.7 L206.4 1219 L203.9 1220.8 L203.6 1221 L201.1 1222.9 L200.8 1223.2 L198.3 1225.1 L198 1225.4ZM207.2 1290.1 L205.5 1289.1 L203.7 1288.3 L201.9 1287.5 L200.1 1286.8 L198.3 1286.1 L196.4 1285.6 L194.5 1285.2 L192.6 1284.8 L190.6 1284.6 L188.7 1284.5 L186.7 1284.4 L184.8 1284.4 L182.8 1284.6 L180.9 1284.8 L179 1285.1 L177 1285.5 L175.2 1286.1 L173.3 1286.7 L171.5 1287.3 L169.7 1288.1 L167.9 1289 L166.2 1289.9 L164.6 1291 L163 1292.1 L161.4 1293.3 L159.9 1294.5 L158.5 1295.9 L157.2 1297.3 L155.9 1298.7 L154.7 1300.3 L153.5 1301.9 L152.5 1303.5 L151.5 1305.2 L150.6 1306.9 L149.8 1308.7 L149 1310.5 L148.4 1312.4 L147.9 1314.2 L147.4 1316.1 L147.1 1318.1 L146.8 1320 L146.6 1321.5 L146.5 1322.4 L146.3 1325 L146.3 1325.9 L146.1 1328.5 L146.1 1329.5 L146 1332 L145.9 1333 L145.9 1335.5 L145.9 1336.5 L145.9 1339 L146 1340 L146.1 1342.5 L146.1 1343.5 L146.3 1346.1 L146.3 1347 L146.5 1349.6 L146.6 1350.5 L146.9 1353.1 L147 1354 L147.4 1356.5 L147.5 1357.5 L147.9 1360 L148.1 1361 L148.6 1363.5 L148.7 1364.4 L149.3 1366.9 L149.5 1367.9 L150.1 1370.3 L150.3 1371.3 L151 1373.7 L151.2 1374.7 L151.9 1377.1 L152.2 1378.1 L153 1380.5 L153.3 1381.4 L154.1 1383.8 L154.4 1384.7 L155.3 1387.1 L155.7 1388 L156.6 1390.4 L157 1391.3 L158 1393.6 L158.4 1394.5 L159.4 1396.8 L159.8 1397.7 L161 1400 L161.4 1400.9 L162.6 1403.1 L163 1404 L164.2 1406.2 L164.7 1407.1 L166 1409.2 L166.5 1410.1 L167.8 1412.2 L168.4 1413.1 L169.7 1415.2 L170.3 1416 L171.7 1418.1 L172.3 1418.9 L173.8 1421 L174.3 1421.8 L175.9 1423.8 L176.5 1424.5 L178.1 1426.5 L178.7 1427.3 L180.3 1429.2 L180.9 1430 L182.6 1431.9 L183.3 1432.6 L185 1434.5 L185.7 1435.2 L187.4 1437 L188.1 1437.7 L189.9 1439.4 L190.7 1440.1 L192.5 1441.8 L193.2 1442.5 L195.1 1444.2 L195.9 1444.8 L197.8 1446.5 L198.6 1447.1 L200.5 1448.7 L201.3 1449.3 L203.3 1450.8 L204.1 1451.4 L206.2 1452.9 L207 1453.4 L209 1454.9 L209.9 1455.4 L212 1456.8 L212.8 1457.3 L215 1458.7 L215.8 1459.2 L218 1460.4 L218.8 1460.9 L219.5 1461.3 L221.2 1462.2 L223 1463 L224.8 1463.7 L226.6 1464.4 L228.5 1464.9 L230.4 1465.4 L232.4 1465.7 L234.3 1466 L236.2 1466.2 L238.2 1466.2 L240.2 1466.2 L242.1 1466.1 L244.1 1465.9 L246 1465.6 L247.9 1465.2 L249.8 1464.7 L251.7 1464.1 L253.5 1463.4 L255.3 1462.7 L257.1 1461.8 L258.8 1460.9 L260.5 1459.8 L262.1 1458.7 L263.7 1457.6 L265.2 1456.3 L266.6 1455 L268 1453.6 L269.3 1452.1 L270.5 1450.6 L271.7 1449 L272.7 1447.4 L273.7 1445.7 L274.6 1444 L275.5 1442.2 L276.2 1440.4 L276.8 1438.5 L277.4 1436.6 L277.9 1434.7 L278.2 1432.8 L278.5 1430.9 L278.7 1428.9 L278.8 1427.7 L279 1424.9 L279.2 1422 L279.4 1418.9 L279.6 1415.6 L279.8 1412.3 L280.1 1409 L280.3 1405.6 L280.5 1402.3 L280.8 1399 L281 1395.9 L281 1395.8 L281.2 1392.9 L281.2 1392.8 L281.4 1390.1 L281.4 1390 L281.5 1387.6 L281.5 1387.4 L281.7 1385.1 L281.7 1385 L281.8 1382.8 L281.8 1382.7 L281.9 1380.5 L281.9 1380.4 L282 1378.2 L282.1 1378.1 L282.2 1376 L282.2 1375.9 L282.3 1373.8 L282.3 1373.8 L282.4 1371.7 L282.5 1369.7 L282.6 1367.7 L282.7 1365.7 L282.7 1363.9 L282.8 1363.1 L282.8 1361.1 L282.8 1359.2 L282.6 1357.2 L282.4 1355.2 L282 1353.3 L281.6 1351.3 L281.1 1349.4 L280.4 1347.6 L279.7 1345.7 L278.9 1343.9 L278 1342.1 L277 1340.4 L276 1338.8 L274.8 1337.1 L273.6 1335.6 L272.3 1334.1 L270.9 1332.7 L269.5 1331.3 L268 1330 L266.4 1328.8 L264 1327.1 L263.9 1327 L261.2 1325.1 L261.1 1325 L258.4 1323.1 L258.3 1323 L255.6 1321 L255.5 1320.9 L252.8 1319.1 L252.6 1318.9 L250 1317.1 L249.8 1317 L247.3 1315.2 L247.1 1315.1 L244.7 1313.4 L244.4 1313.3 L242.1 1311.7 L241.8 1311.5 L239.6 1310 L239.3 1309.8 L236.9 1308.3 L236.6 1308.1 L234.1 1306.5 L233.9 1306.4 L231.2 1304.7 L231 1304.6 L228.3 1302.9 L228.1 1302.8 L225.3 1301.1 L225.2 1301 L222.4 1299.3 L222.3 1299.2 L219.4 1297.5 L219.4 1297.4 L216.6 1295.8 L216.5 1295.7 L213.8 1294.1 L211.1 1292.5 L208.6 1291Z" stroke="#0a0a0a" stroke-width="5.6" fill="none" stroke-linejoin="round"/>
<path d="M297.8 1338.1C296.4 1336.8 297.8 1336.2 289.7 1330C281.6 1323.8 263 1310 249.2 1300.8C235.4 1291.6 215.5 1280.1 207 1274.8C198.5 1269.5 203.7 1272.7 198 1269C192.3 1265.3 177 1255.5 172.8 1252.7" stroke="#0a0a0a" stroke-width="5" fill="none"/>
<path d="M297.8 1338.1C299.7 1336.8 301 1333.8 309.1 1330C317.2 1326.2 334 1319.7 346.4 1315.4C358.8 1311.1 376.1 1306.4 383.7 1304C391.3 1301.6 385.9 1303.2 392 1301C398.1 1298.8 415.5 1292.5 420.2 1290.8" stroke="#0a0a0a" stroke-width="5" fill="none"/>
<path d="M297.8 1338.1C297.5 1341.1 296.8 1347.5 296.2 1355.9C295.6 1364.3 295.3 1375.1 294.5 1388.3C293.7 1401.5 291.9 1425.8 291.3 1435.3C290.7 1444.8 291.2 1438.4 291 1445C290.8 1451.6 290.2 1470 290.1 1475" stroke="#0a0a0a" stroke-width="5" fill="none"/>
<circle cx="297.8" cy="1338.1" r="6.5" fill="#0a0a0a"/>
</g>
<path d="M406.5 1116C405.5 1117.7 402.8 1122.7 400.5 1126C398.2 1129.3 394.2 1134.3 393 1136" stroke="#0a0a0a" stroke-width="9.5" fill="none"/>
<path d="M864.5 1006.7 L862.8 1012.1 L861.5 1017.9 L860.8 1023.2 L860.6 1029 L860.9 1039.2 L861.6 1047.7 L862.9 1057 L864.5 1064.3 L866.4 1070.3 L867.7 1073.6 L870 1077.8 L874.5 1085 L877.4 1088.9 L881.1 1093.5 L885.5 1098.2 L890.4 1102.8 L896.9 1107.7 L904.7 1112 L916.3 1117 L930.8 1122.6 L939.3 1125.2 L945.7 1126.9 L970.9 1131.7 L986.2 1135.2 L996.2 1137.7 L1002.2 1139.5 L1010.2 1142.2 L1015.6 1144.3 L1022.7 1147.5 L1033.2 1153.2 L1046.1 1161.4 L1055.6 1168.1 L1064.5 1175.2 L1070.6 1180.7 L1076.1 1186.6 L1079.3 1191.6 L1083.6 1200.1 L1085 1201.5 L1086.8 1202.2 L1088.8 1202.2 L1090.6 1201.5 L1091.3 1200.8 L1092 1200.1 L1092.7 1198.3 L1092.7 1196.3 L1092.4 1195.4 L1088.9 1188.2 L1086.2 1183.4 L1083.6 1179.8 L1079 1174.6 L1070.6 1166.7 L1059.9 1158.2 L1046.6 1149.2 L1033.3 1141.2 L1025 1137 L1017.9 1133.9 L1010.4 1131.1 L1000.7 1128.1 L990.8 1125.5 L975.4 1122 L947.8 1116.6 L936.6 1113.5 L927.7 1110.3 L914.4 1104.9 L906.9 1101.3 L902.7 1098.9 L898.3 1095.8 L894.1 1092 L887.5 1085 L884.2 1080.5 L880.1 1074.1 L877.1 1068.9 L875.1 1063.2 L873.4 1056.1 L872.5 1050 L871.6 1042.2 L871.1 1029 L871.5 1021.4 L873.1 1014.1 L875.9 1006.4 L877.8 1002.4 L880 998.6 L882.9 994.2 L887.2 988.4 L889.9 985.1 L894.7 979.8 L910.4 964 L920.5 954.6 L932.9 944.8 L946.6 935.2 L956.3 929.2 L965.9 923.6 L974.6 918.9 L984.3 914.1 L1001.8 906.1 L1012.9 901.4 L1019.9 898.9 L1031 895.4 L1032.6 894.1 L1033.1 892.9 L1033.1 891.5 L1032.2 889.7 L1031 889 L1029 888.8 L1015.8 891.7 L1004 895.1 L990 900 L976.4 906.3 L962 913.8 L946.6 922.8 L935 930.4 L923.2 939.1 L911.4 948.7 L901.4 958.1 L886 973.7 L878.4 982.6 L872.2 991.3 L867.5 999.5Z" fill="#1a1a24"/>
<path d="M1313.9 1332.9 L1298.3 1334 L1263.7 1334.7 L1262.1 1335.4 L1260.9 1336.6 L1260.2 1338.2 L1260.2 1340 L1260.9 1341.6 L1261.4 1342.3 L1262.9 1343.3 L1264.6 1343.6 L1300 1343.8 L1309.9 1343.2 L1319.1 1342.3 L1324.2 1341.5 L1331 1340 L1342.4 1336.6 L1347.6 1334.6 L1352.7 1332.2 L1362.1 1327 L1368.7 1322.6 L1375.8 1316.9 L1383.4 1309.8 L1390.5 1302.2 L1396.6 1295 L1405.4 1283.3 L1425.4 1254.3 L1433.2 1243.8 L1438.5 1237.4 L1443.5 1231.8 L1450.3 1224.8 L1456.1 1219.3 L1466.4 1210.6 L1478.4 1201.5 L1490.6 1193.2 L1501.2 1186.9 L1510.3 1182.6 L1520 1178.8 L1527.1 1176.7 L1538.1 1174.2 L1540.2 1173.3 L1541.9 1171.6 L1542.8 1169.5 L1542.8 1167.1 L1541.9 1165 L1541.1 1164.1 L1539.2 1162.8 L1538.1 1162.4 L1535.7 1162.4 L1522.1 1166.3 L1514.2 1169.3 L1504.7 1173.7 L1492.1 1180.6 L1481.5 1187.2 L1469.4 1195.7 L1459.2 1203.6 L1449.1 1212.3 L1440.4 1220.5 L1432.6 1228.9 L1426.1 1236.8 L1420.4 1244.2 L1399.5 1274.4 L1389.6 1287.7 L1384.8 1293.6 L1380.6 1298.3 L1374.8 1304.2 L1370.2 1308.5 L1364.7 1313.1 L1358.2 1317.7 L1351.6 1321.6 L1343.8 1325.4 L1336.8 1328 L1330.8 1329.7 L1322.2 1331.7Z" fill="#1a1a24"/>
<path d="M1314 1342.6 L1314 1344.4 L1314.7 1346 L1327 1361.1 L1336 1373.6 L1341.2 1382.6 L1346.4 1393.3 L1350.9 1404.4 L1353.4 1413 L1354.5 1418.7 L1356.3 1431.6 L1357.1 1440.3 L1356.8 1446.2 L1355.2 1454.6 L1349.2 1477.3 L1345.5 1487.7 L1338.4 1503.8 L1328.6 1524 L1322.8 1534.9 L1312.5 1552.7 L1312.2 1554.5 L1312.2 1555.4 L1313 1557.1 L1313.5 1557.9 L1315.1 1558.9 L1316.9 1559.2 L1318.7 1558.9 L1320.3 1557.9 L1320.8 1557.1 L1330.7 1540.1 L1336.3 1529.6 L1342.4 1517.5 L1349.1 1503.3 L1353.5 1493.3 L1355.8 1487.5 L1357.9 1481 L1364.5 1456.4 L1366.1 1448 L1366.5 1443.8 L1366.6 1440.3 L1366.3 1435.1 L1365.5 1428.5 L1363.6 1415.4 L1362.1 1408.4 L1359.7 1400.7 L1357 1393.9 L1353.1 1385.1 L1348.8 1376.6 L1344.7 1369.6 L1339.6 1362.3 L1333.5 1354.5 L1321.6 1340.3 L1320.9 1339.8 L1319.3 1339.1 L1317.5 1339.1 L1315.9 1339.8 L1315.2 1340.3 L1314.7 1341Z" fill="#1a1a24"/>
<path d="M1358.5 1438.6 L1358.2 1440 L1358.5 1441.4 L1359.3 1442.7 L1362.9 1446.2 L1364.4 1448.5 L1370.1 1463.2 L1374.2 1472.2 L1376.9 1477.6 L1381.3 1484.6 L1384.1 1488.3 L1388.7 1493.8 L1396.7 1502.5 L1404.3 1510.1 L1413.3 1518.2 L1421.3 1524.5 L1425.9 1527.1 L1429.3 1528.2 L1432.8 1529 L1434.6 1529 L1436.2 1528.3 L1436.9 1527.8 L1437.9 1526.3 L1438.2 1524.6 L1437.9 1522.9 L1436.9 1521.4 L1435.4 1520.4 L1430.2 1519.3 L1427.6 1518.3 L1423.7 1515.8 L1417.3 1510.8 L1411.3 1505.6 L1404.9 1499.5 L1398.8 1493 L1390.8 1483.9 L1386.1 1477.5 L1383.2 1472.3 L1376.8 1458.8 L1371.8 1446.2 L1370.5 1443.7 L1368.3 1440.9 L1364.7 1437.3 L1362.7 1436.3 L1361.3 1436.3 L1359.9 1436.9Z" fill="#1a1a24"/>
<path d="M907.2 1028.6C907.2 1035.9 909.4 1044.4 913.3 1050.5C917.2 1056.6 922.7 1061.8 930.4 1065.1C938.1 1068.3 949.7 1069.2 959.6 1070C969.5 1070.8 979.9 1070.8 990 1070C1000.1 1069.2 1007.3 1068.3 1020.5 1065.1C1033.7 1061.8 1053 1056.6 1069.2 1050.5C1085.5 1044.4 1101.8 1036.3 1118 1028.6C1134.2 1020.9 1152.5 1012.7 1166.7 1004.2C1180.9 995.7 1193.9 985.9 1203.2 977.4C1212.5 968.9 1218.8 960 1222.7 953.1C1226.6 946.2 1227.2 941.7 1226.4 936C1225.6 930.3 1222.9 923.7 1217.8 919C1212.7 914.3 1206.5 910.4 1195.9 908C1185.4 905.6 1169.5 904.2 1154.5 904.4C1139.5 904.6 1122 906.4 1105.8 909.2C1089.6 912 1073.3 916.5 1057.1 921.4C1040.8 926.3 1024.5 932 1008.3 938.5C992 945 973 952.7 959.6 960.4C946.2 968.1 935.7 977.1 928 984.8C920.3 992.5 916.8 999.4 913.3 1006.7C909.8 1014 907.2 1021.3 907.2 1028.6Z" stroke="#0a0a0a" stroke-width="5.6" fill="none"/>
<path d="M952 1070.5C954.3 1071.1 961.5 1072.8 966 1074C970.5 1075.2 976.7 1077.2 978.8 1077.9" stroke="#0a0a0a" stroke-width="5.1" fill="none"/>
<path d="M1008.3 993.3 L1054.6 968.9" stroke="#0a0a0a" stroke-width="5.5" fill="none"/>
<path d="M1035.1 982.3 L1048.5 1011.5" stroke="#0a0a0a" stroke-width="5.5" fill="none"/>
<path d="M1074.1 968.9 L1104.6 990.8 L1098.5 953.1" stroke="#0a0a0a" stroke-width="5.5" fill="none"/>
<path d="M1299.6 938.6C1300.1 933.6 1302 927.7 1305 923.6C1308 919.5 1311.5 916 1317.9 913.9C1324.3 911.8 1332.2 911.2 1343.6 910.7C1355 910.2 1372.2 909.8 1386.5 910.7C1400.8 911.6 1415 912.9 1429.3 916.1C1443.6 919.3 1457.9 924.5 1472.2 930C1486.5 935.5 1502.6 942.9 1515.1 949.3C1527.6 955.7 1536.5 961.1 1547.2 968.6C1557.9 976.1 1570.1 985.7 1579.4 994.3C1588.7 1002.9 1596.6 1011.8 1603 1020C1609.4 1028.2 1615.2 1036.8 1618 1043.6C1620.8 1050.4 1620.8 1055.8 1620.1 1060.8C1619.4 1065.8 1618 1070.2 1613.7 1073.6C1609.4 1077 1601.9 1079.7 1594.4 1081.1C1586.9 1082.5 1580.1 1082.7 1568.7 1082.2C1557.3 1081.7 1540.1 1080.4 1525.8 1077.9C1511.5 1075.4 1497.2 1071.8 1482.9 1067.2C1468.6 1062.6 1454.4 1056.5 1440.1 1050.1C1425.8 1043.7 1410.4 1035.8 1397.2 1028.6C1384 1021.4 1371.4 1014 1360.7 1007.2C1350 1000.4 1341.1 994.3 1332.9 987.9C1324.7 981.5 1316.6 974.3 1311.4 968.6C1306.2 962.9 1303.8 958.6 1301.8 953.6C1299.8 948.6 1299.1 943.6 1299.6 938.6Z" stroke="#0a0a0a" stroke-width="5.6" fill="none"/>
<path d="M1392.9 978.2 L1413.3 951.4 L1422.9 983.6 L1447.6 965.4 L1435.8 999.7" stroke="#0a0a0a" stroke-width="5.5" fill="none"/>
<path d="M1459.3 981.5 L1465.8 1012.5 L1492.6 987.9" stroke="#0a0a0a" stroke-width="5.5" fill="none"/>
<ellipse cx="1140.1" cy="1300.5" rx="121.2" ry="117.5" transform="rotate(0 1140.1 1300.5)" stroke="#0a0a0a" stroke-width="5.6" fill="none"/>
<ellipse cx="1141.3" cy="1299.7" rx="104.6" ry="103.7" transform="rotate(0 1141.3 1299.7)" stroke="#0a0a0a" stroke-width="5.6" fill="none"/>
<g clip-path="url(#cl7)">
<path d="M1165.8 1301.8 L1165.5 1302.2 L1165.2 1302.7 L1165 1303.1 L1164.8 1303.6 L1164.6 1304 L1164.5 1304.5 L1164.3 1305 L1164.2 1305.5 L1164.1 1306 L1164.1 1306.5 L1164 1307 L1164 1307.5 L1164 1308 L1164.1 1308.5 L1164.1 1309 L1164.2 1309.5 L1164.3 1309.9 L1164.5 1310.4 L1164.6 1310.9 L1164.8 1311.4 L1165.2 1312.2 L1165.8 1313.7 L1166.5 1315.3 L1167.2 1317 L1167.9 1318.8 L1168.7 1320.7 L1169.6 1322.7 L1170.4 1324.8 L1171.3 1327 L1172.2 1329.2 L1173.1 1331.5 L1174 1333.9 L1175 1336.3 L1175.9 1338.7 L1176.8 1341.2 L1177.8 1343.8 L1178.8 1346.4 L1179.8 1349.3 L1180.9 1352.4 L1182 1355.6 L1183.2 1358.9 L1184.3 1362.2 L1185.5 1365.6 L1186.7 1369 L1187.8 1372.3 L1188.9 1375.6 L1190 1378.7 L1191 1381.7 L1191.9 1384.4 L1192.8 1387 L1193.5 1389.3 L1194.2 1391.2 L1194.2 1391.3 L1194.7 1393 L1194.7 1393.1 L1195.2 1394.5 L1195.2 1394.7 L1195.6 1395.9 L1195.6 1396.1 L1195.9 1397.1 L1195.9 1397.2 L1196 1397.4 L1196 1397.4 L1196.2 1398.2 L1196.2 1398.3 L1196.3 1398.6 L1196.3 1398.6 L1196.4 1399.2 L1196.4 1399.3 L1196.5 1399.7 L1196.5 1399.8 L1196.6 1400.2 L1196.6 1400.3 L1196.7 1400.8 L1196.7 1400.9 L1196.8 1401.2 L1196.8 1401.3 L1196.9 1401.9 L1196.9 1402 L1196.9 1402.2 L1196.9 1402.4 L1196.9 1403 L1197 1403.4 L1197 1403.8 L1197.1 1404.3 L1199.5 1416.9 L1199.6 1417.4 L1199.7 1417.9 L1199.9 1418.3 L1200 1418.8 L1200.2 1419.2 L1200.4 1419.7 L1200.7 1420.1 L1200.9 1420.5 L1201.2 1420.9 L1201.5 1421.3 L1201.8 1421.7 L1202.2 1422.1 L1202.5 1422.4 L1202.9 1422.7 L1203.3 1423 L1203.7 1423.3 L1204.1 1423.6 L1204.5 1423.8 L1204.9 1424.1 L1205.4 1424.3 L1205.8 1424.4 L1206.3 1424.6 L1206.8 1424.7 L1207.2 1424.8 L1207.7 1424.9 L1208.2 1425 L1208.7 1425 L1209.2 1425.1 L1209.7 1425.1 L1210.2 1425 L1210.6 1425 L1211.1 1424.9 L1211.6 1424.8 L1212.1 1424.7 L1212.5 1424.5 L1213 1424.4 L1213.5 1424.2 L1213.9 1424 L1214.3 1423.7 L1215.5 1423 L1215.7 1422.9 L1218.6 1421.2 L1218.8 1421 L1221.5 1419.2 L1221.7 1419.1 L1224.5 1417.3 L1224.7 1417.1 L1227.3 1415.2 L1227.5 1415 L1230.2 1413.1 L1230.4 1412.9 L1232.9 1410.9 L1233.1 1410.7 L1235.7 1408.6 L1235.8 1408.4 L1238.3 1406.3 L1238.5 1406.1 L1240.9 1403.9 L1241.1 1403.7 L1243.5 1401.4 L1243.6 1401.2 L1245.9 1398.9 L1246.1 1398.7 L1248.4 1396.3 L1248.5 1396.1 L1250.7 1393.7 L1250.9 1393.5 L1253 1391 L1253.2 1390.8 L1255.2 1388.2 L1255.4 1388 L1257.4 1385.4 L1257.5 1385.2 L1259.5 1382.5 L1259.6 1382.3 L1261.5 1379.6 L1261.6 1379.4 L1263.4 1376.7 L1263.5 1376.5 L1265.3 1373.7 L1265.4 1373.5 L1267.1 1370.6 L1267.2 1370.4 L1268.8 1367.5 L1268.9 1367.3 L1270.4 1364.4 L1270.5 1364.2 L1272 1361.3 L1272.1 1361 L1273.4 1358 L1273.5 1357.8 L1274.8 1354.8 L1274.9 1354.6 L1276.2 1351.5 L1276.3 1351.3 L1277.4 1348.2 L1277.5 1348 L1278.6 1344.9 L1278.6 1344.7 L1279.6 1341.5 L1279.7 1341.3 L1280.6 1338.1 L1280.7 1337.9 L1281.5 1334.7 L1281.6 1334.5 L1282.4 1331.3 L1282.4 1331.1 L1283.1 1327.9 L1283.1 1327.6 L1283.7 1324.4 L1283.8 1324.1 L1284.3 1320.9 L1284.4 1320.7 L1284.8 1317.4 L1284.8 1317.2 L1285.2 1313.9 L1285.2 1313.7 L1285.5 1310.4 L1285.5 1310.1 L1285.7 1306.9 L1285.7 1306.6 L1285.9 1303.3 L1285.9 1303.1 L1285.9 1299.8 L1285.9 1299.6 L1285.9 1296.3 L1285.9 1296.1 L1285.7 1292.8 L1285.7 1292.5 L1285.5 1289.3 L1285.5 1289 L1285.2 1285.7 L1285.2 1285.5 L1284.8 1282.2 L1284.8 1282 L1284.4 1278.7 L1284.3 1278.5 L1283.8 1275.3 L1283.7 1275 L1283.1 1271.8 L1283.1 1271.5 L1282.4 1268.3 L1282.4 1268.1 L1281.6 1264.9 L1281.5 1264.7 L1280.7 1261.5 L1280.6 1261.3 L1279.7 1258.1 L1279.6 1257.9 L1278.6 1254.7 L1278.6 1254.5 L1277.5 1251.4 L1277.4 1251.2 L1276.3 1248.1 L1276.2 1247.9 L1274.9 1244.8 L1274.8 1244.6 L1273.5 1241.6 L1273.4 1241.4 L1272.1 1238.4 L1272 1238.1 L1270.5 1235.2 L1270.4 1235 L1268.9 1232.1 L1268.8 1231.9 L1267.2 1229 L1267.1 1228.8 L1265.4 1225.9 L1265.3 1225.7 L1263.5 1222.9 L1263.4 1222.7 L1261.6 1220 L1261.5 1219.8 L1259.6 1217.1 L1259.5 1216.9 L1257.5 1214.2 L1257.4 1214 L1255.4 1211.4 L1255.2 1211.2 L1253.2 1208.6 L1253 1208.4 L1250.9 1205.9 L1250.7 1205.7 L1248.5 1203.3 L1248.4 1203.1 L1246.1 1200.7 L1245.9 1200.5 L1243.6 1198.2 L1243.5 1198 L1241.1 1195.7 L1240.9 1195.5 L1240.8 1195.4 L1240.4 1195.1 L1240 1194.8 L1239.6 1194.5 L1239.2 1194.2 L1238.8 1194 L1238.3 1193.7 L1237.9 1193.5 L1237.4 1193.4 L1236.9 1193.2 L1236.5 1193.1 L1236 1193 L1235.5 1192.9 L1235 1192.8 L1234.5 1192.8 L1234 1192.8 L1233.5 1192.8 L1233 1192.8 L1232.5 1192.9 L1232 1192.9 L1231.6 1193.1 L1231.1 1193.2 L1230.6 1193.3 L1230.1 1193.5 L1229.7 1193.7 L1229.3 1194 L1228.8 1194.2 L1228.4 1194.5 L1228 1194.8 L1227.6 1195.1 L1227.2 1195.4 L1226.9 1195.7 L1226.5 1196.1 L1226.2 1196.5 L1225.9 1196.9 L1225.6 1197.3 L1225.4 1197.7 L1225.1 1198.1 L1224.9 1198.6 L1215.1 1219.7 L1214.9 1220.4 L1214.8 1220.5 L1214.7 1220.8 L1214.7 1220.9 L1214.6 1221 L1214.6 1221.1 L1214.5 1221.3 L1214.5 1221.4 L1214.4 1221.6 L1214.3 1221.8 L1214.1 1222.2 L1214 1222.3 L1213.8 1222.8 L1213.7 1222.9 L1213.4 1223.6 L1213.4 1223.6 L1213 1224.4 L1213 1224.5 L1212.5 1225.4 L1211.9 1226.5 L1211.3 1227.8 L1211.3 1227.8 L1210.6 1229.2 L1210.5 1229.3 L1209.7 1230.9 L1209.7 1230.9 L1208.8 1232.8 L1208.8 1232.8 L1207.7 1234.9 L1206.6 1237.2 L1205.4 1239.6 L1204.2 1242.1 L1202.9 1244.7 L1201.5 1247.3 L1200.1 1250 L1200.1 1250.1 L1198.7 1252.8 L1198.7 1252.9 L1197.3 1255.5 L1197.2 1255.6 L1195.8 1258.2 L1195.7 1258.3 L1194.3 1260.8 L1194.2 1261 L1192.9 1263.4 L1192.7 1263.6 L1191.4 1265.9 L1191.2 1266.1 L1189.8 1268.3 L1189.7 1268.5 L1188.2 1270.8 L1188.1 1271 L1186.5 1273.3 L1186.4 1273.5 L1184.8 1275.8 L1184.7 1275.9 L1183 1278.3 L1183 1278.4 L1181.3 1280.7 L1181.2 1280.8 L1179.5 1283.1 L1177.8 1285.4 L1176.1 1287.7 L1174.4 1289.9 L1172.9 1292 L1172.9 1292 L1171.4 1294 L1171.4 1294 L1170 1295.9 L1170 1295.9 L1168.7 1297.6 L1168.7 1297.7 L1167.6 1299.1 L1167.5 1299.2 L1166.6 1300.6 L1166.6 1300.7ZM1007.6 1244.9 L1007.4 1245.5 L1007.2 1246.1 L1007 1246.7 L1006.9 1247.4 L1006.8 1248 L1006.7 1248.6 L1006.7 1249.3 L1006.7 1249.9 L1006.7 1250.6 L1006.8 1251.2 L1006.9 1251.8 L1007 1252.5 L1007.1 1253.1 L1007.3 1253.7 L1007.5 1254.3 L1007.7 1254.9 L1008 1255.5 L1008.3 1256.1 L1008.6 1256.6 L1009 1257.1 L1009.4 1257.7 L1009.8 1258.2 L1010.2 1258.6 L1010.6 1259.1 L1011.1 1259.5 L1011.6 1259.9 L1012.1 1260.3 L1012.6 1260.7 L1013.2 1261 L1013.8 1261.3 L1014.3 1261.6 L1014.9 1261.9 L1015.5 1262.1 L1016.1 1262.3 L1016.8 1262.4 L1036.8 1267.1 L1037.7 1267.2 L1037.9 1267.3 L1038 1267.3 L1038.3 1267.4 L1038.4 1267.4 L1038.6 1267.4 L1038.8 1267.5 L1039.2 1267.6 L1039.3 1267.6 L1039.8 1267.7 L1039.9 1267.7 L1040.6 1267.9 L1041.5 1268.1 L1042.7 1268.4 L1044.1 1268.8 L1045.7 1269.2 L1047.6 1269.7 L1049.9 1270.4 L1052.4 1271.1 L1055.1 1271.8 L1058 1272.6 L1061.1 1273.5 L1064.3 1274.4 L1064.3 1274.4 L1067.6 1275.3 L1067.6 1275.3 L1070.9 1276.2 L1071 1276.2 L1074.3 1277.1 L1074.4 1277.1 L1077.7 1278 L1077.8 1278.1 L1081.1 1278.9 L1081.2 1279 L1084.5 1279.8 L1084.6 1279.8 L1087.8 1280.6 L1087.8 1280.7 L1090.9 1281.4 L1091 1281.4 L1093.9 1282.1 L1094 1282.2 L1096.9 1282.8 L1097 1282.8 L1100.1 1283.5 L1100.2 1283.5 L1103.3 1284.2 L1103.4 1284.2 L1106.7 1284.9 L1106.8 1284.9 L1110.1 1285.6 L1110.2 1285.6 L1113.5 1286.3 L1113.6 1286.3 L1116.9 1286.9 L1117 1286.9 L1120.3 1287.6 L1120.3 1287.6 L1123.6 1288.2 L1123.6 1288.2 L1126.8 1288.8 L1129.9 1289.4 L1132.8 1289.9 L1133 1290 L1133.6 1290.1 L1134.2 1290.1 L1134.9 1290.2 L1135.5 1290.2 L1136.2 1290.2 L1136.8 1290.1 L1137.5 1290 L1138.1 1289.9 L1138.7 1289.8 L1139.4 1289.6 L1140 1289.4 L1140.6 1289.1 L1141.2 1288.8 L1141.7 1288.5 L1142.3 1288.2 L1142.8 1287.9 L1143.3 1287.5 L1143.8 1287.1 L1144.3 1286.6 L1144.8 1286.2 L1145.2 1285.7 L1145.6 1285.2 L1146 1284.7 L1146.3 1284.2 L1146.4 1284.1 L1147.6 1282.4 L1147.7 1282.3 L1149 1280.5 L1150.5 1278.5 L1152 1276.5 L1153.6 1274.3 L1155.2 1272.2 L1155.3 1272.2 L1156.9 1270 L1156.9 1269.9 L1158.5 1267.8 L1158.6 1267.7 L1160.2 1265.5 L1160.2 1265.4 L1161.8 1263.3 L1161.9 1263.2 L1163.4 1261 L1163.5 1260.9 L1164.9 1258.8 L1165 1258.7 L1166.4 1256.6 L1166.5 1256.5 L1167.8 1254.5 L1167.9 1254.3 L1169.1 1252.5 L1169.2 1252.3 L1170.3 1250.4 L1170.4 1250.2 L1171.6 1248.1 L1171.7 1248 L1173 1245.8 L1173 1245.6 L1174.3 1243.3 L1174.4 1243.2 L1175.7 1240.7 L1175.7 1240.7 L1177 1238.2 L1177.1 1238.1 L1178.3 1235.6 L1178.4 1235.5 L1179.6 1233 L1179.7 1233 L1180.9 1230.5 L1180.9 1230.5 L1182.1 1228 L1182.1 1228 L1183.3 1225.7 L1183.3 1225.7 L1184.4 1223.4 L1185.5 1221.3 L1186.4 1219.4 L1187.3 1217.6 L1187.3 1217.5 L1188.1 1216 L1188.8 1214.7 L1188.8 1214.7 L1189.3 1213.7 L1189.3 1213.6 L1189.7 1212.8 L1189.8 1212.8 L1190.1 1212.2 L1190.1 1212.1 L1190.2 1211.9 L1190.4 1211.4 L1190.6 1210.9 L1190.8 1210.4 L1190.9 1210.2 L1190.9 1210.2 L1190.9 1210.1 L1191.1 1209.8 L1191.1 1209.7 L1191.2 1209.5 L1202.9 1184.2 L1203.2 1183.6 L1203.4 1183 L1203.6 1182.4 L1203.8 1181.8 L1203.9 1181.1 L1204 1180.5 L1204.1 1179.9 L1204.1 1179.2 L1204.1 1178.6 L1204.1 1178 L1204 1177.3 L1204 1176.7 L1203.8 1176.1 L1203.7 1175.4 L1203.5 1174.8 L1203.3 1174.2 L1203.1 1173.6 L1202.8 1173 L1202.5 1172.5 L1202.2 1171.9 L1201.8 1171.4 L1201.5 1170.9 L1201.1 1170.4 L1200.6 1169.9 L1200.2 1169.4 L1199.7 1169 L1199.2 1168.6 L1198.7 1168.2 L1198.2 1167.8 L1197.6 1167.5 L1197.1 1167.2 L1196.5 1166.9 L1195.9 1166.7 L1193.5 1165.7 L1193.2 1165.6 L1190.2 1164.5 L1189.9 1164.3 L1186.8 1163.3 L1186.5 1163.2 L1183.4 1162.2 L1183.1 1162.1 L1180 1161.2 L1179.7 1161.2 L1176.6 1160.3 L1176.3 1160.3 L1173.1 1159.5 L1172.8 1159.5 L1169.7 1158.8 L1169.4 1158.7 L1166.2 1158.1 L1165.9 1158.1 L1162.7 1157.6 L1162.4 1157.5 L1159.2 1157.1 L1158.8 1157.1 L1155.6 1156.7 L1155.3 1156.7 L1152.1 1156.4 L1151.8 1156.4 L1148.6 1156.2 L1148.2 1156.2 L1145 1156 L1144.7 1156 L1141.5 1156 L1141.1 1156 L1137.9 1156 L1137.6 1156 L1134.4 1156.2 L1134 1156.2 L1130.8 1156.4 L1130.5 1156.4 L1127.3 1156.7 L1127 1156.7 L1123.8 1157.1 L1123.4 1157.1 L1120.2 1157.5 L1119.9 1157.6 L1116.7 1158.1 L1116.4 1158.1 L1113.2 1158.7 L1112.9 1158.8 L1109.8 1159.5 L1109.5 1159.5 L1106.3 1160.3 L1106 1160.3 L1102.9 1161.2 L1102.6 1161.2 L1099.5 1162.1 L1099.2 1162.2 L1096.1 1163.2 L1095.8 1163.3 L1092.7 1164.3 L1092.4 1164.5 L1089.4 1165.6 L1089.1 1165.7 L1086.1 1166.9 L1085.8 1167 L1082.8 1168.3 L1082.6 1168.4 L1079.6 1169.7 L1079.3 1169.9 L1076.4 1171.3 L1076.1 1171.4 L1073.3 1172.9 L1073 1173 L1070.2 1174.6 L1069.9 1174.7 L1067.1 1176.4 L1066.8 1176.5 L1064.1 1178.2 L1063.8 1178.4 L1061.1 1180.1 L1060.8 1180.3 L1058.2 1182.1 L1057.9 1182.3 L1055.3 1184.2 L1055 1184.4 L1052.5 1186.3 L1052.2 1186.5 L1049.7 1188.5 L1049.4 1188.7 L1047 1190.8 L1046.7 1191 L1044.3 1193.1 L1044.1 1193.3 L1041.7 1195.5 L1041.5 1195.7 L1039.2 1198 L1038.9 1198.2 L1036.7 1200.5 L1036.5 1200.7 L1034.3 1203.1 L1034.1 1203.3 L1031.9 1205.7 L1031.7 1206 L1029.6 1208.4 L1029.4 1208.7 L1027.4 1211.2 L1027.2 1211.4 L1025.3 1214 L1025.1 1214.2 L1023.2 1216.8 L1023 1217.1 L1021.2 1219.7 L1021 1220 L1019.2 1222.7 L1019 1223 L1017.4 1225.7 L1017.2 1226 L1015.6 1228.7 L1015.4 1229 L1013.9 1231.8 L1013.7 1232.1 L1012.2 1234.9 L1012.1 1235.2 L1010.7 1238.1 L1010.5 1238.4 L1009.2 1241.3 L1009 1241.6 L1007.8 1244.6 L1007.6 1244.9ZM1028.5 1291.8 L1027.3 1291.6 L1026.1 1291.4 L1024.8 1291.3 L1023.6 1291.2 L1022.4 1291.2 L1021.1 1291.3 L1019.9 1291.4 L1018.7 1291.6 L1017.4 1291.8 L1016.2 1292.1 L1015.1 1292.5 L1013.9 1292.9 L1012.7 1293.3 L1011.6 1293.9 L1010.5 1294.5 L1009.5 1295.1 L1008.4 1295.8 L1007.4 1296.5 L1006.5 1297.3 L1005.6 1298.2 L1004.7 1299 L1003.9 1300 L1003.1 1300.9 L1002.4 1301.9 L1001.7 1302.9 L1001 1304 L1000.5 1305.1 L999.9 1306.2 L999.5 1307.4 L999.1 1308.6 L998.7 1309.7 L998.4 1311 L998.2 1312.2 L998 1313.4 L997.9 1314.6 L997.9 1315.9 L997.9 1317.1 L998 1318.4 L998.1 1319.6 L998.2 1320.5 L998.3 1321.1 L998.8 1324 L998.9 1324.6 L999.4 1327.4 L999.5 1328 L1000.1 1330.9 L1000.3 1331.5 L1001 1334.3 L1001.1 1334.9 L1001.9 1337.7 L1002 1338.3 L1002.8 1341.1 L1003 1341.7 L1003.9 1344.5 L1004.1 1345.1 L1005.1 1347.8 L1005.3 1348.4 L1006.3 1351.1 L1006.5 1351.7 L1007.6 1354.4 L1007.8 1355 L1009 1357.7 L1009.2 1358.2 L1010.5 1360.9 L1010.7 1361.4 L1012 1364 L1012.3 1364.6 L1013.6 1367.2 L1013.9 1367.7 L1015.3 1370.3 L1015.6 1370.8 L1017.1 1373.3 L1017.4 1373.8 L1019 1376.3 L1019.3 1376.8 L1020.9 1379.3 L1021.2 1379.8 L1022.9 1382.2 L1023.3 1382.7 L1025 1385.1 L1025.3 1385.5 L1027.1 1387.9 L1027.5 1388.3 L1029.3 1390.6 L1029.7 1391.1 L1031.6 1393.3 L1032 1393.8 L1034 1396 L1034.4 1396.4 L1036.4 1398.6 L1036.8 1399 L1038.8 1401.1 L1039.3 1401.5 L1041.4 1403.6 L1041.8 1404 L1044 1406 L1044.4 1406.4 L1046.6 1408.3 L1047.1 1408.7 L1049.3 1410.6 L1049.8 1411 L1052.1 1412.8 L1052.6 1413.2 L1054.9 1414.9 L1055.4 1415.3 L1057.8 1417 L1058.3 1417.4 L1060.7 1419 L1061.2 1419.3 L1063.7 1420.9 L1064.2 1421.3 L1066.7 1422.8 L1067.2 1423.1 L1069.8 1424.6 L1070.3 1424.9 L1072.9 1426.3 L1073.4 1426.6 L1076 1427.9 L1076.6 1428.2 L1079.2 1429.5 L1079.8 1429.7 L1082.4 1430.9 L1083 1431.2 L1085.7 1432.3 L1086.2 1432.6 L1089 1433.7 L1089.5 1433.9 L1092.3 1434.9 L1092.9 1435.1 L1095.7 1436 L1096.2 1436.2 L1099 1437.1 L1099.6 1437.3 L1102.4 1438.1 L1103 1438.3 L1105.9 1439 L1106.5 1439.2 L1109.3 1439.8 L1109.9 1440 L1112.8 1440.6 L1113.4 1440.7 L1116.3 1441.2 L1116.9 1441.3 L1119.8 1441.8 L1120.4 1441.9 L1123.3 1442.3 L1123.9 1442.4 L1126.8 1442.7 L1127.4 1442.7 L1130.4 1443 L1131 1443 L1133.9 1443.2 L1134.5 1443.2 L1137.4 1443.3 L1138.1 1443.4 L1141 1443.4 L1141.6 1443.4 L1144.5 1443.4 L1145.2 1443.3 L1148.1 1443.2 L1148.7 1443.2 L1149.4 1443.2 L1150.6 1443.1 L1151.8 1442.9 L1153 1442.7 L1154.1 1442.4 L1155.3 1442.1 L1156.4 1441.7 L1157.6 1441.2 L1158.7 1440.7 L1159.8 1440.2 L1160.8 1439.6 L1161.8 1438.9 L1162.8 1438.2 L1163.8 1437.5 L1164.7 1436.7 L1165.6 1435.8 L1166.4 1435 L1167.2 1434 L1167.9 1433.1 L1168.6 1432.1 L1169.3 1431.1 L1169.9 1430 L1170.4 1428.9 L1170.9 1427.8 L1171.3 1426.7 L1171.7 1425.5 L1172.1 1424.4 L1172.3 1423.2 L1172.5 1422 L1172.7 1420.8 L1172.8 1419.6 L1172.8 1418.4 L1172.8 1417.2 L1172.7 1416 L1172.6 1414.8 L1172.4 1413.6 L1171.2 1407.4 L1171.2 1407.3 L1171.2 1407 L1171.1 1406.9 L1171.1 1406.3 L1171 1406.2 L1171 1405.8 L1171 1405.8 L1170.9 1404.8 L1170.6 1403.6 L1170.4 1402.4 L1170 1401.2 L1170 1401 L1169.9 1400.7 L1169.5 1399.4 L1169.4 1399.2 L1168.8 1397.5 L1168.8 1397.4 L1168.1 1395.2 L1168.1 1395.2 L1167.3 1392.7 L1167.2 1392.7 L1166.3 1390 L1166.3 1390 L1165.4 1387.1 L1165.3 1387 L1164.3 1384 L1164.3 1383.9 L1163.2 1380.8 L1163.2 1380.7 L1162.1 1377.5 L1162.1 1377.4 L1160.9 1374.1 L1160.9 1374.1 L1159.8 1370.8 L1159.8 1370.7 L1158.6 1367.5 L1158.6 1367.4 L1157.5 1364.2 L1157.5 1364.2 L1156.4 1361.1 L1156.4 1361.1 L1155.3 1358.2 L1155.3 1358.1 L1154.3 1355.4 L1154.3 1355.3 L1153.4 1352.9 L1153.4 1352.7 L1152.5 1350.5 L1152.5 1350.3 L1151.6 1348.1 L1151.6 1348 L1150.7 1345.7 L1150.7 1345.6 L1149.8 1343.4 L1149.8 1343.3 L1149 1341.2 L1148.9 1341.1 L1148.1 1339 L1148 1338.9 L1147.2 1336.8 L1147.2 1336.7 L1146.4 1334.7 L1146.3 1334.6 L1145.5 1332.7 L1145.5 1332.6 L1144.7 1330.7 L1144.7 1330.7 L1144.5 1330.1 L1144 1329 L1143.4 1327.9 L1142.8 1326.8 L1142.1 1325.7 L1141.4 1324.7 L1140.6 1323.8 L1139.8 1322.8 L1139 1321.9 L1138.1 1321.1 L1137.1 1320.3 L1136.1 1319.5 L1135.1 1318.8 L1134.1 1318.2 L1133 1317.5 L1131.9 1317 L1130.7 1316.5 L1129.6 1316.1 L1128.4 1315.7 L1127.2 1315.4 L1126 1315.1 L1125.1 1314.9 L1122 1314.4 L1118.8 1313.8 L1115.5 1313.1 L1112.1 1312.5 L1108.6 1311.8 L1105.1 1311.1 L1101.6 1310.4 L1098.1 1309.7 L1094.7 1309 L1091.4 1308.2 L1088.2 1307.5 L1085 1306.7 L1081.6 1305.9 L1078.2 1305 L1074.7 1304.1 L1071.1 1303.2 L1067.6 1302.2 L1064.1 1301.3 L1060.7 1300.3 L1057.4 1299.4 L1054.1 1298.5 L1051.1 1297.7 L1048.2 1296.9 L1045.5 1296.1 L1045.5 1296.1 L1043.1 1295.5 L1043 1295.4 L1041 1294.9 L1040.8 1294.8 L1039.1 1294.4 L1039 1294.3 L1037.5 1294 L1037.5 1293.9 L1036.2 1293.6 L1036.2 1293.6 L1035.2 1293.3 L1035.1 1293.3 L1034.7 1293.2 L1032.9 1292.8 L1032.9 1292.8 L1032.6 1292.8 L1032.4 1292.7 L1032.1 1292.7 L1032.1 1292.7Z" stroke="#0a0a0a" stroke-width="5.6" fill="none" stroke-linejoin="round"/>
<path d="M1147.8 1306.2C1146.5 1305.9 1149.2 1306.4 1139.7 1304.5C1130.2 1302.6 1107.2 1298.6 1091 1294.8C1074.8 1291 1051.7 1284.3 1042.4 1281.8C1033.1 1279.3 1041.1 1281.5 1035 1280C1028.9 1278.5 1010.7 1274.1 1005.8 1272.9" stroke="#0a0a0a" stroke-width="5" fill="none"/>
<path d="M1147.8 1306.2C1149.2 1304 1150.5 1301 1155.9 1293.2C1161.3 1285.4 1172.9 1271.1 1180.2 1259.2C1187.5 1247.3 1195.9 1229.3 1199.7 1221.9C1203.5 1214.5 1200.3 1220.7 1203 1215C1205.7 1209.3 1213.8 1192.4 1215.9 1187.9" stroke="#0a0a0a" stroke-width="5" fill="none"/>
<path d="M1147.8 1306.2C1148.6 1307.8 1149.6 1308.9 1152.6 1315.9C1155.6 1322.9 1160.7 1335.1 1165.6 1348.3C1170.5 1361.5 1178.7 1385.8 1181.8 1395.3C1184.9 1404.8 1182.5 1398.5 1184 1405C1185.5 1411.5 1189.5 1429.4 1190.6 1434.3" stroke="#0a0a0a" stroke-width="5" fill="none"/>
<circle cx="1147.8" cy="1306.2" r="6.5" fill="#0a0a0a"/>
</g>
<ellipse cx="1266.5" cy="1104.7" rx="117.5" ry="118.3" stroke="#0a0a0a" stroke-width="5.6" fill="none"/>
<ellipse cx="1268.9" cy="1103.4" rx="100.5" ry="101.7" stroke="#0a0a0a" stroke-width="5.6" fill="none"/>
<g clip-path="url(#cl8)">
<path d="M1195 1030C1196.5 1031.4 1200.5 1034.7 1203.8 1038.3C1207.1 1041.9 1208.9 1046.8 1214.8 1051.7C1220.7 1056.6 1228.3 1060.2 1239.2 1067.5C1250.1 1074.8 1267 1086.3 1280 1095.5C1293 1104.7 1307 1115.3 1317.4 1122.4C1327.8 1129.5 1334.9 1134.3 1342.3 1138C1349.7 1141.7 1356.5 1143.3 1362 1144.5C1367.5 1145.7 1372.8 1144.9 1375 1145" stroke="#0a0a0a" stroke-width="5.6" fill="none"/>
<path d="M1180 1043C1183.8 1044.9 1192.7 1048.8 1202.6 1054.5C1212.5 1060.2 1226.3 1068.4 1239.2 1077C1252.1 1085.6 1267 1096.8 1280 1106C1293 1115.2 1305.5 1124.1 1317.4 1132.4C1329.4 1140.8 1344.3 1151 1351.7 1156.1C1359.1 1161.2 1360.3 1161.8 1362 1163" stroke="#0a0a0a" stroke-width="5.6" fill="none"/>
<path d="M1165 1068C1168.2 1068.1 1178.1 1067.6 1184.4 1068.7C1190.7 1069.8 1193.5 1071.1 1202.6 1074.8C1211.7 1078.5 1226.3 1084.1 1239.2 1091C1252.1 1097.9 1267 1107.2 1280 1116C1293 1124.8 1307.5 1135.5 1317.4 1143.6C1327.3 1151.7 1334.3 1158.7 1339.2 1164.8C1344.1 1170.9 1345.7 1177.5 1347 1180" stroke="#0a0a0a" stroke-width="5.6" fill="none"/>
</g>
<text x="16.5" y="726.3">a</text><text x="898.7" y="726.3">b</text><text x="16.2" y="1595.3">c</text><text x="899" y="1595.3">d</text>
</svg>
</body></html>
